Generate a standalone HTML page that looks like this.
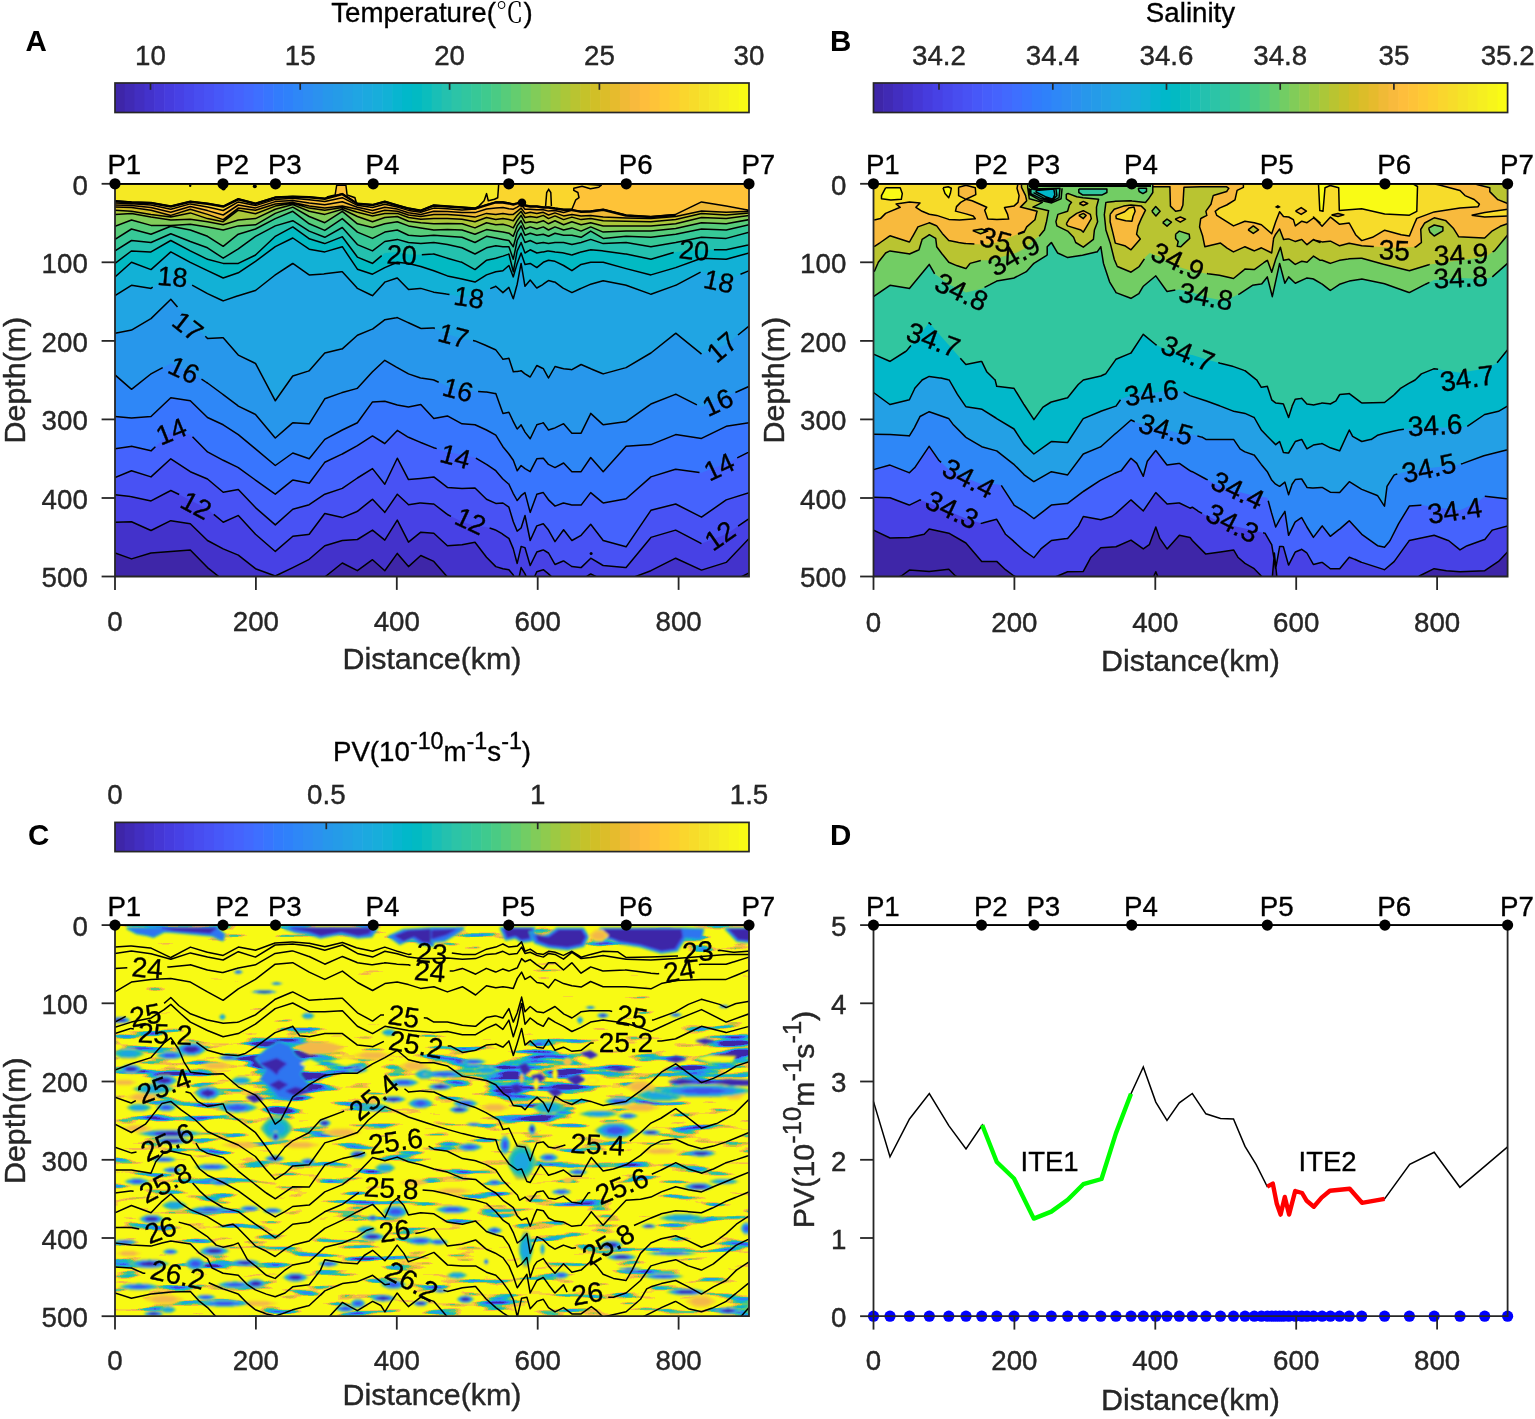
<!DOCTYPE html>
<html lang="en"><head><meta charset="utf-8"><title>Figure</title>
<style>html,body{margin:0;padding:0;background:#fff}body{width:1535px;height:1419px;overflow:hidden}svg{display:block;font-family:'Liberation Sans', 'Noto Sans CJK SC', sans-serif}text{stroke:currentColor;stroke-width:0.35px;paint-order:stroke}</style>
</head><body>
<svg width="1535" height="1419" viewBox="0 0 1535 1419">
<rect width="1535" height="1419" fill="#fff"/>
<g id="panelA">
<clipPath id="clipA"><rect x="115" y="183.8" width="634" height="392.7"/></clipPath>
<g clip-path="url(#clipA)">
<rect x="115" y="183.8" width="634" height="392.7" fill="#f5e924"/>
<path d="M115 200.8L131.5 201.9L151 202.5L170.8 206.1L190.3 201.3L207.5 203.3L223.2 206.1L238.3 198.8L255.5 203.3L275.3 197.1L292.8 196.3L309.2 196.7L324.8 198.3L342.3 193.6L357.4 203.3L372.5 204.6L384.8 201.3L397.3 205L408.5 208.1L420.8 210.2L433.8 205L447.4 206.1L462 207.1L475 208.1L478.9 206.1L484.1 200.8L486.6 193.6L488.3 200.8L494.5 199.2L497.7 197.7L498.7 184.2L498.7 178.8L754 178.8L754 183.8L754 636.5L110 636.5L110 200.8Z" fill="#fad62d"/>
<path d="M115 202.9L131.5 203.7L151 205.1L170.8 209.2L190.3 203.9L207.5 207L223.2 210.5L238.3 201.9L255.5 205.6L275.3 199.4L292.8 198.3L309.2 199.8L324.8 201.6L342.3 197.7L357.4 205.3L372.5 207.5L384.8 204.2L397.3 207.1L408.5 210.4L420.8 212.3L433.8 208.1L447.4 208.8L462 209.9L475 209.1L486.5 204.6L495.8 201.9L502.9 201.9L508.9 202.9L513.3 204L517.2 202.9L521.1 200.8L525 205L530.2 206.1L536.8 206.1L543.3 207.1L548.5 207.1L555 208.1L563.6 209.2L571.9 209.2L575.8 199.8L579 197.7L577.9 192.5L573.8 190.4L573.8 188.3L582.1 186.3L590.4 188.8L598.8 187.3L601.3 185.2L586.3 184.2L577.9 184.2L577.9 178.8L754 178.8L754 183.8L754 636.5L110 636.5L110 202.9Z" fill="#fec338"/>
<path d="M115 205L131.5 205.6L151 207.6L170.8 212.2L190.3 206.5L207.5 210.6L223.2 215L238.3 205L255.5 207.9L275.3 201.6L292.8 200.4L309.2 202.9L324.8 204.8L342.3 201.8L357.4 207.2L372.5 210.4L384.8 207.2L397.3 209.1L408.5 212.7L420.8 214.4L433.8 211.2L447.4 211.6L462 212.6L475 212.6L486.5 209L495.8 208.1L502.9 207.6L508.9 208.7L513.3 209.2L517.2 207.1L521.1 204.5L525 209.2L530.2 209.2L536.8 209.7L543.3 209.7L548.5 211.1L555 210.5L563.6 212.5L571.9 210.2L581.1 211.3L590.7 210.9L603.2 209.2L626.1 215L650.9 216.5L675.7 214.4L701.5 201.9L726.2 206.1L749.1 210.2L754 210.2L754 636.5L110 636.5L110 205Z" fill="#f0ba36"/>
<path d="M115 207.1L131.5 207.5L151 210.2L170.8 215.4L190.3 209.2L207.5 214.4L223.2 219.6L238.3 208.1L255.5 210.2L275.3 204L292.8 202.5L309.2 206.1L324.8 208.1L342.3 206.1L357.4 209.2L372.5 213.4L384.8 210.2L397.3 211.3L408.5 215L420.8 216.5L433.8 214.4L447.4 214.4L462 215.4L475 217.1L486.5 213.4L495.8 214.4L502.9 213.4L508.9 214.4L513.3 214.4L517.2 211.3L521.1 208.1L525 213.4L530.2 212.3L536.8 213.4L543.3 212.3L548.5 215L555 212.9L563.6 215.9L571.9 214.4L581.1 215.9L590.7 215.4L603.2 217.1L626.1 217.9L650.9 218.6L675.7 216.5L701.5 210.9L726.2 212.3L749.1 211.3L754 211.3L754 636.5L110 636.5L110 207.1Z" fill="#d1bf27"/>
<path d="M115 210.2L131.5 211.3L151 214.4L170.8 217.1L190.3 212.9L207.5 218.6L223.2 221.7L238.3 210.2L255.5 213.8L275.3 206.1L292.8 203.3L309.2 208.1L324.8 210.2L342.3 207.5L357.4 212.3L372.5 215.9L384.8 213.4L397.3 213.4L408.5 217.5L420.8 219.2L433.8 218.6L447.4 218.6L462 219.2L475 221.7L486.5 217.5L495.8 219.6L502.9 218.6L508.9 219.6L513.3 220.7L517.2 215.4L521.1 211.3L525 217.5L530.2 216.5L536.8 217.5L543.3 215.4L548.5 218.6L555 215.9L563.6 219.6L571.9 217.1L581.1 219.6L590.7 218.6L603.2 220.7L626.1 221.3L650.9 221.7L675.7 219.6L701.5 213.4L726.2 215L749.1 212.9L754 212.9L754 636.5L110 636.5L110 210.2Z" fill="#abc739"/>
<path d="M115 214.4L131.5 213.4L151 217.1L170.8 220L190.3 219.2L207.5 221.7L223.2 224.8L238.3 220L255.5 218.6L275.3 209.2L292.8 204.6L309.2 211.3L324.8 214.4L342.3 209.2L357.4 216.5L372.5 221.7L384.8 217.5L397.3 216.5L408.5 221.3L420.8 222.7L433.8 223.8L447.4 223.4L462 223.8L475 227.9L486.5 222.7L495.8 224.8L502.9 224.2L508.9 225.9L513.3 227.9L517.2 220.7L521.1 215.4L525 222.7L530.2 221.7L536.8 222.7L543.3 220.7L548.5 223.8L555 220.7L563.6 224.8L571.9 221.7L581.1 224.8L590.7 222.7L603.2 225.9L626.1 225.9L650.9 225.9L675.7 223.8L701.5 217.5L726.2 218.6L749.1 215.4L754 215.4L754 636.5L110 636.5L110 214.4Z" fill="#81cc59"/>
<path d="M115 226.3L131.5 220L151 225.4L170.8 225.4L190.3 224.2L207.5 226.9L223.2 230L238.3 225.9L255.5 224.8L275.3 213.4L292.8 207.1L309.2 216.5L324.8 222.7L342.3 211.3L357.4 223.8L372.5 227.5L384.8 223.8L397.3 221.7L408.5 225.9L420.8 227.9L433.8 230L447.4 229.6L462 230L475 234.2L486.5 229.6L495.8 231.1L502.9 232.1L508.9 233.2L513.3 236.3L517.2 225.9L521.1 220.7L525 229L530.2 226.9L536.8 229L543.3 226.9L548.5 230L555 226.9L563.6 230L571.9 227.9L581.1 231.1L590.7 226.9L603.2 232.1L626.1 231.1L650.9 231.1L675.7 228.4L701.5 222.7L726.2 223.8L749.1 219.6L754 219.6L754 636.5L110 636.5L110 226.3Z" fill="#57cc7a"/>
<path d="M115 239.4L131.5 229L151 234.2L170.8 226.3L190.3 230L207.5 236.3L223.2 246.3L238.3 234.2L255.5 229L275.3 218.6L292.8 211.3L309.2 223.8L324.8 230.4L342.3 218.6L357.4 232.1L372.5 238.4L384.8 232.1L397.3 230L408.5 235.2L420.8 236.3L433.8 235.2L447.4 236.3L462 237.3L475 242.5L486.5 236.3L495.8 238L502.9 239.4L508.9 240.5L513.3 246.7L517.2 232.1L521.1 225.9L525 235.2L530.2 233.2L536.8 235.2L543.3 234.2L548.5 236.3L555 233.2L563.6 235.2L571.9 235.2L581.1 237.3L590.7 231.1L603.2 238.4L626.1 236.3L650.9 237.3L675.7 234.2L701.5 229L726.2 230L749.1 224.8L754 224.8L754 636.5L110 636.5L110 239.4Z" fill="#37c897"/>
<path d="M115 250.9L131.5 240.5L151 242.5L170.8 233.8L190.3 241.5L207.5 247.8L223.2 258.2L238.3 248.8L255.5 236.3L275.3 225.9L292.8 220.7L309.2 231.1L324.8 237.3L342.3 227.5L357.4 244.6L372.5 250.9L384.8 241.5L397.3 239.4L408.5 242.5L420.8 243.6L433.8 242.5L447.4 244.6L462 247.8L475 254L486.5 247.8L495.8 245.7L502.9 246.7L508.9 246.7L513.3 259.2L517.2 240.5L521.1 233.2L525 242.5L530.2 240.5L536.8 243.6L543.3 242.5L548.5 243.6L555 242.5L563.6 242.5L571.9 244.6L581.1 242.5L590.7 239.4L603.2 243.6L626.1 242.5L650.9 246.7L675.7 242.5L701.5 237.3L726.2 238.4L749.1 232.1L754 232.1L754 636.5L110 636.5L110 250.9Z" fill="#24c1ae"/>
<path d="M115 263.4L131.5 250.9L151 251.9L170.8 240.5L190.3 250.9L207.5 259.2L223.2 263.4L238.3 263.4L255.5 255L275.3 236.3L292.8 226.9L309.2 238.8L324.8 243.6L342.3 236.7L357.4 257.1L372.5 263.4L384.8 253L397.3 251.9L408.5 254.6L420.8 254.8L433.8 254L447.4 258.2L462 262.3L475 269.6L486.5 260.3L495.8 258.2L502.9 256.1L508.9 254L513.3 271.7L517.2 250.9L521.1 242.5L525 253L530.2 249.8L536.8 253L543.3 251.9L548.5 250.9L555 251.9L563.6 253L571.9 255L581.1 251.9L590.7 249.8L603.2 250.9L626.1 254L650.9 259.2L675.7 251.9L701.5 249.8L726.2 249.8L749.1 244.6L754 244.6L754 636.5L110 636.5L110 263.4Z" fill="#02bac3"/>
<path d="M115 276.9L131.5 262.3L151 269.6L170.8 251.9L190.3 262.3L207.5 270.7L223.2 278L238.3 272.8L255.5 261.3L275.3 246.7L292.8 238L309.2 249.2L324.8 251.9L342.3 246.7L357.4 269.2L372.5 274.2L384.8 267.6L397.3 262.3L408.5 263.4L420.8 266.5L433.8 270.7L447.4 275.9L462 279L475 282.1L486.5 274.9L495.8 271.7L502.9 270.7L508.9 265.5L513.3 276.9L517.2 263.4L521.1 253L525 264.4L530.2 263.4L536.8 267.6L543.3 262.3L548.5 260.3L555 261.3L563.6 265.5L571.9 270.7L581.1 264.4L590.7 262.3L603.2 262.3L626.1 268.6L650.9 274.9L675.7 267.6L701.5 258.2L726.2 259.2L749.1 253L754 253L754 636.5L110 636.5L110 276.9Z" fill="#12b1d6"/>
<path d="M115 295.7L131.5 285.3L151 288.4L170.8 274.9L190.3 284.2L207.5 293.6L223.2 300.9L238.3 295.7L255.5 290.5L275.3 274.9L292.8 263.4L309.2 274.9L324.8 273.8L342.3 271.7L357.4 288.4L372.5 295.7L384.8 282.1L397.3 278L408.5 289.4L420.8 288.4L433.8 292.2L447.4 294.2L462 296.7L475 295.7L486.5 290.1L495.8 286.3L502.9 292.6L508.9 287.4L513.3 298.8L517.2 284.2L521.1 263.4L525 286.3L530.2 280.1L536.8 288L543.3 284.2L548.5 280.5L555 282.1L563.6 288.4L571.9 292.6L581.1 288.4L590.7 284.2L603.2 280.7L626.1 285.3L650.9 294.2L675.7 285.3L701.5 271.7L726.2 280.1L749.1 270.7L754 270.7L754 636.5L110 636.5L110 295.7Z" fill="#20a5e3"/>
<path d="M115 333.2L131.5 330.1L151 318.6L170.8 299.2L190.3 321.8L207.5 338.4L223.2 337.8L238.3 355.1L255.5 363.4L275.3 400.8L292.8 376L309.2 370.7L324.8 353L342.3 348.9L357.4 335.3L372.5 329.1L384.8 319.7L397.3 317.6L408.5 322.8L420.8 328.4L433.8 328L447.4 334.3L462 338.4L475 340.9L486.5 345.7L495.8 349.9L502.9 359.3L508.9 358.2L513.3 371.8L517.2 371.4L521.1 370.7L525 373.9L530.2 377L536.8 365.5L543.3 368.7L548.5 378L555 366.6L563.6 368.7L571.9 369.7L581.1 364.5L590.7 368.7L603.2 373.9L626.1 367.6L650.9 353L675.7 333.2L701.5 354.1L726.2 344.7L749.1 325.9L754 325.9L754 636.5L110 636.5L110 333.2Z" fill="#2797eb"/>
<path d="M115 374.9L131.5 389.3L151 373.9L170.8 363.4L190.3 371.8L207.5 383L223.2 394.6L238.3 406.1L255.5 414.4L275.3 438L292.8 422.7L309.2 423.8L324.8 398.8L342.3 392.5L357.4 388.3L372.5 371.8L384.8 360.3L397.3 367.6L408.5 373.9L420.8 378L433.8 380L447.4 386.3L462 390.4L475 391.5L486.5 392.1L495.8 393.6L502.9 413.4L508.9 412.3L513.3 421.7L517.2 429L521.1 424.8L525 432.1L530.2 438.8L536.8 424.8L543.3 422.7L548.5 430L555 427.9L563.6 423.8L571.9 433.2L581.1 433.2L590.7 413.4L603.2 424.8L626.1 421.7L650.9 404L675.7 394.2L701.5 407.1L726.2 396.7L749.1 386.3L754 386.3L754 636.5L110 636.5L110 374.9Z" fill="#2e87f7"/>
<path d="M115 416.5L131.5 417.9L151 416.5L170.8 397.7L190.3 400.8L207.5 417.5L223.2 424.8L238.3 434.6L255.5 448.8L275.3 465.5L292.8 453L309.2 458.8L324.8 439.4L342.3 430L357.4 422.7L372.5 401.9L384.8 401.3L397.3 405L408.5 407.1L420.8 404.6L433.8 418.6L447.4 415.9L462 423.8L475 424.8L486.5 430L495.8 435.2L502.9 446.7L508.9 454L513.3 460.3L517.2 470.7L521.1 465.5L525 468.6L530.2 471.7L536.8 458.8L543.3 458.2L548.5 464.4L555 467.6L563.6 463L571.9 471.7L581.1 471.7L590.7 457.5L603.2 471.7L626.1 446.3L650.9 444.6L675.7 434.6L701.5 438.4L726.2 426.3L749.1 422.7L754 422.7L754 636.5L110 636.5L110 416.5Z" fill="#3875fe"/>
<path d="M115 448.8L131.5 446.3L151 450.9L170.8 432.1L190.3 434.6L207.5 451.9L223.2 460.3L238.3 467.6L255.5 480.1L275.3 494.2L292.8 480.1L309.2 483.2L324.8 462.3L342.3 454L357.4 445.7L372.5 435.9L384.8 443.6L397.3 430.4L408.5 437.3L420.8 442.5L433.8 447.8L447.4 451.9L462 455L475 457.5L486.5 464.4L495.8 470.7L502.9 479L508.9 484.2L513.3 493.6L517.2 500.5L521.1 495.7L525 492.6L530.2 512.4L536.8 494.2L543.3 492.6L548.5 499.9L555 506.1L563.6 503L571.9 505.1L581.1 505.1L590.7 492.6L603.2 503L626.1 498.8L650.9 476.9L675.7 469.2L701.5 472.8L726.2 463.4L749.1 451.9L754 451.9L754 636.5L110 636.5L110 448.8Z" fill="#4563fd"/>
<path d="M115 477.6L131.5 470.7L151 476.9L170.8 458.8L190.3 471.7L207.5 479L223.2 492.2L238.3 489.4L255.5 507.6L275.3 524.9L292.8 509.2L309.2 504.7L324.8 494.2L342.3 488.4L357.4 478L372.5 468.6L384.8 484.2L397.3 458.2L408.5 479.6L420.8 478.4L433.8 476.9L447.4 487.4L462 488.4L475 488L486.5 499.2L495.8 503.4L502.9 503L508.9 507.2L513.3 521.8L517.2 531.1L521.1 528L525 515.5L530.2 540.5L536.8 525.9L543.3 523.8L548.5 530.1L555 541.6L563.6 529.7L571.9 540.5L581.1 535.3L590.7 524.3L603.2 540.5L626.1 546.8L650.9 510.3L675.7 504L701.5 517.2L726.2 499.9L749.1 492.6L754 492.6L754 636.5L110 636.5L110 477.6Z" fill="#4852f4"/>
<path d="M115 494.7L131.5 496.7L151 500.9L170.8 490.5L190.3 499.9L207.5 509.2L223.2 522.2L238.3 515.5L255.5 534.3L275.3 551.4L292.8 536.3L309.2 534.3L324.8 513.4L342.3 517.6L357.4 511.3L372.5 499.2L384.8 512.4L397.3 494.2L408.5 504.7L420.8 503L433.8 504L447.4 514.5L462 521.8L475 525.9L486.5 527L495.8 530.1L502.9 534.3L508.9 538.4L513.3 548.9L517.2 563.4L521.1 546.4L525 547.8L530.2 565.5L536.8 552L543.3 549.9L548.5 553L555 564.5L563.6 560.9L571.9 566.6L581.1 567.6L590.7 558.2L603.2 565.5L626.1 567.6L650.9 537.4L675.7 530.1L701.5 543.6L726.2 534.3L749.1 518.6L754 518.6L754 636.5L110 636.5L110 494.7Z" fill="#4741e5"/>
<path d="M115 522.2L131.5 521.8L151 530.5L170.8 520.7L190.3 523.8L207.5 540.5L223.2 548.9L238.3 555.1L255.5 568.7L275.3 576L292.8 567.6L309.2 559.3L324.8 545.7L342.3 540.5L357.4 539.5L372.5 530.1L384.8 540.1L397.3 520.1L408.5 542.2L420.8 532.2L433.8 533.2L447.4 545.7L462 544.7L475 542.2L486.5 557.2L495.8 566.6L502.9 568.7L508.9 569.7L513.3 574.9L517.2 586.4L521.1 567.6L525 573.9L530.2 586.4L536.8 571.8L543.3 569.7L548.5 573.9L555 580.1L563.6 577L571.9 580.1L581.1 580.1L590.7 573.9L603.2 580.1L626.1 580.1L650.9 570.7L675.7 558.2L701.5 570.1L726.2 562.4L749.1 538.4L754 538.4L754 636.5L110 636.5L110 522.2Z" fill="#4332cb"/>
<path d="M115 553L131.5 558.9L151 553L170.8 551.4L190.3 549.9L207.5 567.6L223.2 580.1L238.3 586.4L255.5 588.5L275.3 588.5L292.8 588.5L309.2 586.4L324.8 577L342.3 563L357.4 570.7L372.5 559.7L384.8 570.7L397.3 553.4L408.5 566.6L420.8 555.5L433.8 561.4L447.4 577L462 588.5L475 588.5L486.5 588.5L495.8 588.5L502.9 588.5L508.9 588.5L513.3 588.5L517.2 588.5L521.1 588.5L525 588.5L530.2 588.5L536.8 588.5L543.3 588.5L548.5 588.5L555 588.5L563.6 588.5L571.9 588.5L581.1 588.5L590.7 588.5L603.2 588.5L626.1 588.5L650.9 588.5L675.7 588.5L701.5 588.5L726.2 584.3L749.1 572.8L754 572.8L754 636.5L110 636.5L110 553Z" fill="#3e26a8"/>
<path d="M326.7 197.1L335.1 195L336.7 185.2L345.9 185.2L347.1 195L354.9 197.7L356.3 202.5" fill="#fec338" stroke="#000" stroke-width="1.5"/>
<path d="M545.6 206.1L546.7 192.5L548.7 189.4L550.8 192.5L551.4 206.1" fill="#fad62d" stroke="#000" stroke-width="1.5"/>
<path d="M115 200.8L131.5 201.9L151 202.5L170.8 206.1L190.3 201.3L207.5 203.3L223.2 206.1L238.3 198.8L255.5 203.3L275.3 197.1L292.8 196.3L309.2 196.7L324.8 198.3L342.3 193.6L357.4 203.3L372.5 204.6L384.8 201.3L397.3 205L408.5 208.1L420.8 210.2L433.8 205L447.4 206.1L462 207.1L475 208.1L478.9 206.1L484.1 200.8L486.6 193.6L488.3 200.8L494.5 199.2L497.7 197.7L498.7 184.2M115 202.9L131.5 203.7L151 205.1L170.8 209.2L190.3 203.9L207.5 207L223.2 210.5L238.3 201.9L255.5 205.6L275.3 199.4L292.8 198.3L309.2 199.8L324.8 201.6L342.3 197.7L357.4 205.3L372.5 207.5L384.8 204.2L397.3 207.1L408.5 210.4L420.8 212.3L433.8 208.1L447.4 208.8L462 209.9L475 209.1L486.5 204.6L495.8 201.9L502.9 201.9L508.9 202.9L513.3 204L517.2 202.9L521.1 200.8L525 205L530.2 206.1L536.8 206.1L543.3 207.1L548.5 207.1L555 208.1L563.6 209.2L571.9 209.2L575.8 199.8L579 197.7L577.9 192.5L573.8 190.4L573.8 188.3L582.1 186.3L590.4 188.8L598.8 187.3L601.3 185.2L586.3 184.2L577.9 184.2M115 205L131.5 205.6L151 207.6L170.8 212.2L190.3 206.5L207.5 210.6L223.2 215L238.3 205L255.5 207.9L275.3 201.6L292.8 200.4L309.2 202.9L324.8 204.8L342.3 201.8L357.4 207.2L372.5 210.4L384.8 207.2L397.3 209.1L408.5 212.7L420.8 214.4L433.8 211.2L447.4 211.6L462 212.6L475 212.6L486.5 209L495.8 208.1L502.9 207.6L508.9 208.7L513.3 209.2L517.2 207.1L521.1 204.5L525 209.2L530.2 209.2L536.8 209.7L543.3 209.7L548.5 211.1L555 210.5L563.6 212.5L571.9 210.2L581.1 211.3L590.7 210.9L603.2 209.2L626.1 215L650.9 216.5L675.7 214.4L701.5 201.9L726.2 206.1L749.1 210.2M115 207.1L131.5 207.5L151 210.2L170.8 215.4L190.3 209.2L207.5 214.4L223.2 219.6L238.3 208.1L255.5 210.2L275.3 204L292.8 202.5L309.2 206.1L324.8 208.1L342.3 206.1L357.4 209.2L372.5 213.4L384.8 210.2L397.3 211.3L408.5 215L420.8 216.5L433.8 214.4L447.4 214.4L462 215.4L475 217.1L486.5 213.4L495.8 214.4L502.9 213.4L508.9 214.4L513.3 214.4L517.2 211.3L521.1 208.1L525 213.4L530.2 212.3L536.8 213.4L543.3 212.3L548.5 215L555 212.9L563.6 215.9L571.9 214.4L581.1 215.9L590.7 215.4L603.2 217.1L626.1 217.9L650.9 218.6L675.7 216.5L701.5 210.9L726.2 212.3L749.1 211.3M115 210.2L131.5 211.3L151 214.4L170.8 217.1L190.3 212.9L207.5 218.6L223.2 221.7L238.3 210.2L255.5 213.8L275.3 206.1L292.8 203.3L309.2 208.1L324.8 210.2L342.3 207.5L357.4 212.3L372.5 215.9L384.8 213.4L397.3 213.4L408.5 217.5L420.8 219.2L433.8 218.6L447.4 218.6L462 219.2L475 221.7L486.5 217.5L495.8 219.6L502.9 218.6L508.9 219.6L513.3 220.7L517.2 215.4L521.1 211.3L525 217.5L530.2 216.5L536.8 217.5L543.3 215.4L548.5 218.6L555 215.9L563.6 219.6L571.9 217.1L581.1 219.6L590.7 218.6L603.2 220.7L626.1 221.3L650.9 221.7L675.7 219.6L701.5 213.4L726.2 215L749.1 212.9M115 214.4L131.5 213.4L151 217.1L170.8 220L190.3 219.2L207.5 221.7L223.2 224.8L238.3 220L255.5 218.6L275.3 209.2L292.8 204.6L309.2 211.3L324.8 214.4L342.3 209.2L357.4 216.5L372.5 221.7L384.8 217.5L397.3 216.5L408.5 221.3L420.8 222.7L433.8 223.8L447.4 223.4L462 223.8L475 227.9L486.5 222.7L495.8 224.8L502.9 224.2L508.9 225.9L513.3 227.9L517.2 220.7L521.1 215.4L525 222.7L530.2 221.7L536.8 222.7L543.3 220.7L548.5 223.8L555 220.7L563.6 224.8L571.9 221.7L581.1 224.8L590.7 222.7L603.2 225.9L626.1 225.9L650.9 225.9L675.7 223.8L701.5 217.5L726.2 218.6L749.1 215.4M115 226.3L131.5 220L151 225.4L170.8 225.4L190.3 224.2L207.5 226.9L223.2 230L238.3 225.9L255.5 224.8L275.3 213.4L292.8 207.1L309.2 216.5L324.8 222.7L342.3 211.3L357.4 223.8L372.5 227.5L384.8 223.8L397.3 221.7L408.5 225.9L420.8 227.9L433.8 230L447.4 229.6L462 230L475 234.2L486.5 229.6L495.8 231.1L502.9 232.1L508.9 233.2L513.3 236.3L517.2 225.9L521.1 220.7L525 229L530.2 226.9L536.8 229L543.3 226.9L548.5 230L555 226.9L563.6 230L571.9 227.9L581.1 231.1L590.7 226.9L603.2 232.1L626.1 231.1L650.9 231.1L675.7 228.4L701.5 222.7L726.2 223.8L749.1 219.6M115 239.4L131.5 229L151 234.2L170.8 226.3L190.3 230L207.5 236.3L223.2 246.3L238.3 234.2L255.5 229L275.3 218.6L292.8 211.3L309.2 223.8L324.8 230.4L342.3 218.6L357.4 232.1L372.5 238.4L384.8 232.1L397.3 230L408.5 235.2L420.8 236.3L433.8 235.2L447.4 236.3L462 237.3L475 242.5L486.5 236.3L495.8 238L502.9 239.4L508.9 240.5L513.3 246.7L517.2 232.1L521.1 225.9L525 235.2L530.2 233.2L536.8 235.2L543.3 234.2L548.5 236.3L555 233.2L563.6 235.2L571.9 235.2L581.1 237.3L590.7 231.1L603.2 238.4L626.1 236.3L650.9 237.3L675.7 234.2L701.5 229L726.2 230L749.1 224.8M115 250.9L131.5 240.5L151 242.5L170.8 233.8L190.3 241.5L207.5 247.8L223.2 258.2L238.3 248.8L255.5 236.3L275.3 225.9L292.8 220.7L309.2 231.1L324.8 237.3L342.3 227.5L357.4 244.6L372.5 250.9L384.8 241.5L397.3 239.4L408.5 242.5L420.8 243.6L433.8 242.5L447.4 244.6L462 247.8L475 254L486.5 247.8L495.8 245.7L502.9 246.7L508.9 246.7L513.3 259.2L517.2 240.5L521.1 233.2L525 242.5L530.2 240.5L536.8 243.6L543.3 242.5L548.5 243.6L555 242.5L563.6 242.5L571.9 244.6L581.1 242.5L590.7 239.4L603.2 243.6L626.1 242.5L650.9 246.7L675.7 242.5L701.5 237.3L726.2 238.4L749.1 232.1M115 263.4L130.7 251.5L131.5 250.9L150 251.9L151 251.9L169.9 241L170.8 240.5L189.4 250.4L190.3 250.9L206.6 258.8L207.5 259.2L222.2 263.1L223.2 263.4L237.3 263.4L238.3 263.4L254.6 255.5L255.5 255L274.6 237L275.3 236.3L291.9 227.4L292.8 226.9L308.4 238.2L309.2 238.8L323.8 243.3L324.8 243.6L341.3 237.1L342.3 236.7L356.8 256.3L357.4 257.1L371.6 263L372.5 263.4L381.7 255.6M421.8 254.8L432.8 254.1L433.8 254L446.4 257.9L447.4 258.2L461 262.1L462 262.3L474.1 269.1L475 269.6L485.7 260.9L486.5 260.3L494.8 258.4L495.8 258.2L501.9 256.4L502.9 256.1L507.9 254.4L508.9 254L513.1 270.7L513.3 271.7L517 251.9L517.2 250.9L520.7 243.5L521.1 242.5L524.6 252L525 253L529.3 250.4L530.2 249.8L535.9 252.5L536.8 253L542.2 252.1L543.3 251.9L547.5 251.1L548.5 250.9L553.9 251.7L555 251.9L562.5 252.8L563.6 253L570.9 254.8L571.9 255L580.1 252.3L581.1 251.9L589.6 250.1L590.7 249.8L602.2 250.8L603.2 250.9L625.1 253.9L626.1 254L649.9 259L650.9 259.2L673.7 252.5M713.9 249.8L725.2 249.8L726.2 249.8L748.1 244.9L749.1 244.6M115 276.9L131.5 262.3L151 269.6L170.8 251.9L190.3 262.3L207.5 270.7L223.2 278L238.3 272.8L255.5 261.3L275.3 246.7L292.8 238L309.2 249.2L324.8 251.9L342.3 246.7L357.4 269.2L372.5 274.2L384.8 267.6L397.3 262.3L408.5 263.4L420.8 266.5L433.8 270.7L447.4 275.9L462 279L475 282.1L486.5 274.9L495.8 271.7L502.9 270.7L508.9 265.5L513.3 276.9L517.2 263.4L521.1 253L525 264.4L530.2 263.4L536.8 267.6L543.3 262.3L548.5 260.3L555 261.3L563.6 265.5L571.9 270.7L581.1 264.4L590.7 262.3L603.2 262.3L626.1 268.6L650.9 274.9L675.7 267.6L701.5 258.2L726.2 259.2L749.1 253M115 295.7L130.6 285.8L131.5 285.3L150 288.2L151 288.4L152.7 287.2M192.1 285.2L206.6 293.1L207.5 293.6L222.3 300.5L223.2 300.9L237.3 296L238.3 295.7L254.5 290.8L255.5 290.5L274.5 275.5L275.3 274.9L291.9 264L292.8 263.4L308.4 274.3L309.2 274.9L323.8 273.9L324.8 273.8L341.3 271.8L342.3 271.7L356.7 287.6L357.4 288.4L371.6 295.2L372.5 295.7L384.1 282.9L384.8 282.1L396.3 278.3L397.3 278L407.8 288.7L408.5 289.4L419.8 288.5L420.8 288.4L432.8 291.9L433.8 292.2L446.4 294.1L447.4 294.2L449.5 294.6M490.2 288.6L494.9 286.7L495.8 286.3L502.1 291.9L502.9 292.6L508 288.1L508.9 287.4L512.9 297.9L513.3 298.8L516.9 285.2L517.2 284.2L520.9 264.4L521.1 263.4L524.8 285.3L525 286.3L529.6 280.8L530.2 280.1L536.1 287.2L536.8 288L542.4 284.8L543.3 284.2L547.6 281.1L548.5 280.5L553.9 281.9L555 282.1L562.7 287.8L563.6 288.4L571 292.1L571.9 292.6L580.2 288.8L581.1 288.4L589.7 284.6L590.7 284.2L602.2 281L603.2 280.7L625.1 285.1L626.1 285.3L649.9 293.9L650.9 294.2L674.7 285.6L675.7 285.3L700.6 272.2M740.5 274.2L748.1 271.1L749.1 270.7M115 333.2L130.5 330.3L131.5 330.1L150.1 319.1L151 318.6L170.1 300L170.8 299.2L177.5 307M205.3 336.3L206.8 337.7L207.5 338.4L222.2 337.8L223.2 337.8L237.6 354.3L238.3 355.1L254.6 363L255.5 363.4L274.8 399.9L275.3 400.8L292.2 376.8L292.8 376L308.2 371.1L309.2 370.7L324.1 353.8L324.8 353L341.3 349.1L342.3 348.9L356.6 336L357.4 335.3L371.6 329.4L372.5 329.1L384 320.3L384.8 319.7L396.3 317.8L397.3 317.6L407.6 322.4L408.5 322.8L419.9 328L420.8 328.4L432.8 328L433.8 328L434.8 328.5M473 340.5L474 340.7L475 340.9L485.5 345.3L486.5 345.7L494.9 349.5L495.8 349.9L502.3 358.4L502.9 359.3L507.9 358.4L508.9 358.2L513 370.8L513.3 371.8L515.9 371.5L517.2 371.4L519.8 371L521.1 370.7L524 373.1L525 373.9L529.3 376.5L530.2 377L536.3 366.4L536.8 365.5L542.4 368.2L543.3 368.7L548 377.1L548.5 378L554.5 367.5L555 366.6L562.5 368.4L563.6 368.7L570.9 369.6L571.9 369.7L580.2 365L581.1 364.5L589.7 368.2L590.7 368.7L602.2 373.5L603.2 373.9L625.1 367.9L626.1 367.6L650 353.5L650.9 353L674.9 333.9L675.7 333.2L700.7 353.4L701.5 354.1M738 335L748.3 326.6L749.1 325.9M115 374.9L130.7 388.6L131.5 389.3L150.2 374.5L151 373.9L162.7 367.7M201.5 379.1L206.6 382.5L207.5 383L222.4 394L223.2 394.6L237.5 405.4L238.3 406.1L254.6 414L255.5 414.4L274.6 437.2L275.3 438L292 423.4L292.8 422.7L308.2 423.7L309.2 423.8L324.3 399.6L324.8 398.8L341.3 392.9L342.3 392.5L356.4 388.6L357.4 388.3L371.8 372.5L372.5 371.8L384 361L384.8 360.3L396.4 367.1L397.3 367.6L407.6 373.4L408.5 373.9L419.8 377.7L420.8 378L432.8 379.8L433.8 380L438.7 382.2M478.1 391.6L485.5 392L486.5 392.1L494.8 393.4L495.8 393.6L502.6 412.4L502.9 413.4L507.9 412.5L508.9 412.3L512.9 420.8L513.3 421.7L516.7 428.1L517.2 429L520.3 425.7L521.1 424.8L524.5 431.2L525 432.1L529.6 438L530.2 438.8L536.4 425.8L536.8 424.8L542.2 423.1L543.3 422.7L547.9 429.1L548.5 430L553.9 428.3L555 427.9L562.6 424.2L563.6 423.8L571.2 432.4L571.9 433.2L580.1 433.2L581.1 433.2L590.3 414.3L590.7 413.4L602.4 424.1L603.2 424.8L625.1 421.8L626.1 421.7L650.1 404.6L650.9 404L674.7 394.6L675.7 394.2L696.9 404.8M735.4 392.5L748.2 386.7L749.1 386.3M115 416.5L131.5 417.9L151 416.5L170.8 397.7L190.3 400.8L207.5 417.5L223.2 424.8L238.3 434.6L255.5 448.8L275.3 465.5L292.8 453L309.2 458.8L324.8 439.4L342.3 430L357.4 422.7L372.5 401.9L384.8 401.3L397.3 405L408.5 407.1L420.8 404.6L433.8 418.6L447.4 415.9L462 423.8L475 424.8L486.5 430L495.8 435.2L502.9 446.7L508.9 454L513.3 460.3L517.2 470.7L521.1 465.5L525 468.6L530.2 471.7L536.8 458.8L543.3 458.2L548.5 464.4L555 467.6L563.6 463L571.9 471.7L581.1 471.7L590.7 457.5L603.2 471.7L626.1 446.3L650.9 444.6L675.7 434.6L701.5 438.4L726.2 426.3L749.1 422.7M115 448.8L130.5 446.4L131.5 446.3L150 450.6L151 450.9L155.4 446.7M192.5 436.8L206.8 451.2L207.5 451.9L222.3 459.8L223.2 460.3L237.4 467.1L238.3 467.6L254.7 479.5L255.5 480.1L274.5 493.6L275.3 494.2L292 480.7L292.8 480.1L308.2 483L309.2 483.2L324.2 463.1L324.8 462.3L341.4 454.4L342.3 454L356.5 446.2L357.4 445.7L371.7 436.4L372.5 435.9L383.9 443L384.8 443.6L396.6 431.2L397.3 430.4L407.6 436.8L408.5 437.3L419.9 442.1L420.8 442.5L432.9 447.4L433.8 447.8L436.7 448.6M475.9 458.1L485.6 463.9L486.5 464.4L495 470.1L495.8 470.7L502.2 478.2L502.9 479L508 483.5L508.9 484.2L512.9 492.7L513.3 493.6L516.6 499.5L517.2 500.5L520.5 496.5L521.1 495.7L524 493.4L525 492.6L529.9 511.4L530.2 512.4L536.5 495.2L536.8 494.2L542.2 492.8L543.3 492.6L547.9 499L548.5 499.9L554.3 505.4L555 506.1L562.6 503.3L563.6 503L570.9 504.8L571.9 505.1L580.1 505.1L581.1 505.1L590.1 493.4L590.7 492.6L602.4 502.3L603.2 503L625.1 499L626.1 498.8L650.1 477.6L650.9 476.9L674.7 469.5L675.7 469.2L699.5 472.5M737.2 457.9L748.2 452.4L749.1 451.9M115 477.6L131.5 470.7L151 476.9L170.8 458.8L190.3 471.7L207.5 479L223.2 492.2L238.3 489.4L255.5 507.6L275.3 524.9L292.8 509.2L309.2 504.7L324.8 494.2L342.3 488.4L357.4 478L372.5 468.6L384.8 484.2L397.3 458.2L408.5 479.6L420.8 478.4L433.8 476.9L447.4 487.4L462 488.4L475 488L486.5 499.2L495.8 503.4L502.9 503L508.9 507.2L513.3 521.8L517.2 531.1L521.1 528L525 515.5L530.2 540.5L536.8 525.9L543.3 523.8L548.5 530.1L555 541.6L563.6 529.7L571.9 540.5L581.1 535.3L590.7 524.3L603.2 540.5L626.1 546.8L650.9 510.3L675.7 504L701.5 517.2L726.2 499.9L749.1 492.6M115 494.7L130.5 496.6L131.5 496.7L150 500.7L151 500.9L169.9 491L170.8 490.5L179.2 494.5M213.8 514.4L222.4 521.5L223.2 522.2L237.4 515.9L238.3 515.5L254.8 533.5L255.5 534.3L274.5 550.7L275.3 551.4L292 537L292.8 536.3L308.2 534.4L309.2 534.3L324.2 514.2L324.8 513.4L341.3 517.3L342.3 517.6L356.5 511.7L357.4 511.3L371.7 499.9L372.5 499.2L384.1 511.6L384.8 512.4L396.7 495.1L397.3 494.2L407.8 504L408.5 504.7L419.8 503.1L420.8 503L432.8 504L433.8 504L446.6 513.8L447.4 514.5L451 516.3M489.6 528L494.8 529.7L495.8 530.1L502 533.7L502.9 534.3L508 537.8L508.9 538.4L512.9 547.9L513.3 548.9L516.9 562.5L517.2 563.4L520.9 547.4L521.1 546.4L524 547.4L525 547.8L529.9 564.5L530.2 565.5L536.4 552.9L536.8 552L542.2 550.2L543.3 549.9L547.6 552.5L548.5 553L554.5 563.6L555 564.5L562.6 561.3L563.6 560.9L571.1 566L571.9 566.6L580.1 567.5L581.1 567.6L590 559L590.7 558.2L602.3 565L603.2 565.5L625.1 567.5L626.1 567.6L650.3 538.2L650.9 537.4L674.7 530.4L675.7 530.1L700.6 543.2L701.5 543.6M738.1 526.2L748.3 519.2L749.1 518.6M115 522.2L131.5 521.8L151 530.5L170.8 520.7L190.3 523.8L207.5 540.5L223.2 548.9L238.3 555.1L255.5 568.7L275.3 576L292.8 567.6L309.2 559.3L324.8 545.7L342.3 540.5L357.4 539.5L372.5 530.1L384.8 540.1L397.3 520.1L408.5 542.2L420.8 532.2L433.8 533.2L447.4 545.7L462 544.7L475 542.2L486.5 557.2L495.8 566.6L502.9 568.7L508.9 569.7L513.3 574.9L517.2 586.4L521.1 567.6L525 573.9L530.2 586.4L536.8 571.8L543.3 569.7L548.5 573.9L555 580.1L563.6 577L571.9 580.1L581.1 580.1L590.7 573.9L603.2 580.1L626.1 580.1L650.9 570.7L675.7 558.2L701.5 570.1L726.2 562.4L749.1 538.4M115 553L131.5 558.9L151 553L170.8 551.4L190.3 549.9L207.5 567.6L223.2 580.1L238.3 586.4L255.5 588.5L275.3 588.5L292.8 588.5L309.2 586.4L324.8 577L342.3 563L357.4 570.7L372.5 559.7L384.8 570.7L397.3 553.4L408.5 566.6L420.8 555.5L433.8 561.4L447.4 577L462 588.5L475 588.5L486.5 588.5L495.8 588.5L502.9 588.5L508.9 588.5L513.3 588.5L517.2 588.5L521.1 588.5L525 588.5L530.2 588.5L536.8 588.5L543.3 588.5L548.5 588.5L555 588.5L563.6 588.5L571.9 588.5L581.1 588.5L590.7 588.5L603.2 588.5L626.1 588.5L650.9 588.5L675.7 588.5L701.5 588.5L726.2 584.3L749.1 572.8" fill="none" stroke="#000" stroke-width="1.5" stroke-linejoin="round"/>
<path d="M115 201.4L131.5 202.5L151 203.1L170.8 206.7L190.3 201.9L207.5 203.9L223.2 206.7L238.3 199.4L255.5 203.9L275.3 197.7L292.8 196.9L309.2 197.3L324.8 198.9L342.3 194.2L357.4 203.9L372.5 205.2L384.8 201.9L397.3 205.6L408.5 208.7L420.8 210.8L433.8 205.6L447.4 206.7L462 207.7L475 208.7L486.5 205.2L495.8 202.5L502.9 202.5L508.9 203.5L513.3 204.6L517.2 203.5L521.1 201.4L525 205.6L530.2 206.7L536.8 206.7L543.3 207.7L548.5 207.7L555 208.7L563.6 209.8L571.9 209.8L581.1 211.9L590.7 211.5L603.2 209.8L626.1 215.6L650.9 217.1L675.7 215" fill="none" stroke="#000" stroke-width="2.3" stroke-linejoin="round"/>
<circle cx="522" cy="202.8" r="4.2" fill="#000"/>
<circle cx="190.2" cy="185.8" r="1.2" fill="#000"/>
<circle cx="254.8" cy="186.3" r="2.0" fill="#000"/>
<circle cx="223.5" cy="188.3" r="2.2" fill="#000"/>
<circle cx="591.1" cy="553.4" r="1.5" fill="#000"/>
<text transform="translate(172.5 276.3) rotate(5)" font-size="27" text-anchor="middle" dy="0.36em" fill="#000">18</text>
<text transform="translate(188.0 326.0) rotate(38)" font-size="27" text-anchor="middle" dy="0.36em" fill="#000">17</text>
<text transform="translate(184.0 369.7) rotate(25)" font-size="27" text-anchor="middle" dy="0.36em" fill="#000">16</text>
<text transform="translate(171.0 431.0) rotate(-22)" font-size="27" text-anchor="middle" dy="0.36em" fill="#000">14</text>
<text transform="translate(196.4 505.0) rotate(28)" font-size="27" text-anchor="middle" dy="0.36em" fill="#000">12</text>
<text transform="translate(401.8 254.6) rotate(3)" font-size="27" text-anchor="middle" dy="0.36em" fill="#000">20</text>
<text transform="translate(469.0 297.0) rotate(8)" font-size="27" text-anchor="middle" dy="0.36em" fill="#000">18</text>
<text transform="translate(453.5 335.3) rotate(15)" font-size="27" text-anchor="middle" dy="0.36em" fill="#000">17</text>
<text transform="translate(458.0 389.4) rotate(15)" font-size="27" text-anchor="middle" dy="0.36em" fill="#000">16</text>
<text transform="translate(455.6 456.0) rotate(15)" font-size="27" text-anchor="middle" dy="0.36em" fill="#000">14</text>
<text transform="translate(470.6 520.7) rotate(25)" font-size="27" text-anchor="middle" dy="0.36em" fill="#000">12</text>
<text transform="translate(694.0 249.8) rotate(5)" font-size="27" text-anchor="middle" dy="0.36em" fill="#000">20</text>
<text transform="translate(719.0 281.0) rotate(12)" font-size="27" text-anchor="middle" dy="0.36em" fill="#000">18</text>
<text transform="translate(721.8 346.8) rotate(-40)" font-size="27" text-anchor="middle" dy="0.36em" fill="#000">17</text>
<text transform="translate(717.6 402.0) rotate(-25)" font-size="27" text-anchor="middle" dy="0.36em" fill="#000">16</text>
<text transform="translate(719.0 466.5) rotate(-25)" font-size="27" text-anchor="middle" dy="0.36em" fill="#000">14</text>
<text transform="translate(719.7 535.3) rotate(-35)" font-size="27" text-anchor="middle" dy="0.36em" fill="#000">12</text>
</g>
<rect x="115" y="83" width="10.2" height="29.5" fill="#3e26a8"/>
<rect x="124.6" y="83" width="10.5" height="29.5" fill="#402ab4"/>
<rect x="134.5" y="83" width="10.5" height="29.5" fill="#422ec0"/>
<rect x="144.4" y="83" width="10.5" height="29.5" fill="#4332cb"/>
<rect x="154.3" y="83" width="10.5" height="29.5" fill="#4537d5"/>
<rect x="164.2" y="83" width="10.5" height="29.5" fill="#463cde"/>
<rect x="174.1" y="83" width="10.5" height="29.5" fill="#4741e5"/>
<rect x="184" y="83" width="10.5" height="29.5" fill="#4747eb"/>
<rect x="193.9" y="83" width="10.5" height="29.5" fill="#484df0"/>
<rect x="203.9" y="83" width="10.5" height="29.5" fill="#4852f4"/>
<rect x="213.8" y="83" width="10.5" height="29.5" fill="#4758f8"/>
<rect x="223.7" y="83" width="10.5" height="29.5" fill="#465efb"/>
<rect x="233.6" y="83" width="10.5" height="29.5" fill="#4563fd"/>
<rect x="243.5" y="83" width="10.5" height="29.5" fill="#4269fe"/>
<rect x="253.4" y="83" width="10.5" height="29.5" fill="#3e6fff"/>
<rect x="263.3" y="83" width="10.5" height="29.5" fill="#3875fe"/>
<rect x="273.2" y="83" width="10.5" height="29.5" fill="#327cfc"/>
<rect x="283.1" y="83" width="10.5" height="29.5" fill="#2f81fa"/>
<rect x="293" y="83" width="10.5" height="29.5" fill="#2e87f7"/>
<rect x="302.9" y="83" width="10.5" height="29.5" fill="#2d8cf3"/>
<rect x="312.8" y="83" width="10.5" height="29.5" fill="#2b91ef"/>
<rect x="322.7" y="83" width="10.5" height="29.5" fill="#2797eb"/>
<rect x="332.6" y="83" width="10.5" height="29.5" fill="#259be8"/>
<rect x="342.5" y="83" width="10.5" height="29.5" fill="#23a0e5"/>
<rect x="352.4" y="83" width="10.5" height="29.5" fill="#20a5e3"/>
<rect x="362.4" y="83" width="10.5" height="29.5" fill="#1ca9df"/>
<rect x="372.3" y="83" width="10.5" height="29.5" fill="#18addb"/>
<rect x="382.2" y="83" width="10.5" height="29.5" fill="#12b1d6"/>
<rect x="392.1" y="83" width="10.5" height="29.5" fill="#08b5d0"/>
<rect x="402" y="83" width="10.5" height="29.5" fill="#01b8ca"/>
<rect x="411.9" y="83" width="10.5" height="29.5" fill="#02bac3"/>
<rect x="421.8" y="83" width="10.5" height="29.5" fill="#0bbdbd"/>
<rect x="431.7" y="83" width="10.5" height="29.5" fill="#19bfb6"/>
<rect x="441.6" y="83" width="10.5" height="29.5" fill="#24c1ae"/>
<rect x="451.5" y="83" width="10.5" height="29.5" fill="#2cc4a7"/>
<rect x="461.4" y="83" width="10.5" height="29.5" fill="#31c69f"/>
<rect x="471.3" y="83" width="10.5" height="29.5" fill="#37c897"/>
<rect x="481.2" y="83" width="10.5" height="29.5" fill="#3fca8e"/>
<rect x="491.1" y="83" width="10.5" height="29.5" fill="#4acb84"/>
<rect x="501" y="83" width="10.5" height="29.5" fill="#57cc7a"/>
<rect x="510.9" y="83" width="10.5" height="29.5" fill="#64cd6f"/>
<rect x="520.9" y="83" width="10.5" height="29.5" fill="#72cd64"/>
<rect x="530.8" y="83" width="10.5" height="29.5" fill="#81cc59"/>
<rect x="540.7" y="83" width="10.5" height="29.5" fill="#8fcb4e"/>
<rect x="550.6" y="83" width="10.5" height="29.5" fill="#9dc943"/>
<rect x="560.5" y="83" width="10.5" height="29.5" fill="#abc739"/>
<rect x="570.4" y="83" width="10.5" height="29.5" fill="#b9c431"/>
<rect x="580.3" y="83" width="10.5" height="29.5" fill="#c5c22a"/>
<rect x="590.2" y="83" width="10.5" height="29.5" fill="#d1bf27"/>
<rect x="600.1" y="83" width="10.5" height="29.5" fill="#dcbd29"/>
<rect x="610" y="83" width="10.5" height="29.5" fill="#e6bb2d"/>
<rect x="619.9" y="83" width="10.5" height="29.5" fill="#f0ba36"/>
<rect x="629.8" y="83" width="10.5" height="29.5" fill="#f8ba3d"/>
<rect x="639.7" y="83" width="10.5" height="29.5" fill="#febe3c"/>
<rect x="649.6" y="83" width="10.5" height="29.5" fill="#fec338"/>
<rect x="659.5" y="83" width="10.5" height="29.5" fill="#fec934"/>
<rect x="669.5" y="83" width="10.5" height="29.5" fill="#fccf30"/>
<rect x="679.4" y="83" width="10.5" height="29.5" fill="#fad62d"/>
<rect x="689.3" y="83" width="10.5" height="29.5" fill="#f7dc2a"/>
<rect x="699.2" y="83" width="10.5" height="29.5" fill="#f5e327"/>
<rect x="709.1" y="83" width="10.5" height="29.5" fill="#f5e924"/>
<rect x="719" y="83" width="10.5" height="29.5" fill="#f6ef20"/>
<rect x="728.9" y="83" width="10.5" height="29.5" fill="#f7f51b"/>
<rect x="738.8" y="83" width="10.5" height="29.5" fill="#f9fb15"/>
<rect x="115" y="83" width="634" height="29.5" fill="none" stroke="#262626" stroke-width="1.7"/>
<line x1="150.5" y1="83" x2="150.5" y2="89.8" stroke="#262626" stroke-width="1.7"/>
<text x="150.5" y="64.6" font-size="27.7" text-anchor="middle" fill="#262626">10</text>
<line x1="300.2" y1="83" x2="300.2" y2="89.8" stroke="#262626" stroke-width="1.7"/>
<text x="300.2" y="64.6" font-size="27.7" text-anchor="middle" fill="#262626">15</text>
<line x1="449.6" y1="83" x2="449.6" y2="89.8" stroke="#262626" stroke-width="1.7"/>
<text x="449.6" y="64.6" font-size="27.7" text-anchor="middle" fill="#262626">20</text>
<line x1="599.4" y1="83" x2="599.4" y2="89.8" stroke="#262626" stroke-width="1.7"/>
<text x="599.4" y="64.6" font-size="27.7" text-anchor="middle" fill="#262626">25</text>
<text x="749" y="64.6" font-size="27.7" text-anchor="middle" fill="#262626">30</text>
<text x="432" y="21.8" font-size="27.7" text-anchor="middle" fill="#000">Temperature(<tspan font-family="'Noto Serif CJK SC','Noto Sans CJK SC',serif" stroke="none">℃</tspan>)</text>
<path d="M115 183.8L115 576.5L749 576.5L749 183.8Z" fill="none" stroke="#262626" stroke-width="1.8"/>
<line x1="115" y1="576.5" x2="115" y2="589.9" stroke="#262626" stroke-width="1.8"/>
<text x="115" y="630.5" font-size="27.7" text-anchor="middle" fill="#262626">0</text>
<line x1="255.9" y1="576.5" x2="255.9" y2="589.9" stroke="#262626" stroke-width="1.8"/>
<text x="255.9" y="630.5" font-size="27.7" text-anchor="middle" fill="#262626">200</text>
<line x1="396.8" y1="576.5" x2="396.8" y2="589.9" stroke="#262626" stroke-width="1.8"/>
<text x="396.8" y="630.5" font-size="27.7" text-anchor="middle" fill="#262626">400</text>
<line x1="537.7" y1="576.5" x2="537.7" y2="589.9" stroke="#262626" stroke-width="1.8"/>
<text x="537.7" y="630.5" font-size="27.7" text-anchor="middle" fill="#262626">600</text>
<line x1="678.6" y1="576.5" x2="678.6" y2="589.9" stroke="#262626" stroke-width="1.8"/>
<text x="678.6" y="630.5" font-size="27.7" text-anchor="middle" fill="#262626">800</text>
<line x1="101.6" y1="183.8" x2="115" y2="183.8" stroke="#262626" stroke-width="1.8"/>
<text x="87.8" y="194.6" font-size="27.7" text-anchor="end" fill="#262626">0</text>
<line x1="101.6" y1="262.3" x2="115" y2="262.3" stroke="#262626" stroke-width="1.8"/>
<text x="87.8" y="273.1" font-size="27.7" text-anchor="end" fill="#262626">100</text>
<line x1="101.6" y1="340.9" x2="115" y2="340.9" stroke="#262626" stroke-width="1.8"/>
<text x="87.8" y="351.7" font-size="27.7" text-anchor="end" fill="#262626">200</text>
<line x1="101.6" y1="419.4" x2="115" y2="419.4" stroke="#262626" stroke-width="1.8"/>
<text x="87.8" y="430.2" font-size="27.7" text-anchor="end" fill="#262626">300</text>
<line x1="101.6" y1="498" x2="115" y2="498" stroke="#262626" stroke-width="1.8"/>
<text x="87.8" y="508.8" font-size="27.7" text-anchor="end" fill="#262626">400</text>
<line x1="101.6" y1="576.5" x2="115" y2="576.5" stroke="#262626" stroke-width="1.8"/>
<text x="87.8" y="587.3" font-size="27.7" text-anchor="end" fill="#262626">500</text>
<text x="432" y="669.2" font-size="30.4" text-anchor="middle" fill="#262626">Distance(km)</text>
<text transform="translate(25.1 380.1) rotate(-90)" font-size="30.4" text-anchor="middle" fill="#262626">Depth(m)</text>
<line x1="115" y1="183.8" x2="749" y2="183.8" stroke="#000" stroke-width="1.8"/>
<circle cx="115" cy="183.8" r="5.6" fill="#000"/>
<text x="107.4" y="174.4" font-size="27.7" fill="#000">P1</text>
<circle cx="223" cy="183.8" r="5.6" fill="#000"/>
<text x="215.4" y="174.4" font-size="27.7" fill="#000">P2</text>
<circle cx="275.5" cy="183.8" r="5.6" fill="#000"/>
<text x="267.9" y="174.4" font-size="27.7" fill="#000">P3</text>
<circle cx="373.2" cy="183.8" r="5.6" fill="#000"/>
<text x="365.6" y="174.4" font-size="27.7" fill="#000">P4</text>
<circle cx="508.8" cy="183.8" r="5.6" fill="#000"/>
<text x="501.2" y="174.4" font-size="27.7" fill="#000">P5</text>
<circle cx="626.3" cy="183.8" r="5.6" fill="#000"/>
<text x="618.7" y="174.4" font-size="27.7" fill="#000">P6</text>
<circle cx="749" cy="183.8" r="5.6" fill="#000"/>
<text x="741.4" y="174.4" font-size="27.7" fill="#000">P7</text>
<text x="25.5" y="50.6" font-size="29.5" font-weight="bold" fill="#000" style="stroke:none">A</text>
</g>
<g id="panelB">
<clipPath id="clipB"><rect x="873.5" y="183.8" width="634.1" height="392.7"/></clipPath>
<g clip-path="url(#clipB)">
<rect x="873.5" y="183.8" width="634.1" height="392.7" fill="#72cd64"/>
<path d="M868.5 178.8L868.5 271.7L874.2 271.7L878.3 262.3L885.6 253L890 250.9L909.5 254L919 249.8L922.1 239.4L929.3 234.7L935.7 238.4L936.7 246.7L943 255L948.8 262.3L956.5 265.5L966 268.6L970.1 263.4L981.7 260.3L988.8 260.3L1001.3 257.1L1015.9 253L1026.3 247.8L1034 239.4L1039.2 236.3L1044.4 230L1046.5 221.7L1048.6 210.7L1032.9 207.1L1042.3 202.4L1029.3 198.8L1027.7 187.8L1027.7 183.1L1027.7 178.8Z" fill="#b9c431"/>
<path d="M1152.8 183.1L1152.8 187.8L1152.8 192.5L1148.6 198.8L1145.5 202.4L1131 200.8L1114.2 201.4L1105.9 202.4L1104.3 214.4L1105.9 230L1110.1 242.5L1114.2 259.2L1117.4 266.5L1131 272.2L1139.2 266.5L1145.5 257.1L1149.7 253L1161.1 257.1L1170 263.4L1180.8 267.6L1194.4 271.7L1207.9 273.8L1220.5 275.4L1233.5 278.5L1244.9 269.1L1254.3 269.6L1264.2 262.3L1267.4 260.3L1271.7 272.2L1275.7 259.2L1280.4 247.2L1283.5 260.3L1288.7 259.2L1295.3 264.4L1301.8 261.3L1307 262.3L1313.5 256.1L1320 260.3L1322.2 260.3L1330.3 263.4L1339.7 260.3L1349.3 258.8L1361.8 258.2L1384.5 264.4L1409.3 270.7L1429.7 264.4L1460 260.3L1484.8 257.1L1494.4 250.9L1507.5 235.2L1512.6 235.2L1512.6 178.8Z" fill="#b9c431"/>
<path d="M1066.3 194.1L1068.4 193.6L1076.7 196.7L1083 197.7L1098.6 199.3L1096.5 207.1L1096.5 214.4L1097.6 221.7L1094.4 230L1093.4 239.4L1083.3 247.2L1075.7 242.5L1073.6 237.3L1067.6 231.1L1056.9 225.9L1055.9 221.7L1057.9 214.4L1067.6 211.3L1069.4 205L1071.5 202.4L1066.3 198.8Z" fill="#b9c431"/>
<path d="M1151.8 211.3L1155.7 206.6L1160.1 211.3L1155.9 216Z" fill="#72cd64"/>
<path d="M1162.7 222.7L1167 219.1L1171.4 222.2L1167 226.1Z" fill="#72cd64"/>
<path d="M1175.6 234.2L1179.3 231.1L1189.2 234.2L1189.7 238.4L1184 243.6L1180.8 246.7L1177.2 246.2L1178.2 241.5L1175.6 238.4Z" fill="#72cd64"/>
<path d="M1428.6 228.2L1434.2 225L1442.9 226.9L1442.9 230.8L1434.2 236L1429.9 232.1Z" fill="#72cd64"/>
<path d="M868.5 178.8L868.5 246.7L874.2 246.7L880.4 242.5L890 235.8L909.5 242L912.7 236.3L917.9 226.9L929.3 222.7L936.7 225.9L943 234.2L948.8 240.5L958.6 242.5L966 243.6L981.7 244.6L996.9 242.5L1014.9 235.2L1024.3 232.1L1014.2 235.2L1024.6 231.1L1026.7 226.9L1035 219.6L1037.1 211.3L1020.4 207.1L1026.7 200.8L1025.6 195.6L1021.5 187.3L1021.5 183.1Z" fill="#f8ba3d"/>
<path d="M1152.8 183.1L1152.8 186.5L1170 186.8L1169.9 187.3L1170.4 206.1L1175.6 211.3L1180.8 210.2L1182.9 205L1184 187.3L1201.7 186.8L1226.7 186.8L1228.8 188.3L1226.7 191.5L1213.2 195.6L1211.1 204L1205.9 211.3L1206.9 215.4L1200.7 218.6L1199.6 226.9L1202.7 236.3L1204.8 246.7L1220.5 243.1L1226.7 247.8L1233.5 251.9L1244.9 246.7L1254.3 250.9L1261.4 247.8L1271.7 253L1273.6 238.4L1275.7 234.2L1279.6 229L1283.5 239.4L1288.7 238.9L1295.3 241.5L1301.8 239.4L1307 244.6L1313.5 239.4L1320 242.5L1313.5 239.9L1322.1 241.9L1330.5 241.2L1339.6 245.8L1349.2 243.2L1361.7 245.8L1373.8 246.4L1394.7 247.8L1415.5 247.1L1421.4 242.5L1420.7 229.5L1424.7 223L1434.2 217.8L1445.5 220.4L1453.3 228.2L1458.5 236.7L1484.7 238L1492.4 230.8L1500.2 226.3L1507.7 223.6L1513.3 223.6L1513.3 203.5L1507.7 203.5L1497.6 199.5L1489.8 191.7L1489.8 187.8L1476.8 184.6L1476.8 182.6Z" fill="#f8ba3d"/>
<path d="M1066.3 223.8L1069.4 218.6L1076.7 213.4L1083.3 210.7L1090.3 214.4L1091.3 218.6L1088.2 223.8L1083.3 232.1L1080.9 230L1067.6 225.9Z" fill="#f8ba3d"/>
<path d="M1110.1 214.4L1114.2 209.2L1123.6 206.1L1131 205L1141.3 206.1L1145.5 210.2L1141.3 218.6L1138.2 225.9L1136.6 234.2L1140.3 238.9L1131 249.8L1124.7 245.7L1115.3 243.1L1112.7 232.1L1110.1 221.7Z" fill="#f8ba3d"/>
<path d="M1079.3 203.5L1083.3 201.4L1087.7 203.5L1083.3 205.5Z" fill="#f8ba3d"/>
<path d="M1175.1 219.1L1180.3 217L1185.5 219.1L1180.3 222.2Z" fill="#f8ba3d"/>
<path d="M972.7 230.6L981.7 229L987.8 231.1L980.5 233.7Z" fill="#b9c431"/>
<path d="M1078.8 215.4L1083.3 213.4L1086.1 215.4L1083.3 218.6Z" fill="#b9c431"/>
<path d="M1248.1 229.8L1253.3 225.9L1258.5 229.8L1253.3 233.4Z" fill="#b9c431"/>
<path d="M868.5 178.8L868.5 220.1L874.2 220.1L880.4 218.6L885.6 213.4L900.2 207.3L896.1 204L909.6 201.9L920 202.9L915.9 207.3L922.1 211.3L929.3 214.2L936.7 215.4L948.8 219.4L959.6 220.1L966 219.6L975.3 218.8L973.2 216L966 213.9L955.5 211.1L956.5 206.6L960.7 202.4L966 199.3L972.1 200.8L981.7 205L986.7 207.3L984.7 210.2L987.8 219.1L996.9 219.6L1008.6 219.1L1007.6 214.4L1004.5 207.6L1013.9 206.1L1018 202.4L1019.1 195.6L1017 188.3L1018 183.1Z" fill="#f7dc2a"/>
<path d="M1243.4 183.1L1243.4 187.3L1237.1 190.4L1235 199.8L1226.7 205L1219.4 208.1L1215.2 211.3L1216.8 215.4L1226.7 221.7L1233.5 225.9L1244.9 221.2L1254.3 222.7L1261.4 224.8L1271.7 233.7L1275.7 221.7L1279.6 211.8L1283.5 216.5L1288.7 217L1293.4 219.6L1295.3 225.9L1301.8 221.2L1307 222.7L1313.5 218L1320 222.7L1313.5 217.1L1322.1 226.3L1330.5 217.1L1339.6 224.3L1349.2 223L1355.6 234.7L1361.7 240.6L1372.5 237.3L1384.7 230.2L1401.2 234.7L1409.4 236L1414.2 224.3L1416.8 218.4L1434.2 211.9L1460 208L1478.1 206.7L1479.4 204.1L1474.2 199.5L1465 195.6L1460 190.4L1440.3 185.2L1435.1 183.9Z" fill="#f7dc2a"/>
<path d="M1115.8 215.4L1124.7 211.8L1128.8 208.1L1134 207.1L1135.1 211.3L1133 216.5L1132 221.2L1125.7 220.7L1116.3 218.6Z" fill="#f7dc2a"/>
<path d="M1471.6 215.2L1484.7 212.6L1507.7 209.3L1513.3 209.3L1513.3 215.8L1484.7 217.1Z" fill="#f7dc2a"/>
<path d="M958.6 187.3L966 185.2L975.3 187.8L975.8 194.6L966 199.3L958.6 195.6Z" fill="#f8ba3d"/>
<path d="M1295.5 211.1L1301.2 207.6L1306.4 211.1L1301.2 214.4Z" fill="#f8ba3d"/>
<path d="M1331.5 214.9L1338 213.6L1343.9 214.9L1338 216.5Z" fill="#f8ba3d"/>
<path d="M1274.7 206.9L1277.8 205L1280.9 206.9L1277.8 208.4Z" fill="#000"/>
<path d="M885.6 187.8L900.2 187.8L902.3 193.6L901.3 199.3L890.8 200L881.5 198.8L881.5 195.6Z" fill="#f9fb15"/>
<path d="M943 187.8L948.2 186.8L951.3 188.3L950.3 193.6L948.7 197.7L945 193.6Z" fill="#f9fb15"/>
<path d="M1318.5 183.9L1319.8 210.6L1323 211.3L1325 187.8L1325 183.9Z" fill="#f9fb15"/>
<path d="M1325 183.9L1325 187.8L1330.2 185.5L1338.7 187.8L1339.3 210.6L1361.7 208.7L1384.7 214.1L1409.4 215.2L1416.8 211.3L1417.5 186.5L1412.9 183.9Z" fill="#f9fb15"/>
<path d="M1325.2 188.1L1330.2 185.9L1338.4 188.1L1338.9 210.2L1325.6 210.7Z" fill="#f7dc2a"/>
<path d="M1030.8 188.9L1060 188.3L1059 197.7L1051.7 201.4L1041.3 198.8L1030.8 193.6Z" fill="#31c69f"/>
<path d="M1078.8 188.9L1106.9 188.9L1106.9 192.5L1101.7 195.1L1083 195.1L1078.8 192.5Z" fill="#31c69f"/>
<path d="M1138.2 188.3L1146.5 188.3L1146.5 191.5L1142.9 193.6L1139.2 191.5Z" fill="#31c69f"/>
<path d="M1036.1 190.4L1053.8 188.9L1054.8 194.6L1052.7 199.3L1045.4 196.7L1036.1 192Z" fill="#01b8ca"/>
<path d="M868.5 296.7L873.5 296.7L890 285.3L909.4 288.4L929.2 264.4L934.6 273.8L948.8 284.2L965.9 292.6L981.7 288.8L990.9 284.2L996.7 281.1L1014 278L1026.3 271.7L1033.9 263.4L1047.2 255L1047.2 246.7L1051.4 242.5L1057.6 253L1067.6 257.5L1083.3 255L1097.2 251.9L1100.8 246.7L1103.5 263.4L1109.7 282.1L1116 292.6L1131 298.4L1138.9 293.6L1143.3 286.3L1155.8 275.9L1167.1 291.5L1179.4 289.4L1190 291.5L1205.8 297.2L1220.4 299.9L1233.6 296.7L1240 293.6L1252.5 285.3L1261.9 283.8L1267.3 276.9L1272.3 296.7L1279.6 263.4L1284.9 283.2L1288.6 276.9L1295.3 283.2L1306.9 278L1313.4 279L1322.2 284.2L1330.3 290.5L1339.7 284.2L1349.3 281.1L1361.8 279L1384.5 283.8L1409.3 292.6L1425.6 284.2L1434.1 280.1L1460 278L1484.8 279L1492.3 276.9L1507.5 263.4L1512.6 263.4L1512.6 656.5L868.5 656.5Z" fill="#31c69f"/>
<path d="M868.5 354.1L873.5 354.1L890 361.4L906.5 350.9L929.2 322.8L943 338.4L957.6 355.1L965.9 364.5L981.7 361.4L986.7 371.8L995.1 379.9L996.7 386.3L1014 388.3L1024.3 405L1033.9 419.6L1043 407.1L1051.4 401.9L1067.6 397.7L1078.5 384.2L1083.3 380L1100.8 376L1105.6 373.9L1116 359.3L1131 353L1143.3 334.3L1155.8 344.7L1167.1 349.9L1179.4 353L1192.3 355.1L1205.8 359.3L1221.3 363.4L1233.6 366.6L1245 370.7L1256.7 379.9L1261.3 387.3L1267.3 386.3L1271.7 399.8L1275.7 402.9L1283.4 404L1288.6 417.5L1292.1 406.1L1295.3 399.2L1301.7 398.3L1306.9 404L1313.4 405L1322.2 402.9L1330.3 404L1335.9 400.8L1339.7 394.6L1349.3 393.6L1361.8 402.9L1384.5 402.5L1394.3 394.6L1400.5 388.3L1409.3 383.1L1415.1 380L1421.4 373.9L1434.1 368.7L1460 372.8L1484.8 368.7L1496.4 363.4L1507.5 349.9L1512.6 349.9L1512.6 656.5L868.5 656.5Z" fill="#01b8ca"/>
<path d="M868.5 392.5L873.5 392.5L890 404.6L909.4 399.8L914.8 388.3L922.1 380L929.2 376.4L940.9 378L949.2 380L957.6 394.6L965.9 406.7L981.7 409.2L996.7 418.6L1014 429L1024.3 444.6L1033.9 454L1051.4 441.5L1067.6 442.5L1083.3 418.6L1100.8 411.3L1116 406.1L1121.2 398.8L1131 395.6L1143.3 391.5L1155.8 392.5L1167.1 390.4L1182.7 391.5L1190 395.6L1205.8 400.8L1220.4 406.1L1233.6 411.3L1245 413.4L1254.2 417.5L1261.3 430L1267.3 436.3L1275.7 444.6L1279.6 441.5L1283.4 452.5L1288.6 453L1295.3 441.5L1301.7 439.4L1306.9 448.8L1313.4 445L1322.2 443.6L1330.3 447.8L1339.7 450.9L1349.3 430L1352.6 436.3L1361.8 441.5L1371.4 439.4L1377.6 435.2L1384.5 433.2L1398.5 430L1409.3 428.4L1434.1 427.5L1460 427.5L1467.3 426.3L1484.8 414.4L1498.5 411.3L1507.5 406.1L1512.6 406.1L1512.6 656.5L868.5 656.5Z" fill="#23a0e5"/>
<path d="M868.5 434.2L873.5 434.2L890 434.6L909.4 435.9L914.8 426.9L920 416.5L929.2 411.7L948.8 418.6L953.4 424.8L965.9 437.3L981.7 446.7L996.7 450.9L1014 464.4L1024.3 474.9L1033.9 481.7L1051.4 471.7L1067.6 474.9L1083.3 454L1100.8 446.7L1116 433.2L1131 420L1134.7 421.7L1143.3 424.8L1155.8 426.9L1167.1 430L1179.4 433.2L1192.3 434.6L1202.5 437.3L1205.8 439.4L1220.4 439.4L1233.6 439.4L1240 448.8L1245 451.9L1254.2 455L1261.3 464.4L1267.3 471.7L1271.7 480.1L1275.7 484.2L1279.6 486.3L1284.9 482.1L1288.6 494.7L1292.1 484.2L1295.3 479.6L1301.7 479L1306.9 487.4L1313.4 488L1322.2 487.4L1330.3 492.2L1339.7 492.6L1349.3 481.7L1361.8 489.4L1377.6 495.7L1384.5 506.1L1387 486.3L1394.3 474.9L1409.3 470.7L1434.1 467.6L1460 464.4L1463.1 463.4L1484.8 455.5L1507.5 449.8L1512.6 449.8L1512.6 656.5L868.5 656.5Z" fill="#2e87f7"/>
<path d="M868.5 469.6L873.5 469.6L890 465.1L909.4 472.8L914.8 467.6L929.2 446.3L938.8 460.3L948.8 469.6L965.9 478L981.7 484.2L996.7 484.2L1001.3 485.3L1014 505.1L1024.3 511.3L1033.9 518.6L1051.4 505.1L1067.6 503.4L1083.3 491.5L1100.8 480.1L1116 472.8L1121.2 470.7L1131 458.2L1136.8 463.4L1143.3 476.3L1147.3 461.3L1155.8 450.5L1167.1 465.1L1179.4 463.4L1190 470.7L1192.3 471.7L1205.8 479L1220.4 486.3L1233.6 490.5L1245 493.6L1254.2 495.7L1267.3 497.8L1271.7 513.4L1275.7 527L1279.6 519.7L1284.9 511.3L1288.6 535.3L1295.3 521.8L1301.7 517.6L1306.9 527L1313.4 537.4L1322.2 525.9L1330.3 536.3L1339.7 529.1L1349.3 520.7L1361.8 534.3L1377.6 545.7L1384.5 547.2L1390.1 540.5L1398.5 523.8L1409.3 506.1L1421.4 505.1L1434.1 507.2L1460 510.3L1477.7 502L1484.8 496.3L1507.5 498.8L1512.6 498.8L1512.6 656.5L868.5 656.5Z" fill="#4563fd"/>
<path d="M868.5 497.2L873.5 497.2L890 497.8L909.4 505.1L920 499.9L929.2 503L948.8 511.3L965.9 518.6L981.7 523.4L983.6 522.8L996.7 519.3L1005.5 534.3L1014 541.6L1024.3 550.9L1033.9 557.6L1040.9 548.9L1051.4 540.5L1067.6 538.4L1078.5 525.9L1083.3 516.5L1100.8 519.7L1111.8 516.5L1116 513.4L1131 499.9L1143.3 510.9L1155.8 492.6L1167.1 504L1179.4 503L1190 508.2L1192.3 507.2L1198.3 511.3L1205.8 515.5L1220.4 521.8L1233.6 525.9L1245 528.4L1254.2 530.5L1265 533.2L1271.7 544.7L1275.7 568.7L1279.6 546.4L1283.4 546.8L1288.6 565.1L1295.3 552L1301.7 549.3L1306.9 553L1313.4 564.5L1322.2 562.4L1330.3 568.7L1339.7 568.7L1349.3 557.2L1354.7 559.3L1361.8 562.4L1384.5 569.7L1394.3 561.4L1409.3 540.5L1434.1 535.3L1448.5 540.5L1460 549.9L1467.3 545.7L1484.8 539.5L1492.3 530.1L1507.5 525.9L1512.6 525.9L1512.6 656.5L868.5 656.5Z" fill="#4741e5"/>
<path d="M868.5 530.1L873.5 530.1L890 538L909.4 537.4L924.2 534.3L929.2 529.1L948.8 533.2L965.9 543L981.7 561.4L996.7 561.4L1005.5 569.7L1014 576L1033.9 585.3L1057.6 576L1067.6 571.8L1083.3 571.4L1091 557.2L1100.8 547.8L1116 546.8L1131 540.1L1143.3 548.9L1149.3 544.7L1155.8 527L1159.8 538.4L1167.1 548.9L1179.4 535.3L1190 537.4L1192.3 540.5L1205.8 554.1L1220.4 552L1233.6 549.9L1237.9 557.2L1245 563.4L1254.2 568.7L1261.3 576L1271.7 584.3L1274.4 553L1277.6 584.3L1408.9 585.3L1419.3 576L1434.1 568.7L1446.4 570.7L1460 571.8L1484.8 570.7L1498.5 561.4L1507.5 552L1512.6 552L1512.6 656.5L868.5 656.5Z" fill="#3e26a8"/>
<path d="M868.5 586.4L873.5 586.4L901.3 576L909.4 570.1L929.2 571.4L948.8 569.3L955.5 576L974.2 586.4L1149.3 586.4L1155.8 571.8L1161.8 586.4L1507.5 586.4L1512.6 586.4L1512.6 656.5L868.5 656.5Z" fill="#3e26a8"/>
<path d="M874.2 271.7L877.9 263.3L878.3 262.3L885 253.8L885.6 253L888.9 251.4L890 250.9L908.5 253.8L909.5 254L918 250.3L919 249.8L921.8 240.5L922.1 239.4L928.4 235.3L929.3 234.7L934.8 237.8L935.7 238.4L936.6 245.7L936.7 246.7L942.3 254.2L943 255L948.2 261.5L948.8 262.3L955.5 265.1L956.5 265.5L964.9 268.2L966 268.6L969.4 264.3L970.1 263.4L980.8 260.5M1039.2 236.3L1043.7 230.8L1044.4 230L1046.2 222.7L1046.5 221.7L1048.4 211.7L1048.6 210.7L1033.9 207.3L1032.9 207.1L1041.4 202.9L1042.3 202.4L1030.3 199L1029.3 198.8L1027.9 188.8L1027.7 187.8L1027.7 184.3L1027.7 183.1M1152.8 183.1L1152.8 186.6L1152.8 187.8L1152.8 191.3L1152.8 192.5L1149.2 197.9L1148.6 198.8L1146.3 201.5L1145.5 202.4L1132 201L1131 200.8L1115.3 201.3L1114.2 201.4L1106.9 202.3L1105.9 202.4L1104.5 213.4L1104.3 214.4L1105.8 229L1105.9 230L1109.7 241.6L1110.1 242.5L1114 258.2L1114.2 259.2L1116.9 265.5L1117.4 266.5L1130 271.8L1131 272.2L1138.4 267.1L1139.2 266.5L1144.4 258.8M1206.9 273.6L1207.9 273.8L1219.4 275.2L1220.5 275.4L1232.5 278.3L1233.5 278.5L1244.1 269.8L1244.9 269.1L1253.3 269.6L1254.3 269.6L1263.4 263L1264.2 262.3L1266.3 261L1267.4 260.3L1271.4 271.2L1271.7 272.2L1275.4 260.2L1275.7 259.2L1280 248.2L1280.4 247.2L1283.3 259.3L1283.5 260.3L1287.7 259.4L1288.7 259.2L1294.5 263.8L1295.3 264.4L1300.8 261.7L1301.8 261.3L1305.9 262.1L1307 262.3L1312.8 256.8L1313.5 256.1L1319.1 259.7L1320 260.3L1321.1 260.3L1322.2 260.3L1329.3 263L1330.3 263.4L1338.6 260.6L1339.7 260.3L1348.2 259L1349.3 258.8L1360.7 258.2L1361.8 258.2L1383.5 264.2L1384.5 264.4L1408.3 270.4L1409.3 270.7L1428.8 264.7L1429.7 264.4M1492.6 252L1493.5 251.4L1494.4 250.9L1506.8 236L1507.5 235.2M1066.3 194.1L1068.4 193.6L1076.7 196.7L1083 197.7L1098.6 199.3L1096.5 207.1L1096.5 214.4L1097.6 221.7L1094.4 230L1093.4 239.4L1083.3 247.2L1075.7 242.5L1073.6 237.3L1067.6 231.1L1056.9 225.9L1055.9 221.7L1057.9 214.4L1067.6 211.3L1069.4 205L1071.5 202.4L1066.3 198.8L1066.3 194.1M1151.8 211.3L1155.7 206.6L1160.1 211.3L1155.9 216L1151.8 211.3M1162.7 222.7L1167 219.1L1171.4 222.2L1167 226.1L1162.7 222.7M1175.6 234.2L1179.3 231.1L1189.2 234.2L1189.7 238.4L1184 243.6L1180.8 246.7L1177.2 246.2L1178.2 241.5L1175.6 238.4L1175.6 234.2M1428.6 228.2L1434.2 225L1442.9 226.9L1442.9 230.8L1434.2 236L1429.9 232.1L1428.6 228.2M874.2 246.7L879.5 243.1L880.4 242.5L889.1 236.4L890 235.8L908.5 241.7L909.5 242L912.2 237.2L912.7 236.3L917.4 227.8L917.9 226.9L928.4 223.1L929.3 222.7L935.8 225.5L936.7 225.9L942.3 233.4L943 234.2L948.1 239.7L948.8 240.5L957.6 242.3L958.6 242.5L964.9 243.4L966 243.6L974.4 244.1M1018 234.2L1023.2 232.5L1024.3 232.1L1018.2 234M1018 233.7L1023.6 231.5L1024.6 231.1L1026.2 227.9L1026.7 226.9L1034.3 220.3L1035 219.6L1036.8 212.3L1037.1 211.3L1021.4 207.3L1020.4 207.1L1025.9 201.6L1026.7 200.8L1025.8 196.7L1025.6 195.6L1021.9 188.2L1021.5 187.3L1021.5 184.2L1021.5 183.1M1152.8 183.1L1152.8 185.4L1152.8 186.5L1169 186.8L1170 186.8L1169.9 187.3L1170.4 205L1170.4 206.1L1174.9 210.5L1175.6 211.3L1179.8 210.4L1180.8 210.2L1182.5 206.1L1182.9 205L1183.9 188.3L1184 187.3L1200.7 186.8L1201.7 186.8L1225.7 186.8L1226.7 186.8L1227.8 187.6L1228.8 188.3L1227.4 190.4L1226.7 191.5L1214.1 195.3L1213.2 195.6L1211.3 202.9L1211.1 204L1206.5 210.4L1205.9 211.3L1206.6 214.4L1206.9 215.4L1201.7 218L1200.7 218.6L1199.7 225.9L1199.6 226.9L1202.4 235.2L1202.7 236.3L1204.6 245.7L1204.8 246.7L1219.5 243.3L1220.5 243.1L1225.8 247.1L1226.7 247.8L1232.5 251.3L1233.5 251.9L1244 247.1L1244.9 246.7L1253.4 250.5L1254.3 250.9L1260.4 248.2L1261.4 247.8L1270.8 252.5L1271.7 253L1273.5 239.4L1273.6 238.4L1275.2 235.2L1275.7 234.2L1278.9 229.9L1279.6 229L1283.2 238.5L1283.5 239.4L1287.7 239L1288.7 238.9L1294.4 241.1L1295.3 241.5L1300.7 239.8L1301.8 239.4L1306.2 243.9L1307 244.6L1312.7 240.1L1313.5 239.4L1319.1 242.1L1320 242.5L1314.6 240.4L1313.5 239.9L1321 241.6L1322.1 241.9L1329.4 241.3L1330.5 241.2L1338.7 245.3L1339.6 245.8L1348.1 243.5L1349.2 243.2L1360.7 245.6L1361.7 245.8L1372.8 246.4L1373.8 246.4M1414.5 247.1L1415.5 247.1L1420.6 243.2L1421.4 242.5L1420.8 230.5L1420.7 229.5L1424.1 223.9L1424.7 223L1433.2 218.3L1434.2 217.8L1444.5 220.2L1445.5 220.4L1452.6 227.5L1453.3 228.2L1458 235.7L1458.5 236.7L1483.7 237.9L1484.7 238L1491.6 231.5L1492.4 230.8L1499.4 226.8L1500.2 226.3L1506.6 224L1507.7 223.6L1512.1 223.6L1513.3 223.6L1513.3 204.5L1513.3 203.5L1508.8 203.5L1507.7 203.5L1498.6 199.9L1497.6 199.5L1490.5 192.4L1489.8 191.7L1489.8 189.1L1489.8 187.8L1477.8 184.8L1476.8 184.6L1476.8 182.6M1066.3 223.8L1069.4 218.6L1076.7 213.4L1083.3 210.7L1090.3 214.4L1091.3 218.6L1088.2 223.8L1083.3 232.1L1080.9 230L1067.6 225.9L1066.3 223.8M1110.1 214.4L1114.2 209.2L1123.6 206.1L1131 205L1141.3 206.1L1145.5 210.2L1141.3 218.6L1138.2 225.9L1136.6 234.2L1140.3 238.9L1131 249.8L1124.7 245.7L1115.3 243.1L1112.7 232.1L1110.1 221.7L1110.1 214.4M1079.3 203.5L1083.3 201.4L1087.7 203.5L1083.3 205.5L1079.3 203.5M1175.1 219.1L1180.3 217L1185.5 219.1L1180.3 222.2L1175.1 219.1M972.7 230.6L981.7 229L987.8 231.1L980.5 233.7L972.7 230.6M1078.8 215.4L1083.3 213.4L1086.1 215.4L1083.3 218.6L1078.8 215.4M1248.1 229.8L1253.3 225.9L1258.5 229.8L1253.3 233.4L1248.1 229.8M874.2 220.1L880.4 218.6L885.6 213.4L900.2 207.3L896.1 204L909.6 201.9L920 202.9L915.9 207.3L922.1 211.3L929.3 214.2L936.7 215.4L948.8 219.4L959.6 220.1L966 219.6L975.3 218.8L973.2 216L966 213.9L955.5 211.1L956.5 206.6L960.7 202.4L966 199.3L972.1 200.8L981.7 205L986.7 207.3L984.7 210.2L987.8 219.1L996.9 219.6L1008.6 219.1L1007.6 214.4L1004.5 207.6L1013.9 206.1L1018 202.4L1019.1 195.6L1017 188.3L1018 183.1M1243.4 183.1L1243.4 187.3L1237.1 190.4L1235 199.8L1226.7 205L1219.4 208.1L1215.2 211.3L1216.8 215.4L1226.7 221.7L1233.5 225.9L1244.9 221.2L1254.3 222.7L1261.4 224.8L1271.7 233.7L1275.7 221.7L1279.6 211.8L1283.5 216.5L1288.7 217L1293.4 219.6L1295.3 225.9L1301.8 221.2L1307 222.7L1313.5 218L1320 222.7L1313.5 217.1L1322.1 226.3L1330.5 217.1L1339.6 224.3L1349.2 223L1355.6 234.7L1361.7 240.6L1372.5 237.3L1384.7 230.2L1401.2 234.7L1409.4 236L1414.2 224.3L1416.8 218.4L1434.2 211.9L1460 208L1478.1 206.7L1479.4 204.1L1474.2 199.5L1465 195.6L1460 190.4L1440.3 185.2L1435.1 183.9M1115.8 215.4L1124.7 211.8L1128.8 208.1L1134 207.1L1135.1 211.3L1133 216.5L1132 221.2L1125.7 220.7L1116.3 218.6L1115.8 215.4M1471.6 215.2L1484.7 212.6L1507.7 209.3L1513.3 209.3L1513.3 215.8L1484.7 217.1L1471.6 215.2M958.6 187.3L966 185.2L975.3 187.8L975.8 194.6L966 199.3L958.6 195.6L958.6 187.3M1295.5 211.1L1301.2 207.6L1306.4 211.1L1301.2 214.4L1295.5 211.1M1331.5 214.9L1338 213.6L1343.9 214.9L1338 216.5L1331.5 214.9M885.6 187.8L900.2 187.8L902.3 193.6L901.3 199.3L890.8 200L881.5 198.8L881.5 195.6L885.6 187.8M943 187.8L948.2 186.8L951.3 188.3L950.3 193.6L948.7 197.7L945 193.6L943 187.8M1318.5 183.9L1319.8 210.6L1323 211.3L1325 187.8L1325 187.8L1330.2 185.5L1338.7 187.8L1339.3 210.6L1361.7 208.7L1384.7 214.1L1409.4 215.2L1416.8 211.3L1417.5 186.5L1412.9 183.9M1030.8 188.9L1060 188.3L1059 197.7L1051.7 201.4L1041.3 198.8L1030.8 193.6L1030.8 188.9M1078.8 188.9L1106.9 188.9L1106.9 192.5L1101.7 195.1L1083 195.1L1078.8 192.5L1078.8 188.9M1138.2 188.3L1146.5 188.3L1146.5 191.5L1142.9 193.6L1139.2 191.5L1138.2 188.3M1036.1 190.4L1053.8 188.9L1054.8 194.6L1052.7 199.3L1045.4 196.7L1036.1 192L1036.1 190.4M1029.3 188.3L1029.8 194.6L1040.2 200.3L1051.7 202.9L1061.1 198.8L1062.1 188.3M1033.5 189.6L1055.9 188.5L1056.9 195.6L1052.2 200.3L1043.4 197.9L1033.5 192.7M873.5 296.7L889.2 285.8L890 285.3L908.4 288.2L909.4 288.4L928.6 265.2L929.2 264.4L934.1 272.9L934.6 273.8M984.5 287.4L990 284.7L990.9 284.2L995.8 281.6L996.7 281.1L1013 278.2L1014 278L1025.4 272.2L1026.3 271.7L1033.2 264.1L1033.9 263.4L1046.3 255.6L1047.2 255L1047.2 247.8L1047.2 246.7L1050.5 243.4L1051.4 242.5L1057.1 252.1L1057.6 253L1066.7 257.1L1067.6 257.5L1082.2 255.2L1083.3 255L1096.2 252.1L1097.2 251.9L1100.2 247.6L1100.8 246.7L1103.3 262.3L1103.5 263.4L1109.4 281.2L1109.7 282.1L1115.5 291.7L1116 292.6L1130.1 298L1131 298.4L1138 294.1L1138.9 293.6L1142.7 287.2L1143.3 286.3L1155 276.5L1155.8 275.9L1166.5 290.7L1167.1 291.5L1175.3 290.1M1238.2 294.5L1239.1 294.1L1240 293.6L1251.7 285.8L1252.5 285.3L1260.9 284L1261.9 283.8L1266.7 277.8L1267.3 276.9L1272.1 295.7L1272.3 296.7L1279.4 264.4L1279.6 263.4L1284.6 282.2L1284.9 283.2L1288.1 277.8L1288.6 276.9L1294.5 282.5L1295.3 283.2L1306 278.4L1306.9 278L1312.3 278.8L1313.4 279L1321.3 283.7L1322.2 284.2L1329.5 289.9L1330.3 290.5L1338.8 284.8L1339.7 284.2L1348.3 281.4L1349.3 281.1L1360.7 279.2L1361.8 279L1383.5 283.6L1384.5 283.8L1408.3 292.2L1409.3 292.6L1424.7 284.7L1425.6 284.2L1429.4 282.4M1492.3 276.9L1506.7 264.1L1507.5 263.4M873.5 354.1L889.1 361L890 361.4L905.6 351.5L906.5 350.9L910.9 345.5M928.6 323.6L929.2 322.8L931.3 325.1M960.3 358.2L965.2 363.7L965.9 364.5L980.7 361.6L981.7 361.4L986.3 370.8L986.7 371.8L994.3 379.2L995.1 379.9L996.5 385.2L996.7 386.3L1013 388.2L1014 388.3L1023.7 404.1L1024.3 405L1033.3 418.7L1033.9 419.6L1042.4 407.9L1043 407.1L1050.4 402.5L1051.4 401.9L1066.6 398L1067.6 397.7L1077.8 385L1078.5 384.2L1082.5 380.7L1083.3 380L1099.7 376.2L1100.8 376L1104.6 374.3L1105.6 373.9L1115.4 360.1L1116 359.3L1130.1 353.4L1131 353L1142.7 335.1L1143.3 334.3L1155 344L1155.8 344.7L1156.7 345.1M1218.2 362.6L1220.2 363.2L1221.3 363.4L1232.5 366.3L1233.6 366.6L1244.1 370.4L1245 370.7L1255.9 379.3L1256.7 379.9L1260.7 386.4L1261.3 387.3L1266.3 386.4L1267.3 386.3L1271.4 398.8L1271.7 399.8L1274.9 402.3L1275.7 402.9L1282.3 403.8L1283.4 404L1288.2 416.6L1288.6 417.5L1291.9 407L1292.1 406.1L1294.8 400.2L1295.3 399.2L1300.7 398.5L1301.7 398.3L1306.2 403.2L1306.9 404L1312.3 404.8L1313.4 405L1321.2 403.2L1322.2 402.9L1329.3 403.8L1330.3 404L1335 401.4L1335.9 400.8L1339.1 395.5L1339.7 394.6L1348.2 393.7L1349.3 393.6L1360.9 402.3L1361.8 402.9L1383.5 402.5L1384.5 402.5L1393.5 395.3L1394.3 394.6L1399.8 389.1L1400.5 388.3L1408.4 383.6L1409.3 383.1L1414.2 380.5L1415.1 380L1420.6 374.6L1421.4 373.9L1433.1 369.1L1434.1 368.7L1438.1 369.3M1497.1 362.7L1506.8 350.7L1507.5 349.9M873.5 392.5L889.2 404L890 404.6L908.4 400.1L909.4 399.8L914.4 389.3L914.8 388.3L921.5 380.8L922.1 380L928.2 376.9L929.2 376.4L939.8 377.9L940.9 378L948.2 379.8L949.2 380L957 393.7L957.6 394.6L965.3 405.8L965.9 406.7L980.7 409L981.7 409.2L995.9 418L996.7 418.6L1013.2 428.5L1014 429L1023.7 443.8L1024.3 444.6L1033.1 453.3L1033.9 454L1050.5 442.1L1051.4 441.5L1066.6 442.5L1067.6 442.5L1082.7 419.4L1083.3 418.6L1099.8 411.7L1100.8 411.3L1115 406.4L1116 406.1L1120.5 399.7M1183.6 392L1189.1 395.1L1190 395.6L1204.9 400.5L1205.8 400.8L1219.5 405.7L1220.4 406.1L1232.6 410.9L1233.6 411.3L1244 413.2L1245 413.4L1253.3 417.1L1254.2 417.5L1260.8 429.1L1261.3 430L1266.6 435.5L1267.3 436.3L1274.9 443.9L1275.7 444.6L1278.8 442.1L1279.6 441.5L1283.1 451.5L1283.4 452.5L1287.6 452.9L1288.6 453L1294.8 442.4L1295.3 441.5L1300.7 439.8L1301.7 439.4L1306.4 447.9L1306.9 448.8L1312.5 445.6L1313.4 445L1321.1 443.8L1322.2 443.6L1329.4 447.3L1330.3 447.8L1338.6 450.5L1339.7 450.9L1348.8 431L1349.3 430L1352.1 435.4L1352.6 436.3L1360.9 441L1361.8 441.5L1370.3 439.6L1371.4 439.4L1376.7 435.8L1377.6 435.2L1383.5 433.5L1384.5 433.2L1397.5 430.3L1398.5 430L1403.9 429.2M1467.3 426.3L1483.9 415L1484.8 414.4L1497.5 411.5L1498.5 411.3L1506.6 406.6L1507.5 406.1M873.5 434.2L889 434.6L890 434.6L908.4 435.8L909.4 435.9L914.3 427.8L914.8 426.9L919.6 417.4L920 416.5L928.3 412.2L929.2 411.7L947.8 418.2L948.8 418.6L952.7 423.9L953.4 424.8L965.2 436.6L965.9 437.3L980.9 446.2L981.7 446.7L995.7 450.6L996.7 450.9L1013.2 463.8L1014 464.4L1023.5 474.1L1024.3 474.9L1033 481.1L1033.9 481.7L1050.5 472.2L1051.4 471.7L1066.6 474.7L1067.6 474.9L1082.7 454.8L1083.3 454L1099.8 447.1L1100.8 446.7L1115.2 433.8L1116 433.2L1130.2 420.7L1131 420L1133.8 421.3L1134.7 421.7M1197.4 436L1201.5 437.1L1202.5 437.3L1204.7 438.7L1205.8 439.4L1219.4 439.4L1220.4 439.4L1232.6 439.4L1233.6 439.4L1239.4 447.9L1240 448.8L1244 451.3L1245 451.9L1253.2 454.7L1254.2 455L1260.7 463.6L1261.3 464.4L1266.7 470.9L1267.3 471.7L1271.2 479.1L1271.7 480.1L1274.9 483.4L1275.7 484.2L1278.6 485.8L1279.6 486.3L1284 482.8L1284.9 482.1L1288.3 493.7L1288.6 494.7L1291.8 485.2L1292.1 484.2L1294.6 480.6L1295.3 479.6L1300.7 479.1L1301.7 479L1306.4 486.4L1306.9 487.4L1312.3 487.9L1313.4 488L1321.1 487.4L1322.2 487.4L1329.4 491.6L1330.3 492.2L1338.6 492.5L1339.7 492.6L1348.6 482.5L1349.3 481.7L1360.9 488.9L1361.8 489.4L1376.7 495.3L1377.6 495.7L1383.9 505.3L1384.5 506.1L1386.9 487.4L1387 486.3L1393.7 475.7L1394.3 474.9L1397.3 474M1461 464.1L1462 463.7L1463.1 463.4L1483.8 455.8L1484.8 455.5L1506.5 450.1L1507.5 449.8M873.5 469.6L889 465.3L890 465.1L908.4 472.4L909.4 472.8L914 468.3L914.8 467.6L928.6 447.1L929.2 446.3L938.2 459.4L938.8 460.3L941.1 462.4M1001.3 485.3L1013.5 504.2L1014 505.1L1023.3 510.8L1024.3 511.3L1033.1 518L1033.9 518.6L1050.6 505.7L1051.4 505.1L1066.6 503.5L1067.6 503.4L1082.4 492.2L1083.3 491.5L1099.9 480.6L1100.8 480.1L1115 473.2L1116 472.8L1120.2 471.1L1121.2 470.7L1130.3 459L1131 458.2L1136 462.6L1136.8 463.4L1142.8 475.4L1143.3 476.3L1147 462.3L1147.3 461.3L1155.1 451.3L1155.8 450.5L1166.4 464.2L1167.1 465.1L1178.3 463.5L1179.4 463.4L1189.1 470.1L1190 470.7L1191.1 471.2L1192.3 471.7L1204.9 478.5L1205.8 479L1207.7 479.9M1268.2 500.7L1271.4 512.4L1271.7 513.4L1275.4 526L1275.7 527L1279.1 520.6L1279.6 519.7L1284.3 512.3L1284.9 511.3L1288.4 534.3L1288.6 535.3L1294.8 522.7L1295.3 521.8L1300.8 518.2L1301.7 517.6L1306.4 526L1306.9 527L1312.9 536.5L1313.4 537.4L1321.5 526.7L1322.2 525.9L1329.7 535.5L1330.3 536.3L1338.8 529.7L1339.7 529.1L1348.5 521.4L1349.3 520.7L1361.1 533.5L1361.8 534.3L1376.8 545.1L1377.6 545.7L1383.5 547L1384.5 547.2L1389.4 541.4L1390.1 540.5L1398 524.8L1398.5 523.8L1408.8 507L1409.3 506.1L1420.4 505.2L1421.4 505.1M1484.8 496.3L1506.5 498.7L1507.5 498.8M873.5 497.2L889 497.7L890 497.8L908.4 504.7L909.4 505.1L919.1 500.3L920 499.9L921.1 500.2M980.7 523.1L981.7 523.4L983.6 522.8L995.7 519.5L996.7 519.3L1005 533.4L1005.5 534.3L1013.3 540.9L1014 541.6L1023.5 550.2L1024.3 550.9L1033 557L1033.9 557.6L1040.3 549.7L1040.9 548.9L1050.6 541.2L1051.4 540.5L1066.6 538.6L1067.6 538.4L1077.8 526.7L1078.5 525.9L1082.8 517.5L1083.3 516.5L1099.7 519.5L1100.8 519.7L1110.8 516.8L1111.8 516.5L1115.2 514L1116 513.4L1130.2 500.5L1131 499.9L1142.5 510.2L1143.3 510.9L1155.2 493.4L1155.8 492.6L1166.4 503.3L1167.1 504L1178.3 503.1L1179.4 503L1189 507.7L1190 508.2L1191.1 507.7L1192.3 507.2L1197.5 510.7L1198.3 511.3L1202.1 513.4M1263.1 532.7L1264.1 533L1265 533.2L1271.2 543.8L1271.7 544.7L1275.5 567.7L1275.7 568.7L1279.5 547.4L1279.6 546.4L1282.1 546.6L1283.4 546.8L1288.3 564.2L1288.6 565.1L1294.8 552.9L1295.3 552L1300.8 549.7L1301.7 549.3L1306.1 552.4L1306.9 553L1312.9 563.6L1313.4 564.5L1321.2 562.6L1322.2 562.4L1329.5 568L1330.3 568.7L1338.6 568.7L1339.7 568.7L1348.6 558L1349.3 557.2L1353.6 558.9L1354.7 559.3L1360.8 562L1361.8 562.4L1383.5 569.4L1384.5 569.7L1393.5 562.1L1394.3 561.4L1408.7 541.4L1409.3 540.5L1433.1 535.5L1434.1 535.3L1447.5 540.2L1448.5 540.5L1459.1 549.2L1460 549.9L1466.3 546.2L1467.3 545.7L1483.8 539.8L1484.8 539.5L1491.6 530.9L1492.3 530.1L1506.5 526.2L1507.5 525.9M873.5 530.1L890 538L909.4 537.4L924.2 534.3L929.2 529.1L948.8 533.2L965.9 543L981.7 561.4L996.7 561.4L1005.5 569.7L1014 576L1033.9 585.3L1057.6 576L1067.6 571.8L1083.3 571.4L1091 557.2L1100.8 547.8L1116 546.8L1131 540.1L1143.3 548.9L1149.3 544.7L1155.8 527L1159.8 538.4L1167.1 548.9L1179.4 535.3L1190 537.4L1192.3 540.5L1205.8 554.1L1220.4 552L1233.6 549.9L1237.9 557.2L1245 563.4L1254.2 568.7L1261.3 576L1271.7 584.3L1274.4 553L1277.6 584.3L1408.9 585.3L1419.3 576L1434.1 568.7L1446.4 570.7L1460 571.8L1484.8 570.7L1498.5 561.4L1507.5 552M873.5 586.4L901.3 576L909.4 570.1L929.2 571.4L948.8 569.3L955.5 576L974.2 586.4L1149.3 586.4L1155.8 571.8L1161.8 586.4L1507.5 586.4" fill="none" stroke="#000" stroke-width="1.5" stroke-linejoin="round"/>
<rect x="1029" y="183" width="122" height="4" fill="#000"/>
<text transform="translate(996.0 239.4) rotate(15)" font-size="28" text-anchor="middle" dy="0.36em" fill="#000">35</text>
<text transform="translate(1013.8 255.0) rotate(-30)" font-size="28" text-anchor="middle" dy="0.36em" fill="#000">34.9</text>
<text transform="translate(961.7 291.5) rotate(25)" font-size="28" text-anchor="middle" dy="0.36em" fill="#000">34.8</text>
<text transform="translate(933.6 339.5) rotate(20)" font-size="28" text-anchor="middle" dy="0.36em" fill="#000">34.7</text>
<text transform="translate(969.0 478.0) rotate(27)" font-size="28" text-anchor="middle" dy="0.36em" fill="#000">34.4</text>
<text transform="translate(952.3 509.3) rotate(25)" font-size="28" text-anchor="middle" dy="0.36em" fill="#000">34.3</text>
<text transform="translate(1178.0 261.0) rotate(25)" font-size="28" text-anchor="middle" dy="0.36em" fill="#000">34.9</text>
<text transform="translate(1206.0 296.0) rotate(10)" font-size="28" text-anchor="middle" dy="0.36em" fill="#000">34.8</text>
<text transform="translate(1188.0 353.0) rotate(22)" font-size="28" text-anchor="middle" dy="0.36em" fill="#000">34.7</text>
<text transform="translate(1151.4 392.5) rotate(-8)" font-size="28" text-anchor="middle" dy="0.36em" fill="#000">34.6</text>
<text transform="translate(1166.0 429.0) rotate(15)" font-size="28" text-anchor="middle" dy="0.36em" fill="#000">34.5</text>
<text transform="translate(1238.0 490.0) rotate(25)" font-size="28" text-anchor="middle" dy="0.36em" fill="#000">34.4</text>
<text transform="translate(1232.7 522.8) rotate(27)" font-size="28" text-anchor="middle" dy="0.36em" fill="#000">34.3</text>
<text transform="translate(1394.3 249.8) rotate(2)" font-size="28" text-anchor="middle" dy="0.36em" fill="#000">35</text>
<text transform="translate(1461.0 254.0) rotate(-3)" font-size="28" text-anchor="middle" dy="0.36em" fill="#000">34.9</text>
<text transform="translate(1460.6 277.0) rotate(-3)" font-size="28" text-anchor="middle" dy="0.36em" fill="#000">34.8</text>
<text transform="translate(1467.0 378.0) rotate(-8)" font-size="28" text-anchor="middle" dy="0.36em" fill="#000">34.7</text>
<text transform="translate(1435.0 424.8) rotate(-3)" font-size="28" text-anchor="middle" dy="0.36em" fill="#000">34.6</text>
<text transform="translate(1428.7 467.6) rotate(-12)" font-size="28" text-anchor="middle" dy="0.36em" fill="#000">34.5</text>
<text transform="translate(1454.7 510.3) rotate(-8)" font-size="28" text-anchor="middle" dy="0.36em" fill="#000">34.4</text>
</g>
<rect x="873.5" y="83" width="10.2" height="29.5" fill="#3e26a8"/>
<rect x="883.1" y="83" width="10.5" height="29.5" fill="#402ab4"/>
<rect x="893" y="83" width="10.5" height="29.5" fill="#422ec0"/>
<rect x="902.9" y="83" width="10.5" height="29.5" fill="#4332cb"/>
<rect x="912.8" y="83" width="10.5" height="29.5" fill="#4537d5"/>
<rect x="922.7" y="83" width="10.5" height="29.5" fill="#463cde"/>
<rect x="932.6" y="83" width="10.5" height="29.5" fill="#4741e5"/>
<rect x="942.6" y="83" width="10.5" height="29.5" fill="#4747eb"/>
<rect x="952.5" y="83" width="10.5" height="29.5" fill="#484df0"/>
<rect x="962.4" y="83" width="10.5" height="29.5" fill="#4852f4"/>
<rect x="972.3" y="83" width="10.5" height="29.5" fill="#4758f8"/>
<rect x="982.2" y="83" width="10.5" height="29.5" fill="#465efb"/>
<rect x="992.1" y="83" width="10.5" height="29.5" fill="#4563fd"/>
<rect x="1002" y="83" width="10.5" height="29.5" fill="#4269fe"/>
<rect x="1011.9" y="83" width="10.5" height="29.5" fill="#3e6fff"/>
<rect x="1021.8" y="83" width="10.5" height="29.5" fill="#3875fe"/>
<rect x="1031.7" y="83" width="10.5" height="29.5" fill="#327cfc"/>
<rect x="1041.6" y="83" width="10.5" height="29.5" fill="#2f81fa"/>
<rect x="1051.5" y="83" width="10.5" height="29.5" fill="#2e87f7"/>
<rect x="1061.4" y="83" width="10.5" height="29.5" fill="#2d8cf3"/>
<rect x="1071.4" y="83" width="10.5" height="29.5" fill="#2b91ef"/>
<rect x="1081.3" y="83" width="10.5" height="29.5" fill="#2797eb"/>
<rect x="1091.2" y="83" width="10.5" height="29.5" fill="#259be8"/>
<rect x="1101.1" y="83" width="10.5" height="29.5" fill="#23a0e5"/>
<rect x="1111" y="83" width="10.5" height="29.5" fill="#20a5e3"/>
<rect x="1120.9" y="83" width="10.5" height="29.5" fill="#1ca9df"/>
<rect x="1130.8" y="83" width="10.5" height="29.5" fill="#18addb"/>
<rect x="1140.7" y="83" width="10.5" height="29.5" fill="#12b1d6"/>
<rect x="1150.6" y="83" width="10.5" height="29.5" fill="#08b5d0"/>
<rect x="1160.5" y="83" width="10.5" height="29.5" fill="#01b8ca"/>
<rect x="1170.4" y="83" width="10.5" height="29.5" fill="#02bac3"/>
<rect x="1180.3" y="83" width="10.5" height="29.5" fill="#0bbdbd"/>
<rect x="1190.2" y="83" width="10.5" height="29.5" fill="#19bfb6"/>
<rect x="1200.2" y="83" width="10.5" height="29.5" fill="#24c1ae"/>
<rect x="1210.1" y="83" width="10.5" height="29.5" fill="#2cc4a7"/>
<rect x="1220" y="83" width="10.5" height="29.5" fill="#31c69f"/>
<rect x="1229.9" y="83" width="10.5" height="29.5" fill="#37c897"/>
<rect x="1239.8" y="83" width="10.5" height="29.5" fill="#3fca8e"/>
<rect x="1249.7" y="83" width="10.5" height="29.5" fill="#4acb84"/>
<rect x="1259.6" y="83" width="10.5" height="29.5" fill="#57cc7a"/>
<rect x="1269.5" y="83" width="10.5" height="29.5" fill="#64cd6f"/>
<rect x="1279.4" y="83" width="10.5" height="29.5" fill="#72cd64"/>
<rect x="1289.3" y="83" width="10.5" height="29.5" fill="#81cc59"/>
<rect x="1299.2" y="83" width="10.5" height="29.5" fill="#8fcb4e"/>
<rect x="1309.1" y="83" width="10.5" height="29.5" fill="#9dc943"/>
<rect x="1319.1" y="83" width="10.5" height="29.5" fill="#abc739"/>
<rect x="1329" y="83" width="10.5" height="29.5" fill="#b9c431"/>
<rect x="1338.9" y="83" width="10.5" height="29.5" fill="#c5c22a"/>
<rect x="1348.8" y="83" width="10.5" height="29.5" fill="#d1bf27"/>
<rect x="1358.7" y="83" width="10.5" height="29.5" fill="#dcbd29"/>
<rect x="1368.6" y="83" width="10.5" height="29.5" fill="#e6bb2d"/>
<rect x="1378.5" y="83" width="10.5" height="29.5" fill="#f0ba36"/>
<rect x="1388.4" y="83" width="10.5" height="29.5" fill="#f8ba3d"/>
<rect x="1398.3" y="83" width="10.5" height="29.5" fill="#febe3c"/>
<rect x="1408.2" y="83" width="10.5" height="29.5" fill="#fec338"/>
<rect x="1418.1" y="83" width="10.5" height="29.5" fill="#fec934"/>
<rect x="1428" y="83" width="10.5" height="29.5" fill="#fccf30"/>
<rect x="1437.9" y="83" width="10.5" height="29.5" fill="#fad62d"/>
<rect x="1447.9" y="83" width="10.5" height="29.5" fill="#f7dc2a"/>
<rect x="1457.8" y="83" width="10.5" height="29.5" fill="#f5e327"/>
<rect x="1467.7" y="83" width="10.5" height="29.5" fill="#f5e924"/>
<rect x="1477.6" y="83" width="10.5" height="29.5" fill="#f6ef20"/>
<rect x="1487.5" y="83" width="10.5" height="29.5" fill="#f7f51b"/>
<rect x="1497.4" y="83" width="10.5" height="29.5" fill="#f9fb15"/>
<rect x="873.5" y="83" width="634.1" height="29.5" fill="none" stroke="#262626" stroke-width="1.7"/>
<line x1="939" y1="83" x2="939" y2="89.8" stroke="#262626" stroke-width="1.7"/>
<text x="939" y="64.6" font-size="27.7" text-anchor="middle" fill="#262626">34.2</text>
<line x1="1052.8" y1="83" x2="1052.8" y2="89.8" stroke="#262626" stroke-width="1.7"/>
<text x="1052.8" y="64.6" font-size="27.7" text-anchor="middle" fill="#262626">34.4</text>
<line x1="1166.5" y1="83" x2="1166.5" y2="89.8" stroke="#262626" stroke-width="1.7"/>
<text x="1166.5" y="64.6" font-size="27.7" text-anchor="middle" fill="#262626">34.6</text>
<line x1="1280.2" y1="83" x2="1280.2" y2="89.8" stroke="#262626" stroke-width="1.7"/>
<text x="1280.2" y="64.6" font-size="27.7" text-anchor="middle" fill="#262626">34.8</text>
<line x1="1393.9" y1="83" x2="1393.9" y2="89.8" stroke="#262626" stroke-width="1.7"/>
<text x="1393.9" y="64.6" font-size="27.7" text-anchor="middle" fill="#262626">35</text>
<text x="1507.6" y="64.6" font-size="27.7" text-anchor="middle" fill="#262626">35.2</text>
<text x="1190.5" y="21.8" font-size="27.7" text-anchor="middle" fill="#000">Salinity</text>
<path d="M873.5 183.8L873.5 576.5L1507.6 576.5L1507.6 183.8Z" fill="none" stroke="#262626" stroke-width="1.8"/>
<line x1="873.5" y1="576.5" x2="873.5" y2="589.9" stroke="#262626" stroke-width="1.8"/>
<text x="873.5" y="631.5" font-size="27.7" text-anchor="middle" fill="#262626">0</text>
<line x1="1014.4" y1="576.5" x2="1014.4" y2="589.9" stroke="#262626" stroke-width="1.8"/>
<text x="1014.4" y="631.5" font-size="27.7" text-anchor="middle" fill="#262626">200</text>
<line x1="1155.3" y1="576.5" x2="1155.3" y2="589.9" stroke="#262626" stroke-width="1.8"/>
<text x="1155.3" y="631.5" font-size="27.7" text-anchor="middle" fill="#262626">400</text>
<line x1="1296.2" y1="576.5" x2="1296.2" y2="589.9" stroke="#262626" stroke-width="1.8"/>
<text x="1296.2" y="631.5" font-size="27.7" text-anchor="middle" fill="#262626">600</text>
<line x1="1437.1" y1="576.5" x2="1437.1" y2="589.9" stroke="#262626" stroke-width="1.8"/>
<text x="1437.1" y="631.5" font-size="27.7" text-anchor="middle" fill="#262626">800</text>
<line x1="860.1" y1="183.8" x2="873.5" y2="183.8" stroke="#262626" stroke-width="1.8"/>
<text x="846.3" y="194.6" font-size="27.7" text-anchor="end" fill="#262626">0</text>
<line x1="860.1" y1="262.3" x2="873.5" y2="262.3" stroke="#262626" stroke-width="1.8"/>
<text x="846.3" y="273.1" font-size="27.7" text-anchor="end" fill="#262626">100</text>
<line x1="860.1" y1="340.9" x2="873.5" y2="340.9" stroke="#262626" stroke-width="1.8"/>
<text x="846.3" y="351.7" font-size="27.7" text-anchor="end" fill="#262626">200</text>
<line x1="860.1" y1="419.4" x2="873.5" y2="419.4" stroke="#262626" stroke-width="1.8"/>
<text x="846.3" y="430.2" font-size="27.7" text-anchor="end" fill="#262626">300</text>
<line x1="860.1" y1="498" x2="873.5" y2="498" stroke="#262626" stroke-width="1.8"/>
<text x="846.3" y="508.8" font-size="27.7" text-anchor="end" fill="#262626">400</text>
<line x1="860.1" y1="576.5" x2="873.5" y2="576.5" stroke="#262626" stroke-width="1.8"/>
<text x="846.3" y="587.3" font-size="27.7" text-anchor="end" fill="#262626">500</text>
<text x="1190.5" y="670.5" font-size="30.4" text-anchor="middle" fill="#262626">Distance(km)</text>
<text transform="translate(783.6 380.1) rotate(-90)" font-size="30.4" text-anchor="middle" fill="#262626">Depth(m)</text>
<line x1="873.5" y1="183.8" x2="1507.6" y2="183.8" stroke="#000" stroke-width="1.8"/>
<circle cx="873.5" cy="183.8" r="5.6" fill="#000"/>
<text x="865.9" y="174.4" font-size="27.7" fill="#000">P1</text>
<circle cx="981.5" cy="183.8" r="5.6" fill="#000"/>
<text x="973.9" y="174.4" font-size="27.7" fill="#000">P2</text>
<circle cx="1034" cy="183.8" r="5.6" fill="#000"/>
<text x="1026.4" y="174.4" font-size="27.7" fill="#000">P3</text>
<circle cx="1131.7" cy="183.8" r="5.6" fill="#000"/>
<text x="1124.1" y="174.4" font-size="27.7" fill="#000">P4</text>
<circle cx="1267.3" cy="183.8" r="5.6" fill="#000"/>
<text x="1259.7" y="174.4" font-size="27.7" fill="#000">P5</text>
<circle cx="1384.9" cy="183.8" r="5.6" fill="#000"/>
<text x="1377.3" y="174.4" font-size="27.7" fill="#000">P6</text>
<circle cx="1507.6" cy="183.8" r="5.6" fill="#000"/>
<text x="1500" y="174.4" font-size="27.7" fill="#000">P7</text>
<text x="830" y="50.6" font-size="29.5" font-weight="bold" fill="#000" style="stroke:none">B</text>
</g>
<g id="panelC">
<clipPath id="clipC"><rect x="115" y="925.1" width="634" height="391.1"/></clipPath>
<defs>
<radialGradient id="gp"><stop offset="0" stop-color="#3e26a8"/><stop offset="0.36" stop-color="#3e26a8"/><stop offset="0.36" stop-color="#4040e0"/><stop offset="0.5" stop-color="#4040e0"/><stop offset="0.5" stop-color="#2e86f2"/><stop offset="0.64" stop-color="#2e86f2"/><stop offset="0.64" stop-color="#12b5c9"/><stop offset="0.78" stop-color="#12b5c9"/><stop offset="0.78" stop-color="#58c87a"/><stop offset="0.9" stop-color="#58c87a"/><stop offset="0.9" stop-color="#c9c235"/><stop offset="1.0" stop-color="#c9c235"/></radialGradient>
<radialGradient id="gb"><stop offset="0" stop-color="#3a52ea"/><stop offset="0.4" stop-color="#3a52ea"/><stop offset="0.4" stop-color="#2e86f2"/><stop offset="0.6" stop-color="#2e86f2"/><stop offset="0.6" stop-color="#12b5c9"/><stop offset="0.78" stop-color="#12b5c9"/><stop offset="0.78" stop-color="#58c87a"/><stop offset="0.9" stop-color="#58c87a"/><stop offset="0.9" stop-color="#c9c235"/><stop offset="1.0" stop-color="#c9c235"/></radialGradient>
<radialGradient id="gc"><stop offset="0" stop-color="#1fa6e0"/><stop offset="0.5" stop-color="#1fa6e0"/><stop offset="0.5" stop-color="#18b9b9"/><stop offset="0.75" stop-color="#18b9b9"/><stop offset="0.75" stop-color="#58c87a"/><stop offset="0.9" stop-color="#58c87a"/><stop offset="0.9" stop-color="#c9c235"/><stop offset="1.0" stop-color="#c9c235"/></radialGradient>
<radialGradient id="go"><stop offset="0" stop-color="#f3b84a"/><stop offset="0.6" stop-color="#f3b84a"/><stop offset="0.6" stop-color="#f8d030"/><stop offset="1.0" stop-color="#f8d030"/></radialGradient>
<radialGradient id="gy"><stop offset="0" stop-color="#f9fb15"/><stop offset="0.7" stop-color="#f9fb15"/><stop offset="0.7" stop-color="#f8d030"/><stop offset="1.0" stop-color="#f8d030"/></radialGradient>
<filter id="blC" x="-5%" y="-5%" width="110%" height="110%"><feGaussianBlur stdDeviation="0.8"/></filter>
<filter id="pvn" filterUnits="userSpaceOnUse" x="85" y="895.1" width="694" height="451.1" color-interpolation-filters="sRGB">
<feGaussianBlur in="SourceGraphic" stdDeviation="5 2.5" result="m"/>
<feTurbulence type="fractalNoise" baseFrequency="0.021 0.13" numOctaves="2" seed="11" result="t"/>
<feColorMatrix in="t" type="matrix" values="1 0 0 0 0  1 0 0 0 0  1 0 0 0 0  0 0 0 0 1" result="n"/>
<feComposite in="n" in2="m" operator="arithmetic" k1="0" k2="2.0" k3="1.0" k4="-0.91" result="v"/>
<feComponentTransfer in="v"><feFuncR type="discrete" tableValues="0.243 0.243 0.255 0.227 0.180 0.133 0.071 0.184 0.345 0.788 0.961 0.973 0.976 0.976 0.976 0.976 0.976 0.976 0.976 0.976"/><feFuncG type="discrete" tableValues="0.149 0.149 0.263 0.361 0.525 0.627 0.710 0.753 0.784 0.761 0.722 0.835 0.984 0.984 0.984 0.984 0.984 0.984 0.984 0.984"/><feFuncB type="discrete" tableValues="0.659 0.659 0.878 0.941 0.949 0.902 0.788 0.627 0.478 0.208 0.282 0.208 0.082 0.082 0.082 0.082 0.082 0.082 0.082 0.082"/></feComponentTransfer><feGaussianBlur stdDeviation="0.7"/>
</filter>
</defs>
<g clip-path="url(#clipC)">
<rect x="115" y="925.1" width="634" height="391.1" fill="#f9fb15"/>
<g filter="url(#pvn)">
<rect x="75" y="885.1" width="714" height="471.1" fill="#a8a8a8"/>
<path d="M101.6 940.8L445.5 940.8L445.5 1028.4L403.8 1032.6L372.6 1036.7L341.3 1024.2L310 1024.2L291.3 1013.8L257.9 1028.4L237.1 1045.1L205.8 1040.9L174.5 1020.1L153.7 1024.2L101.6 1013.8Z" fill="#ffffff"/>
<path d="M421.6 951.3L765.5 951.3L765.5 1020.1L723.8 1024.2L692.6 1024.2L661.3 1032.6L619.6 1036.7L577.9 1036.7L536.2 1036.7L494.5 1040.9L452.8 1036.7L421.6 1028.4Z" fill="#ffffff"/>
<path d="M107.8 1045.1L153.7 1040.9L195.4 1045.1L228.7 1057.6L224.6 1088.9L174.5 1086.8L132.8 1078.4L107.8 1074.3Z" fill="#808080"/>
<path d="M427.8 1055.5L494.5 1065.9L482 1078.4L452.8 1090.9L427.8 1086.8Z" fill="#595959"/>
<path d="M619.6 1065.9L657.1 1065.9L661.3 1079.5L632.1 1086.8L602.9 1086.8Z" fill="#595959"/>
<path d="M228.7 1057.6L245.4 1049.2L257.9 1036.7L270.4 1028.4L278.8 1023.2L291.3 1025.3L299.6 1033.6L312.1 1038.8L328.8 1043L345.5 1045.1L362.2 1049.2L374.7 1055.5L368.4 1065.9L351.7 1074.3L330.9 1078.4L320.5 1086.8L310 1097.2L299.6 1107.6L291.3 1121.2L274.6 1121.2L266.3 1107.6L253.8 1103.4L237.1 1097.2L224.6 1088.9L237.1 1080.5L253.8 1072.2L245.4 1063.8Z" fill="#5c5c5c"/>
<path d="M494.5 1065.9L511.2 1053.4L519.6 1049.2L540.4 1051.3L565.4 1053.4L590.4 1049.2L602.9 1057.6L619.6 1065.9L632.1 1070.1L619.6 1078.4L602.9 1086.8L590.4 1099.3L577.9 1107.6L565.4 1121.2L519.6 1121.2L511.2 1107.6L500.8 1097.2L490.4 1086.8L482 1078.4Z" fill="#5c5c5c"/>
<path d="M657.1 1065.9L671.7 1055.5L692.6 1049.2L703 1037.8L749.1 1034.7L752 1087.8L723.8 1085.7L703 1087.8L682.2 1085.7L661.3 1079.5Z" fill="#5c5c5c"/>
<path d="M682.2 1065.9L703 1053.4L723.8 1049.2L752 1047.2L752 1078.4L723.8 1076.3L703 1078.4Z" fill="#404040"/>
<path d="M249.6 1057.6L266.3 1045.1L278.8 1035.7L291.3 1040.9L299.6 1053.4L312.1 1057.6L320.5 1065.9L333 1070.1L320.5 1080.5L308 1086.8L312.1 1097.2L299.6 1103.4L289.2 1113.9L276.7 1113.9L270.4 1103.4L257.9 1099.3L245.4 1093L253.8 1084.7L266.3 1078.4L257.9 1070.1Z" fill="#2e2e2e"/>
<path d="M515.4 1061.8L532.1 1055.5L557.1 1059.7L577.9 1061.8L590.4 1070.1L582.1 1082.6L569.6 1093L557.1 1103.4L540.4 1107.6L525.8 1101.4L515.4 1090.9L511.2 1078.4Z" fill="#2e2e2e"/>
<path d="M693.6 1042L703 1037.8L752 1036.3L752 1045.5L703 1045.5Z" fill="#2e2e2e"/>
<path d="M665.5 1081.6L682.2 1078.4L752 1079.5L752 1085.7L682.2 1085.7Z" fill="#2e2e2e"/>
<path d="M602.9 1069.1L619.6 1065.9L640.5 1069.1L619.6 1072.2Z" fill="#2e2e2e"/>
</g>
<g filter="url(#blC)">
<path d="M127.6 928.3L217.3 928.3L224.2 934.6L222.5 940.2L212.1 935.4L174.5 931.9L164.1 931.3L153.7 936.7L147.4 935L137 933.3Z" fill="#16b2cc" stroke="#16b2cc" stroke-width="2.5" stroke-linejoin="round"/>
<path d="M127.6 928.3L217.3 928.3L224.2 934.6L222.5 940.2L212.1 935.4L174.5 931.9L164.1 931.3L153.7 936.7L147.4 935L137 933.3Z" fill="#2f74f0" stroke="#2f74f0" stroke-width="0" stroke-linejoin="round"/>
<path d="M162 928.3L216.2 928.3L210 932.9L174.5 930.8Z" fill="#3a48e6" stroke="#3a48e6" stroke-width="2" stroke-linejoin="round"/>
<path d="M162 928.3L216.2 928.3L210 932.9L174.5 930.8Z" fill="#3e26a8" stroke="#3e26a8" stroke-width="0" stroke-linejoin="round"/>
<path d="M285 928.3L376.7 928.3L371.5 936.3L358 937.5L341.3 933.3L320.5 937.5L308 933.3L295.4 931.9Z" fill="#16b2cc" stroke="#16b2cc" stroke-width="2.5" stroke-linejoin="round"/>
<path d="M285 928.3L376.7 928.3L371.5 936.3L358 937.5L341.3 933.3L320.5 937.5L308 933.3L295.4 931.9Z" fill="#2f74f0" stroke="#2f74f0" stroke-width="0" stroke-linejoin="round"/>
<path d="M291.3 928.3L372.6 928.3L368.4 933.8L358 935.4L341.3 931.7L320.5 935.4L310 931.7Z" fill="#3a48e6" stroke="#3a48e6" stroke-width="2" stroke-linejoin="round"/>
<path d="M291.3 928.3L372.6 928.3L368.4 933.8L358 935.4L341.3 931.7L320.5 935.4L310 931.7Z" fill="#3e26a8" stroke="#3e26a8" stroke-width="0" stroke-linejoin="round"/>
<path d="M389.3 936.3L403.8 930L433 928.3L433 945.8L420.5 943.8L412.2 938.3L399.7 943.8Z" fill="#16b2cc" stroke="#16b2cc" stroke-width="2.5" stroke-linejoin="round"/>
<path d="M389.3 936.3L403.8 930L433 928.3L433 945.8L420.5 943.8L412.2 938.3L399.7 943.8Z" fill="#2f74f0" stroke="#2f74f0" stroke-width="0" stroke-linejoin="round"/>
<path d="M395.5 935.8L408 930.8L433 929.2L433 942.9L422.6 941.7L414.3 936.3L403.8 940.8Z" fill="#3a48e6" stroke="#3a48e6" stroke-width="2" stroke-linejoin="round"/>
<path d="M395.5 935.8L408 930.8L433 929.2L433 942.9L422.6 941.7L414.3 936.3L403.8 940.8Z" fill="#3e26a8" stroke="#3e26a8" stroke-width="0" stroke-linejoin="round"/>
<path d="M432 928.3L463.3 928.3L453.9 935L444.5 940.4L432 941.7Z" fill="#16b2cc" stroke="#16b2cc" stroke-width="2.5" stroke-linejoin="round"/>
<path d="M432 928.3L463.3 928.3L453.9 935L444.5 940.4L432 941.7Z" fill="#2f74f0" stroke="#2f74f0" stroke-width="0" stroke-linejoin="round"/>
<path d="M432 930.4L454.9 929.6L446.6 934.6L432 938.8Z" fill="#3a48e6" stroke="#3a48e6" stroke-width="2" stroke-linejoin="round"/>
<path d="M432 930.4L454.9 929.6L446.6 934.6L432 938.8Z" fill="#3e26a8" stroke="#3e26a8" stroke-width="0" stroke-linejoin="round"/>
<path d="M500.8 928.3L534.1 928.3L531.6 940.4L521.6 941.7L515.4 937.5L506 939.6Z" fill="#16b2cc" stroke="#16b2cc" stroke-width="2.5" stroke-linejoin="round"/>
<path d="M500.8 928.3L534.1 928.3L531.6 940.4L521.6 941.7L515.4 937.5L506 939.6Z" fill="#2f74f0" stroke="#2f74f0" stroke-width="0" stroke-linejoin="round"/>
<path d="M503.9 928.8L531.6 928.8L529.1 938.3L521.6 939.6L515.4 935.4L507.5 937.5Z" fill="#3a48e6" stroke="#3a48e6" stroke-width="2" stroke-linejoin="round"/>
<path d="M503.9 928.8L531.6 928.8L529.1 938.3L521.6 939.6L515.4 935.4L507.5 937.5Z" fill="#3e26a8" stroke="#3e26a8" stroke-width="0" stroke-linejoin="round"/>
<path d="M530 932.1L540.4 937.1L548.7 935L557.1 928.8L583.1 928.8L587.9 936.7L583.1 945.8L567.5 949.2L548.7 947.1L535.2 942.5Z" fill="#16b2cc" stroke="#16b2cc" stroke-width="2.5" stroke-linejoin="round"/>
<path d="M530 932.1L540.4 937.1L548.7 935L557.1 928.8L583.1 928.8L587.9 936.7L583.1 945.8L567.5 949.2L548.7 947.1L535.2 942.5Z" fill="#2f74f0" stroke="#2f74f0" stroke-width="0" stroke-linejoin="round"/>
<path d="M536.2 935.6L548.7 937.5L559.2 930L581.1 930L585.2 936.7L581.1 944L567.5 946.7L549.8 945L538.3 940.8Z" fill="#3a48e6" stroke="#3a48e6" stroke-width="2" stroke-linejoin="round"/>
<path d="M536.2 935.6L548.7 937.5L559.2 930L581.1 930L585.2 936.7L581.1 944L567.5 946.7L549.8 945L538.3 940.8Z" fill="#3e26a8" stroke="#3e26a8" stroke-width="0" stroke-linejoin="round"/>
<path d="M600.9 928.8L683.2 928.8L703 929.4L700.9 938.8L685.3 937.5L676.9 950.4L661.3 952.5L640.5 946.3L619.6 942.9L611.3 939.6L593.6 935Z" fill="#16b2cc" stroke="#16b2cc" stroke-width="2.5" stroke-linejoin="round"/>
<path d="M600.9 928.8L683.2 928.8L703 929.4L700.9 938.8L685.3 937.5L676.9 950.4L661.3 952.5L640.5 946.3L619.6 942.9L611.3 939.6L593.6 935Z" fill="#2f74f0" stroke="#2f74f0" stroke-width="0" stroke-linejoin="round"/>
<path d="M605 929.6L681.1 929.6L682.2 936.7L674.9 948.4L661.3 950.4L640.5 944.2L619.6 940.8L612.3 937.9L598.8 934.2Z" fill="#3a48e6" stroke="#3a48e6" stroke-width="2" stroke-linejoin="round"/>
<path d="M605 929.6L681.1 929.6L682.2 936.7L674.9 948.4L661.3 950.4L640.5 944.2L619.6 940.8L612.3 937.9L598.8 934.2Z" fill="#3e26a8" stroke="#3e26a8" stroke-width="0" stroke-linejoin="round"/>
<path d="M725.9 928.8L750.9 928.8L750.9 942.1L737.4 940.8Z" fill="#16b2cc" stroke="#16b2cc" stroke-width="2.5" stroke-linejoin="round"/>
<path d="M725.9 928.8L750.9 928.8L750.9 942.1L737.4 940.8Z" fill="#2f74f0" stroke="#2f74f0" stroke-width="0" stroke-linejoin="round"/>
<path d="M729.1 929.2L750.9 929.2L750.9 940.4L738.4 939.2Z" fill="#3a48e6" stroke="#3a48e6" stroke-width="2" stroke-linejoin="round"/>
<path d="M729.1 929.2L750.9 929.2L750.9 940.4L738.4 939.2Z" fill="#3e26a8" stroke="#3e26a8" stroke-width="0" stroke-linejoin="round"/>
<path d="M261.1 1063.8L276.7 1058.6L286.1 1063.8L278.8 1070.1L276.7 1074.3L270.4 1069.1Z" fill="#3a48e6" stroke="#3a48e6" stroke-width="2" stroke-linejoin="round"/>
<path d="M261.1 1063.8L276.7 1058.6L286.1 1063.8L278.8 1070.1L276.7 1074.3L270.4 1069.1Z" fill="#3e26a8" stroke="#3e26a8" stroke-width="0" stroke-linejoin="round"/>
<path d="M286.1 1090.9L295.4 1087.4L309 1090.9L295.4 1095.5Z" fill="#3a48e6" stroke="#3a48e6" stroke-width="2" stroke-linejoin="round"/>
<path d="M286.1 1090.9L295.4 1087.4L309 1090.9L295.4 1095.5Z" fill="#3e26a8" stroke="#3e26a8" stroke-width="0" stroke-linejoin="round"/>
<path d="M247.1 1097.2L255.8 1094.7L262.5 1099.3L253.8 1101.8Z" fill="#3a48e6" stroke="#3a48e6" stroke-width="2" stroke-linejoin="round"/>
<path d="M247.1 1097.2L255.8 1094.7L262.5 1099.3L253.8 1101.8Z" fill="#3e26a8" stroke="#3e26a8" stroke-width="0" stroke-linejoin="round"/>
<path d="M270.4 1084.7L278.8 1080.5L287.1 1084.7L278.8 1089.9Z" fill="#3a48e6" stroke="#3a48e6" stroke-width="2" stroke-linejoin="round"/>
<path d="M270.4 1084.7L278.8 1080.5L287.1 1084.7L278.8 1089.9Z" fill="#3e26a8" stroke="#3e26a8" stroke-width="0" stroke-linejoin="round"/>
<path d="M295.4 1047.6L310 1042L330.9 1043.4L343.4 1047.6L330.9 1052.6L310 1053.8Z" fill="#f6d030" stroke="#f6d030" stroke-width="2" stroke-linejoin="round"/>
<path d="M295.4 1047.6L310 1042L330.9 1043.4L343.4 1047.6L330.9 1052.6L310 1053.8Z" fill="#f3b84a" stroke="#f3b84a" stroke-width="0" stroke-linejoin="round"/>
<path d="M299.6 1063.8L310 1059.3L320.5 1063.8L310 1068.6Z" fill="#f9fb15" stroke="#f9fb15" stroke-width="0" stroke-linejoin="round"/>
<path d="M328.8 1061.8L345.5 1057.6L362.2 1061.8L345.5 1065.9Z" fill="#f9fb15" stroke="#f9fb15" stroke-width="0" stroke-linejoin="round"/>
<path d="M519.6 1065.9L525.8 1063.8L530 1070.1L523.7 1074.3Z" fill="#3a48e6" stroke="#3a48e6" stroke-width="2" stroke-linejoin="round"/>
<path d="M519.6 1065.9L525.8 1063.8L530 1070.1L523.7 1074.3Z" fill="#3e26a8" stroke="#3e26a8" stroke-width="0" stroke-linejoin="round"/>
<path d="M532.1 1076.3L540.4 1074.3L544.6 1078.4L536.2 1082.6Z" fill="#3a48e6" stroke="#3a48e6" stroke-width="2" stroke-linejoin="round"/>
<path d="M532.1 1076.3L540.4 1074.3L544.6 1078.4L536.2 1082.6Z" fill="#3e26a8" stroke="#3e26a8" stroke-width="0" stroke-linejoin="round"/>
<path d="M567.5 1078.4L577.9 1075.3L584.2 1079.5L575.8 1084.7Z" fill="#3a48e6" stroke="#3a48e6" stroke-width="2" stroke-linejoin="round"/>
<path d="M567.5 1078.4L577.9 1075.3L584.2 1079.5L575.8 1084.7Z" fill="#3e26a8" stroke="#3e26a8" stroke-width="0" stroke-linejoin="round"/>
<path d="M548.7 1090.9L557.1 1088.9L561.2 1093L555 1096.2Z" fill="#3a48e6" stroke="#3a48e6" stroke-width="2" stroke-linejoin="round"/>
<path d="M548.7 1090.9L557.1 1088.9L561.2 1093L555 1096.2Z" fill="#3e26a8" stroke="#3e26a8" stroke-width="0" stroke-linejoin="round"/>
<path d="M582.1 1053.4L590.4 1051.3L596.7 1055.1L590.4 1058Z" fill="#3a48e6" stroke="#3a48e6" stroke-width="2" stroke-linejoin="round"/>
<path d="M582.1 1053.4L590.4 1051.3L596.7 1055.1L590.4 1058Z" fill="#3e26a8" stroke="#3e26a8" stroke-width="0" stroke-linejoin="round"/>
<path d="M511.2 1086.8L517.5 1084.7L521.6 1089.9L515.4 1093Z" fill="#3a48e6" stroke="#3a48e6" stroke-width="2" stroke-linejoin="round"/>
<path d="M511.2 1086.8L517.5 1084.7L521.6 1089.9L515.4 1093Z" fill="#3e26a8" stroke="#3e26a8" stroke-width="0" stroke-linejoin="round"/>
<path d="M696.7 1040.9L705.1 1039.2L713.4 1041.3L705.1 1043.4Z" fill="#3a48e6" stroke="#3a48e6" stroke-width="2" stroke-linejoin="round"/>
<path d="M696.7 1040.9L705.1 1039.2L713.4 1041.3L705.1 1043.4Z" fill="#3e26a8" stroke="#3e26a8" stroke-width="0" stroke-linejoin="round"/>
<path d="M694.7 1058.6L709.3 1055.1L736.4 1055.9L732.2 1061.8L709.3 1062.6Z" fill="#f9fb15" stroke="#f9fb15" stroke-width="0" stroke-linejoin="round"/>
<path d="M669.6 1081.8L682.2 1079.7L696.7 1081.8L682.2 1084.3Z" fill="#3a48e6" stroke="#3a48e6" stroke-width="2" stroke-linejoin="round"/>
<path d="M669.6 1081.8L682.2 1079.7L696.7 1081.8L682.2 1084.3Z" fill="#3e26a8" stroke="#3e26a8" stroke-width="0" stroke-linejoin="round"/>
<path d="M711.3 1082.2L728 1080.1L752 1080.9L752 1084.7L728 1085.1Z" fill="#3a48e6" stroke="#3a48e6" stroke-width="2" stroke-linejoin="round"/>
<path d="M711.3 1082.2L728 1080.1L752 1080.9L752 1084.7L728 1085.1Z" fill="#3e26a8" stroke="#3e26a8" stroke-width="0" stroke-linejoin="round"/>
<path d="M667.6 1059.3L675.9 1056.5L685.3 1059.3L675.9 1061.8Z" fill="#3a48e6" stroke="#3a48e6" stroke-width="2" stroke-linejoin="round"/>
<path d="M667.6 1059.3L675.9 1056.5L685.3 1059.3L675.9 1061.8Z" fill="#3e26a8" stroke="#3e26a8" stroke-width="0" stroke-linejoin="round"/>
<path d="M609.2 1069.1L619.6 1067.2L632.1 1069.1L619.6 1071.1Z" fill="#3a48e6" stroke="#3a48e6" stroke-width="2" stroke-linejoin="round"/>
<path d="M609.2 1069.1L619.6 1067.2L632.1 1069.1L619.6 1071.1Z" fill="#3e26a8" stroke="#3e26a8" stroke-width="0" stroke-linejoin="round"/>
<path d="M255.8 1058.6L268.3 1048.2L278.8 1042L289.2 1046.1L295.4 1055.5L305.9 1062.8L299.6 1074.3L308 1084.7L299.6 1093L289.2 1099.3L278.8 1097.2L270.4 1087.8L261.1 1079.5L266.3 1070.1Z" fill="#16b2cc" stroke="#16b2cc" stroke-width="2.5" stroke-linejoin="round"/>
<path d="M255.8 1058.6L268.3 1048.2L278.8 1042L289.2 1046.1L295.4 1055.5L305.9 1062.8L299.6 1074.3L308 1084.7L299.6 1093L289.2 1099.3L278.8 1097.2L270.4 1087.8L261.1 1079.5L266.3 1070.1Z" fill="#2f74f0" stroke="#2f74f0" stroke-width="0" stroke-linejoin="round"/>
<path d="M261.1 1063.8L276.7 1058.6L286.1 1063.8L278.8 1070.1L276.7 1074.3L270.4 1069.1Z" fill="#3a48e6" stroke="#3a48e6" stroke-width="2" stroke-linejoin="round"/>
<path d="M261.1 1063.8L276.7 1058.6L286.1 1063.8L278.8 1070.1L276.7 1074.3L270.4 1069.1Z" fill="#3e26a8" stroke="#3e26a8" stroke-width="0" stroke-linejoin="round"/>
<path d="M286.1 1090.9L295.4 1087.4L309 1090.9L295.4 1095.5Z" fill="#3a48e6" stroke="#3a48e6" stroke-width="2" stroke-linejoin="round"/>
<path d="M286.1 1090.9L295.4 1087.4L309 1090.9L295.4 1095.5Z" fill="#3e26a8" stroke="#3e26a8" stroke-width="0" stroke-linejoin="round"/>
<path d="M270.4 1084.7L278.8 1080.5L287.1 1084.7L278.8 1089.9Z" fill="#3a48e6" stroke="#3a48e6" stroke-width="2" stroke-linejoin="round"/>
<path d="M270.4 1084.7L278.8 1080.5L287.1 1084.7L278.8 1089.9Z" fill="#3e26a8" stroke="#3e26a8" stroke-width="0" stroke-linejoin="round"/>
<path d="M299.6 1063.8L310 1059.3L320.5 1063.8L310 1068.6Z" fill="#f9fb15" stroke="#f9fb15" stroke-width="0" stroke-linejoin="round"/>
<path d="M143.3 1299.3L156.8 1294.4L171.4 1294.4L185 1299.3L171.4 1304.1L156.8 1304.1Z" fill="url(#go)"/>
<path d="M624.3 1086.8L634.8 1080.7L646.1 1080.7L656.6 1086.8L646.1 1092.8L634.8 1092.8Z" fill="url(#go)"/>
<path d="M684.8 1301.4L695.3 1295.3L706.6 1295.3L717.1 1301.4L706.6 1307.4L695.3 1307.4Z" fill="url(#go)"/>
<path d="M351.7 1055.5L365.3 1051.3L379.9 1051.3L393.4 1055.5L379.9 1059.7L365.3 1059.7Z" fill="url(#go)"/>
<path d="M619.6 1107.6L633.2 1103.4L647.8 1103.4L661.3 1107.6L647.8 1111.8L633.2 1111.8Z" fill="url(#go)"/>
<path d="M320.5 1132.5L334 1128.3L348.6 1128.3L362.2 1132.5L348.6 1136.7L334 1136.7Z" fill="url(#go)"/>
<path d="M721.2 1093L729.7 1086.4L738.8 1086.4L747.3 1093L738.8 1099.7L729.7 1099.7Z" fill="url(#go)"/>
<path d="M125 1097.2L136.9 1093L149.7 1093L161.5 1097.2L149.7 1101.4L136.9 1101.4Z" fill="url(#go)"/>
<path d="M398.6 1065.9L408.8 1061.1L419.7 1061.1L429.9 1065.9L419.7 1070.8L408.8 1070.8Z" fill="url(#go)"/>
<path d="M220.4 1145L234 1141.4L248.5 1141.4L262.1 1145L248.5 1148.6L234 1148.6Z" fill="url(#go)"/>
<path d="M278.8 1145L292.3 1141.4L306.9 1141.4L320.5 1145L306.9 1148.6L292.3 1148.6Z" fill="url(#go)"/>
<path d="M198 1065.9L209.8 1062.3L222.6 1062.3L234.5 1065.9L222.6 1069.6L209.8 1069.6Z" fill="url(#go)"/>
<path d="M478.9 1107.6L489.1 1103.4L500 1103.4L510.2 1107.6L500 1111.8L489.1 1111.8Z" fill="url(#go)"/>
<path d="M588.3 935.6L595.1 929.6L602.4 929.6L609.2 935.6L602.4 941.7L595.1 941.7Z" fill="url(#go)"/>
<path d="M237.1 1303.4L250.6 1300.4L265.2 1300.4L278.8 1303.4L265.2 1306.5L250.6 1306.5Z" fill="url(#go)"/>
<path d="M432 1190.9L445.6 1187.9L460.1 1187.9L473.7 1190.9L460.1 1193.9L445.6 1193.9Z" fill="url(#go)"/>
<path d="M640.5 1151.3L654 1148.2L668.6 1148.2L682.2 1151.3L668.6 1154.3L654 1154.3Z" fill="url(#go)"/>
<path d="M121.4 1128.3L131.5 1124.7L142.5 1124.7L152.7 1128.3L142.5 1132L131.5 1132Z" fill="url(#go)"/>
<path d="M398.6 1182.5L408.8 1179.5L419.7 1179.5L429.9 1182.5L419.7 1185.6L408.8 1185.6Z" fill="url(#go)"/>
<path d="M111.5 1082.6L119.9 1079.6L129.1 1079.6L137.5 1082.6L129.1 1085.6L119.9 1085.6Z" fill="url(#go)"/>
<path d="M115.6 1253.4L124.1 1250.4L133.2 1250.4L141.7 1253.4L133.2 1256.4L124.1 1256.4Z" fill="url(#go)"/>
<path d="M562.3 1061.8L565.7 1058.1L569.3 1058.1L572.7 1061.8L569.3 1065.4L565.7 1065.4Z" fill="url(#go)"/>
<path d="M561.8 1180.5L565.5 1177.4L569.5 1177.4L573.2 1180.5L569.5 1183.5L565.5 1183.5Z" fill="url(#go)"/>
<path d="M519 1078.4L520.7 1073.9L522.6 1073.9L524.2 1078.4L522.6 1083L520.7 1083Z" fill="url(#go)"/>
<path d="M506 1161.7L516.2 1143.6L527.1 1143.6L537.3 1161.7L527.1 1179.8L516.2 1179.8Z" fill="url(#gc)"/>
<path d="M259.7 1128.3L270.8 1115.6L282.6 1115.6L293.6 1128.3L282.6 1141L270.8 1141Z" fill="url(#gc)"/>
<path d="M633.9 1095.1L651.7 1088.5L670.9 1088.5L688.7 1095.1L670.9 1101.8L651.7 1101.8Z" fill="url(#gc)"/>
<path d="M518 1249.2L523.1 1231.1L528.5 1231.1L533.6 1249.2L528.5 1267.4L523.1 1267.4Z" fill="url(#gc)"/>
<path d="M131.5 1088.9L145.9 1083.4L161.4 1083.4L175.8 1088.9L161.4 1094.3L145.9 1094.3Z" fill="url(#gc)"/>
<path d="M531.8 1107.6L542.8 1101L554.7 1101L565.7 1107.6L554.7 1114.3L542.8 1114.3Z" fill="url(#gc)"/>
<path d="M657.4 1218L673.5 1213.7L690.8 1213.7L706.9 1218L690.8 1222.2L673.5 1222.2Z" fill="url(#gc)"/>
<path d="M111.7 1053.4L122.7 1048L134.6 1048L145.6 1053.4L134.6 1058.9L122.7 1058.9Z" fill="url(#gc)"/>
<path d="M577.9 1113.9L591.5 1110.2L606.1 1110.2L619.6 1113.9L606.1 1117.5L591.5 1117.5Z" fill="url(#gc)"/>
<path d="M358.5 1107.6L369 1103.4L380.3 1103.4L390.8 1107.6L380.3 1111.8L369 1111.8Z" fill="url(#gc)"/>
<path d="M161 1205.5L169.8 1200.6L179.3 1200.6L188.1 1205.5L179.3 1210.3L169.8 1210.3Z" fill="url(#gc)"/>
<path d="M413.8 1074.3L420.9 1068.8L428.5 1068.8L435.6 1074.3L428.5 1079.7L420.9 1079.7Z" fill="url(#gc)"/>
<path d="M125.6 1107.6L134.4 1103.4L143.8 1103.4L152.7 1107.6L143.8 1111.8L134.4 1111.8Z" fill="url(#gc)"/>
<path d="M472.7 1070.1L481.5 1065.9L490.9 1065.9L499.8 1070.1L490.9 1074.3L481.5 1074.3Z" fill="url(#gc)"/>
<path d="M374.1 1167.9L381.3 1163.1L388.9 1163.1L396 1167.9L388.9 1172.8L381.3 1172.8Z" fill="url(#gc)"/>
<path d="M707.7 1181.5L718.2 1178.5L729.5 1178.5L740 1181.5L729.5 1184.5L718.2 1184.5Z" fill="url(#gc)"/>
<path d="M230.3 1080.5L237.4 1076.3L245.1 1076.3L252.2 1080.5L245.1 1084.7L237.4 1084.7Z" fill="url(#gc)"/>
<path d="M355.4 1229.4L362.5 1225.8L370.2 1225.8L377.3 1229.4L370.2 1233.1L362.5 1233.1Z" fill="url(#gc)"/>
<path d="M446.1 1275.3L453.2 1271.7L460.8 1271.7L468 1275.3L460.8 1278.9L453.2 1278.9Z" fill="url(#gc)"/>
<path d="M380.9 1032.6L386.3 1028.9L392.2 1028.9L397.6 1032.6L392.2 1036.2L386.3 1036.2Z" fill="url(#gc)"/>
<path d="M159.9 1309.7L165.4 1306.1L171.2 1306.1L176.6 1309.7L171.2 1313.3L165.4 1313.3Z" fill="url(#gc)"/>
<path d="M300.7 1015.9L305.4 1012.3L310.5 1012.3L315.3 1015.9L310.5 1019.5L305.4 1019.5Z" fill="url(#gc)"/>
<path d="M539.9 1249.2L541.6 1243.2L543.4 1243.2L545.1 1249.2L543.4 1255.3L541.6 1255.3Z" fill="url(#gc)"/>
<path d="M576.6 1020.1L578.8 1016.1L581.2 1016.1L583.4 1020.1L581.2 1024L578.8 1024Z" fill="url(#gc)"/>
<path d="M218.8 1016.9L221.2 1013.9L223.8 1013.9L226.1 1016.9L223.8 1020L221.2 1020Z" fill="url(#gc)"/>
<path d="M648.3 1090.9L683.9 1084.3L722.2 1084.3L757.7 1090.9L722.2 1097.6L683.9 1097.6Z" fill="url(#gb)"/>
<path d="M593.3 1130.4L607.7 1122L623.2 1122L637.6 1130.4L623.2 1138.9L607.7 1138.9Z" fill="url(#gb)"/>
<path d="M214.9 1107.6L229.3 1102.2L244.8 1102.2L259.2 1107.6L244.8 1113.1L229.3 1113.1Z" fill="url(#gb)"/>
<path d="M197.2 1303.4L215 1299.8L234.1 1299.8L251.9 1303.4L234.1 1307.1L215 1307.1Z" fill="url(#gb)"/>
<path d="M382 1211.7L390.8 1205.1L400.3 1205.1L409.1 1211.7L400.3 1218.4L390.8 1218.4Z" fill="url(#gb)"/>
<path d="M422.4 1074.3L436.8 1070.6L452.3 1070.6L466.7 1074.3L452.3 1077.9L436.8 1077.9Z" fill="url(#gb)"/>
<path d="M434.1 1209.6L446.3 1205.4L459.4 1205.4L471.6 1209.6L459.4 1213.9L446.3 1213.9Z" fill="url(#gb)"/>
<path d="M188.6 1209.6L202.5 1206L217.5 1206L231.3 1209.6L217.5 1213.3L202.5 1213.3Z" fill="url(#gb)"/>
<path d="M117.7 1286.8L131.6 1283.1L146.6 1283.1L160.5 1286.8L146.6 1290.4L131.6 1290.4Z" fill="url(#gb)"/>
<path d="M407 1103.4L415.8 1098L425.3 1098L434.1 1103.4L425.3 1108.9L415.8 1108.9Z" fill="url(#gb)"/>
<path d="M184.4 1263.8L191.6 1257.2L199.2 1257.2L206.3 1263.8L199.2 1270.5L191.6 1270.5Z" fill="url(#gb)"/>
<path d="M387.7 1082.6L398.2 1078.4L409.5 1078.4L420 1082.6L409.5 1086.8L398.2 1086.8Z" fill="url(#gb)"/>
<path d="M603.5 1101.4L614 1097.1L625.3 1097.1L635.8 1101.4L625.3 1105.6L614 1105.6Z" fill="url(#gb)"/>
<path d="M404.4 1240.9L414.9 1236.7L426.2 1236.7L436.7 1240.9L426.2 1245.1L414.9 1245.1Z" fill="url(#gb)"/>
<path d="M193.3 1166.9L205.5 1163.3L218.6 1163.3L230.8 1166.9L218.6 1170.5L205.5 1170.5Z" fill="url(#gb)"/>
<path d="M216.2 1284.7L228.4 1281.1L241.6 1281.1L253.8 1284.7L241.6 1288.3L228.4 1288.3Z" fill="url(#gb)"/>
<path d="M154.7 1055.5L164.9 1051.3L175.8 1051.3L186 1055.5L175.8 1059.7L164.9 1059.7Z" fill="url(#gb)"/>
<path d="M644.4 1253.4L662.2 1251L681.3 1251L699.1 1253.4L681.3 1255.8L662.2 1255.8Z" fill="url(#gb)"/>
<path d="M379.9 1284.7L388.7 1279.8L398.2 1279.8L407 1284.7L398.2 1289.5L388.7 1289.5Z" fill="url(#gb)"/>
<path d="M642 1276.3L655.9 1273.3L670.9 1273.3L684.8 1276.3L670.9 1279.4L655.9 1279.4Z" fill="url(#gb)"/>
<path d="M451.8 1103.4L460.6 1099.2L470.1 1099.2L478.9 1103.4L470.1 1107.7L460.6 1107.7Z" fill="url(#gb)"/>
<path d="M456 1147.1L464.8 1142.9L474.3 1142.9L483.1 1147.1L474.3 1151.3L464.8 1151.3Z" fill="url(#gb)"/>
<path d="M499.2 1145L503 1135.3L507 1135.3L510.7 1145L507 1154.7L503 1154.7Z" fill="url(#gb)"/>
<path d="M123.5 1181.5L132.3 1177.9L141.8 1177.9L150.6 1181.5L141.8 1185.1L132.3 1185.1Z" fill="url(#gb)"/>
<path d="M155.3 1107.6L162.4 1103.4L170 1103.4L177.1 1107.6L170 1111.8L162.4 1111.8Z" fill="url(#gb)"/>
<path d="M740 1228.4L744.4 1221.8L749.2 1221.8L753.6 1228.4L749.2 1235.1L744.4 1235.1Z" fill="url(#gb)"/>
<path d="M538.3 1157.5L545.1 1153.3L552.4 1153.3L559.2 1157.5L552.4 1161.8L545.1 1161.8Z" fill="url(#gb)"/>
<path d="M460.1 1061.8L469 1058.7L478.4 1058.7L487.2 1061.8L478.4 1064.8L469 1064.8Z" fill="url(#gb)"/>
<path d="M150.6 1159.6L159.4 1156.6L168.9 1156.6L177.7 1159.6L168.9 1162.6L159.4 1162.6Z" fill="url(#gb)"/>
<path d="M349.6 1303.4L355.1 1298.6L360.9 1298.6L366.3 1303.4L360.9 1308.3L355.1 1308.3Z" fill="url(#gb)"/>
<path d="M334.5 1308.7L341.6 1305L349.3 1305L356.4 1308.7L349.3 1312.3L341.6 1312.3Z" fill="url(#gb)"/>
<path d="M217.8 1057.6L224.9 1054.6L232.6 1054.6L239.7 1057.6L232.6 1060.6L224.9 1060.6Z" fill="url(#gb)"/>
<path d="M347 1070.1L354.2 1067.1L361.8 1067.1L368.9 1070.1L361.8 1073.1L354.2 1073.1Z" fill="url(#gb)"/>
<path d="M617 1116L624.1 1112.9L631.8 1112.9L638.9 1116L631.8 1119L624.1 1119Z" fill="url(#gb)"/>
<path d="M161.5 1170L168.6 1167L176.3 1167L183.4 1170L176.3 1173.1L168.6 1173.1Z" fill="url(#gb)"/>
<path d="M209.5 1182.5L216.6 1179.5L224.2 1179.5L231.3 1182.5L224.2 1185.6L216.6 1185.6Z" fill="url(#gb)"/>
<path d="M261.6 1210.7L268.7 1207.7L276.3 1207.7L283.5 1210.7L276.3 1213.7L268.7 1213.7Z" fill="url(#gb)"/>
<path d="M238.6 1208.6L245.8 1205.6L253.4 1205.6L260.5 1208.6L253.4 1211.6L245.8 1211.6Z" fill="url(#gb)"/>
<path d="M194.9 1297.2L202 1294.2L209.6 1294.2L216.8 1297.2L209.6 1300.2L202 1300.2Z" fill="url(#gb)"/>
<path d="M317.9 1263.8L325 1260.8L332.6 1260.8L339.7 1263.8L332.6 1266.9L325 1266.9Z" fill="url(#gb)"/>
<path d="M550.3 1191.9L557.4 1188.9L565.1 1188.9L572.2 1191.9L565.1 1194.9L557.4 1194.9Z" fill="url(#gb)"/>
<path d="M427.3 1242L434.4 1238.9L442.1 1238.9L449.2 1242L442.1 1245L434.4 1245Z" fill="url(#gb)"/>
<path d="M111 1242L119.8 1239.5L129.3 1239.5L138.1 1242L129.3 1244.4L119.8 1244.4Z" fill="url(#gb)"/>
<path d="M567.5 1172.1L574.3 1169.1L581.6 1169.1L588.3 1172.1L581.6 1175.1L574.3 1175.1Z" fill="url(#gb)"/>
<path d="M299.6 1161.7L305 1158.1L310.9 1158.1L316.3 1161.7L310.9 1165.3L305 1165.3Z" fill="url(#gb)"/>
<path d="M486.2 1230.5L491.6 1226.9L497.5 1226.9L502.9 1230.5L497.5 1234.1L491.6 1234.1Z" fill="url(#gb)"/>
<path d="M552.9 1275.3L558.3 1271.7L564.2 1271.7L569.6 1275.3L564.2 1278.9L558.3 1278.9Z" fill="url(#gb)"/>
<path d="M162 1251.7L167.5 1248.7L173.3 1248.7L178.7 1251.7L173.3 1254.8L167.5 1254.8Z" fill="url(#gb)"/>
<path d="M616.5 1269.1L625.3 1267.2L634.8 1267.2L643.6 1269.1L634.8 1270.9L625.3 1270.9Z" fill="url(#gb)"/>
<path d="M486.7 1182.5L491.8 1179.5L497.3 1179.5L502.4 1182.5L497.3 1185.6L491.8 1185.6Z" fill="url(#gb)"/>
<path d="M432 1290.9L437.4 1289.1L443.3 1289.1L448.7 1290.9L443.3 1292.8L437.4 1292.8Z" fill="url(#gb)"/>
<path d="M465.4 1124.2L470.8 1122.4L476.6 1122.4L482 1124.2L476.6 1126L470.8 1126Z" fill="url(#gb)"/>
<path d="M669.1 1014.9L673.5 1012.7L678.3 1012.7L682.7 1014.9L678.3 1017L673.5 1017Z" fill="url(#gb)"/>
<path d="M233.1 972.1L236.5 970L240.2 970L243.5 972.1L240.2 974.2L236.5 974.2Z" fill="url(#gb)"/>
<path d="M718.1 1006.5L721.8 1004.7L725.9 1004.7L729.6 1006.5L725.9 1008.3L721.8 1008.3Z" fill="url(#gb)"/>
<path d="M270.2 983.6L274.4 982.1L279 982.1L283.2 983.6L279 985.1L274.4 985.1Z" fill="url(#gb)"/>
<path d="M584.7 1007.6L588.4 1006L592.4 1006L596.2 1007.6L592.4 1009.1L588.4 1009.1Z" fill="url(#gb)"/>
<path d="M483.6 1261.8L485.3 1258.7L487.1 1258.7L488.8 1261.8L487.1 1264.8L485.3 1264.8Z" fill="url(#gb)"/>
<path d="M135.2 1133.6L158.1 1129.3L182.7 1129.3L205.5 1133.6L182.7 1137.8L158.1 1137.8Z" fill="url(#gp)"/>
<path d="M174.3 1049.2L185.3 1042L197.1 1042L208.2 1049.2L197.1 1056.5L185.3 1056.5Z" fill="url(#gp)"/>
<path d="M193.6 1093L202.9 1085.8L212.9 1085.8L222.2 1093L212.9 1100.3L202.9 1100.3Z" fill="url(#gp)"/>
<path d="M128.2 1263.8L142 1259L157 1259L170.9 1263.8L157 1268.7L142 1268.7Z" fill="url(#gp)"/>
<path d="M149.8 1080.5L159.1 1074.5L169.1 1074.5L178.4 1080.5L169.1 1086.6L159.1 1086.6Z" fill="url(#gp)"/>
<path d="M198 1250.9L208.5 1246.1L219.8 1246.1L230.3 1250.9L219.8 1255.8L208.5 1255.8Z" fill="url(#gp)"/>
<path d="M665 1292L678.8 1288.4L693.8 1288.4L707.7 1292L693.8 1295.6L678.8 1295.6Z" fill="url(#gp)"/>
<path d="M152.9 1140.8L165.6 1137.2L179.3 1137.2L192 1140.8L179.3 1144.5L165.6 1144.5Z" fill="url(#gp)"/>
<path d="M682.7 1186.7L693.2 1182.5L704.5 1182.5L715 1186.7L704.5 1190.9L693.2 1190.9Z" fill="url(#gp)"/>
<path d="M138.1 1219L146.9 1214.2L156.4 1214.2L165.2 1219L156.4 1223.9L146.9 1223.9Z" fill="url(#gp)"/>
<path d="M281.9 1277.4L290.7 1272.6L300.2 1272.6L309 1277.4L300.2 1282.2L290.7 1282.2Z" fill="url(#gp)"/>
<path d="M118.3 1069.1L126.4 1064.2L135.1 1064.2L143.3 1069.1L135.1 1073.9L126.4 1073.9Z" fill="url(#gp)"/>
<path d="M598.8 1245.1L606.9 1240.2L615.7 1240.2L623.8 1245.1L615.7 1249.9L606.9 1249.9Z" fill="url(#gp)"/>
<path d="M229.3 1262.8L239.8 1259.2L251.1 1259.2L261.6 1262.8L251.1 1266.4L239.8 1266.4Z" fill="url(#gp)"/>
<path d="M684.8 1153.4L695.3 1149.7L706.6 1149.7L717.1 1153.4L706.6 1157L695.3 1157Z" fill="url(#gp)"/>
<path d="M605.5 1257.2L616 1253.5L627.4 1253.5L637.9 1257.2L627.4 1260.8L616 1260.8Z" fill="url(#gp)"/>
<path d="M359 1236.7L367.8 1232.5L377.3 1232.5L386.1 1236.7L377.3 1241L367.8 1241Z" fill="url(#gp)"/>
<path d="M244.9 1283.6L252 1278.8L259.7 1278.8L266.8 1283.6L259.7 1288.5L252 1288.5Z" fill="url(#gp)"/>
<path d="M379.9 1099.3L388.7 1095.7L398.2 1095.7L407 1099.3L398.2 1102.9L388.7 1102.9Z" fill="url(#gp)"/>
<path d="M426.8 1086.8L435.6 1083.1L445.1 1083.1L453.9 1086.8L445.1 1090.4L435.6 1090.4Z" fill="url(#gp)"/>
<path d="M369.5 1298.2L378.3 1294.6L387.7 1294.6L396.6 1298.2L387.7 1301.9L378.3 1301.9Z" fill="url(#gp)"/>
<path d="M714.5 1310.7L723.3 1307.1L732.8 1307.1L741.6 1310.7L732.8 1314.4L723.3 1314.4Z" fill="url(#gp)"/>
<path d="M109.4 1020.1L116.5 1016.4L124.2 1016.4L131.3 1020.1L124.2 1023.7L116.5 1023.7Z" fill="url(#gp)"/>
<path d="M448.2 1109.7L455.3 1106.1L462.9 1106.1L470 1109.7L462.9 1113.3L455.3 1113.3Z" fill="url(#gp)"/>
<path d="M263.7 1158.6L270.8 1154.9L278.4 1154.9L285.5 1158.6L278.4 1162.2L270.8 1162.2Z" fill="url(#gp)"/>
<path d="M348.6 1154.4L354.7 1150.2L361.3 1150.2L367.4 1154.4L361.3 1158.6L354.7 1158.6Z" fill="url(#gp)"/>
<path d="M456 1299.3L462.1 1295L468.6 1295L474.7 1299.3L468.6 1303.5L462.1 1303.5Z" fill="url(#gp)"/>
<path d="M142.7 1313.9L149.9 1310.8L157.5 1310.8L164.6 1313.9L157.5 1316.9L149.9 1316.9Z" fill="url(#gp)"/>
<path d="M639.9 1132.5L647.1 1129.5L654.7 1129.5L661.8 1132.5L654.7 1135.5L647.1 1135.5Z" fill="url(#gp)"/>
<path d="M249.8 991.9L259.2 989.8L269.2 989.8L278.5 991.9L269.2 994L259.2 994Z" fill="url(#gp)"/>
<path d="M317.9 1123.1L322.3 1119.2L327 1119.2L331.4 1123.1L327 1127.1L322.3 1127.1Z" fill="url(#gp)"/>
<path d="M271 1136.7L274 1131.2L277.3 1131.2L280.3 1136.7L277.3 1142.1L274 1142.1Z" fill="url(#gp)"/>
<path d="M412.2 1303.4L417.6 1300.4L423.4 1300.4L428.9 1303.4L423.4 1306.5L417.6 1306.5Z" fill="url(#gp)"/>
<path d="M527.9 1129.4L530.6 1123.3L533.5 1123.3L536.2 1129.4L533.5 1135.4L530.6 1135.4Z" fill="url(#gp)"/>
<path d="M640.5 1226.3L645.9 1223.9L651.7 1223.9L657.1 1226.3L651.7 1228.7L645.9 1228.7Z" fill="url(#gp)"/>
<path d="M596.2 1015.5L600.6 1012.8L605.3 1012.8L609.7 1015.5L605.3 1018.2L600.6 1018.2Z" fill="url(#gp)"/>
<path d="M366.8 1218L370.6 1215L374.6 1215L378.3 1218L374.6 1221L370.6 1221Z" fill="url(#gp)"/>
<path d="M585.7 1080.5L590.1 1076.9L594.9 1076.9L599.3 1080.5L594.9 1084.1L590.1 1084.1Z" fill="url(#gy)"/>
<path d="M551.9 1074.3L553.9 1066.7L556.1 1066.7L558.1 1074.3L556.1 1081.8L553.9 1081.8Z" fill="url(#gy)"/>
<path d="M533.1 1084.7L535.1 1078.6L537.3 1078.6L539.4 1084.7L537.3 1090.7L535.1 1090.7Z" fill="url(#gy)"/>
</g>
<path d="M114.9 947.1L130.4 946.1L131.4 946.1L150 948L151 948.1L169.8 957.1L170.8 957.5L189.5 947.6L190.4 947.1L206.5 952L207.5 952.3L222.1 955.2L223.1 955.4L237.4 947.6L238.3 947.1L254.4 950L255.4 950.2L274.3 943.3L275.2 942.9L291.7 941.9L292.7 941.9L308.2 943.3L309.2 943.3L323.8 946.5L324.8 946.7L341.4 942.7L342.4 942.5L356.4 947.8L357.4 948.1L371.6 951.1L372.6 951.3L383.9 947.4L384.9 947.1L396.2 950.9L397.2 951.3L407.4 954.1L408.4 954.4L411.5 954.1M451.8 952.9L461.4 954.3L462.4 954.4L474.6 954.4L475.6 954.4L485.5 949.6L486.4 949.2L494.7 947.3L495.8 947.1L501.9 944.4L502.9 944L507.9 946.6L508.9 947.1L516.2 946.2L517.3 946.1L520.9 942.6L521.6 941.9L524.6 950.2L525 951.3L529.1 949.6L530.2 949.2L535.9 952.8L536.9 953.4L542.2 954.2L543.3 954.4L547.7 951.8L548.5 951.3L553.9 952.1L555 952.3L562.6 955.1L563.5 955.4L571 951.7L571.9 951.3L580.1 956.5L581.1 957.1L589.6 954.7L590.6 954.4L602.1 951.5L603.1 951.3L616.5 951.7L617.5 951.7L625.2 956.9L626.1 957.5L649.9 957.1L650.9 957.1L677 955.9L678 955.9M717.7 950.6L718.7 950.4L719.7 950.2L733.2 952.2L734.3 952.3L748 951.3L749.1 951.3M114.9 953.4L131.4 950.9L151 953.8L170.8 959.2L190.4 952.9L207.5 957.1L223.1 960L238.3 951.7L255.4 957.1L275.2 945L292.7 944L309.2 946.1L324.8 950.2L342.4 945L357.4 953.4L372.6 957.1L384.9 951.3L397.2 953.8L408.4 957.1L420.7 958.6L433.9 958.6L447.4 957.9L462.4 959.2L475.6 958.6L486.4 954.4L495.8 953.8L502.9 951.3L508.9 954.4L517.3 953.4L521.6 947.1L525 953.4L530.2 952.3L536.9 955.4L543.3 957.1L548.5 953.4L555 954.4L563.5 959.2L571.9 952.3L581.1 958.6L590.6 957.5L603.1 955.4L626.1 959.2L650.9 960L675.7 958.6L701.5 956.5L726.1 954.4L749.1 954.4M114.9 968.4L127.3 967.7M167.3 967L168.3 966.9L169.3 966.9L189.4 964.9L190.4 964.8L206.5 969.7L207.5 970L222.1 972.4L223.1 972.5L237.3 968.3L238.3 967.9L254.4 965L255.4 964.8L274.3 953.9L275.2 953.4L291.7 951L292.7 950.9L308.2 956.2L309.2 956.5L323.9 963.7L324.8 964.2L341.4 956.9L342.4 956.5L356.4 962.3L357.4 962.7L371.6 964.7L372.6 964.8L383.9 962.9L384.9 962.7L396.2 964.1L397.2 964.2L407.4 964.8L408.4 964.8L410.5 965.5M449.7 970.9L451.8 971L452.8 971.1L461.4 968.7L462.4 968.4L474.6 973.8L475.6 974.2L485.5 968.8L486.4 968.4L494.9 971.7L495.8 972.1L501.9 969.4L502.9 969L507.9 970.7L508.9 971.1L516.2 968.3L517.3 967.9L521.2 959.5L521.6 958.6L524.1 960.9L525 961.7L529.1 960L530.2 959.6L536 964.2L536.9 964.8L542.4 968.4L543.3 969L547.9 963.5L548.5 962.7L553.9 962.7L555 962.7L562.8 969.4L563.5 970L571.1 963.4L571.9 962.7L580.3 972.4L581.1 973.2L589.8 967.5L590.6 966.9L602.2 970.8L603.1 971.1L625 970.1L626.1 970L649.9 973L650.9 973.2L657.1 973.7L658.2 973.8L659.2 973.6M698.9 964.7L699.9 964.4L700.9 964.2L725.1 964.2L726.1 964.2L733.3 962L734.3 961.7L748.1 957.4L749.1 957.1M114.9 991.9L131.4 982.1L151 979.4L170.8 978.4L190.4 982.1L207.5 991.9L223.1 1000.3L238.3 988.8L255.4 979.4L275.2 964.2L292.7 962.7L309.2 972.1L324.8 979.4L342.4 971.1L357.4 982.5L372.6 990.5L384.9 983.6L397.2 982.1L408.4 984.6L420.7 988.4L433.9 986.7L447.4 991.9L462.4 986.7L475.6 995L486.4 985.7L495.8 987.8L502.9 986.7L513.3 988.4L517.3 978.4L521.6 972.1L525 979.4L530.2 976.3L536.9 982.5L543.3 983.6L548.5 987.8L555 979.4L563.5 983.6L571.9 985.7L581.1 987.1L590.6 981.5L603.1 986.7L626.1 986.7L650.9 988.8L661.3 983.6L675.7 980.5L701.5 979.4L726.1 979.4L736.4 975.2L749.1 970M114.9 1022.1L125.7 1016.4M164.1 1003.4L170 998.3L170.8 997.5L178 1004.7L178.7 1005.5L189.5 1013.2L190.4 1013.8L206.5 1019.7L207.5 1020.1L222.1 1023L223.1 1023.2L237.3 1022.2L238.3 1022.1L254.5 1015.3L255.4 1014.9L274.4 999.8L275.2 999.2L291.8 992.3L292.7 991.9L308.3 999.8L309.2 1000.3L323.8 999.3L324.8 999.2L341.3 998.2L342.4 998.2L356.6 1012L357.4 1012.8L371.7 1020.6L372.6 1021.1L380.1 1015.5L380.9 1014.9L384 1015M423.8 1017.7L425.8 1017.9L426.8 1018L433 1021.6L433.9 1022.1L446.4 1022.1L447.4 1022.1L461.4 1025.1L462.4 1025.3L474.6 1026.2L475.6 1026.3L485.6 1018.2L486.4 1017.6L494.7 1016.1L495.8 1015.9L501.9 1017.7L502.9 1018L508.4 1009.4L508.9 1008.6L513 1021.2L513.3 1022.1L516.9 1013.7L517.3 1012.8L521.4 998.1L521.6 997.1L524.7 1010.7L525 1011.7L529.4 1007.3L530.2 1006.5L536 1011.1L536.9 1011.7L542.2 1012.6L543.3 1012.8L554.1 1007L555 1006.5L562.8 1013.1L563.5 1013.8L571 1017.5L571.9 1018L580.2 1012.3L581.1 1011.7L589.6 1010.8L590.6 1010.7L608.2 1010.7L609.2 1010.7L612.2 1011.4M652 1019.9L653 1020.1L674.7 1012.1L675.7 1011.7L687.5 1004.9L688.4 1004.4L700.6 999.6L701.5 999.2L718.7 1004.1L719.7 1004.4L725.2 1007.1L726.1 1007.6L735.4 1003.8L736.4 1003.4L748 1001.5L749.1 1001.3M114.9 1027.4L131.4 1022.1L151 1018L164.1 1009.6L170.8 1004.4L180.8 1013.8L190.4 1022.1L207.5 1030.5L223.1 1036.7L238.3 1033.6L255.4 1024.2L275.2 1008.6L292.7 1003L309.2 1011.7L324.8 1011.7L342.4 1010.7L357.4 1026.3L372.6 1033.6L384.9 1026.3L397.2 1028.4L408.4 1030.5L420.7 1031.5L433.9 1032.6L447.4 1031.5L462.4 1034.7L475.6 1034.7L486.4 1028.4L495.8 1024.2L502.9 1029.4L508.9 1020.1L513.3 1036.7L517.3 1024.2L521.6 1003.4L525 1024.2L530.2 1018L536.9 1023.2L543.3 1026.3L548.5 1018L555 1022.1L563.5 1026.3L571.9 1031.5L581.1 1027.4L590.6 1022.1L603.1 1020.1L626.1 1023.2L642.5 1028.4L650.9 1031.5L675.7 1020.1L701.5 1009.6L726.1 1022.1L749.1 1013.8M114.9 1033.6L129.8 1028.7L130.8 1028.4L133.8 1028.9M196.4 1042.4L206.6 1049.7L207.5 1050.3L222.1 1054.2L223.1 1054.5L237.3 1055.4L238.3 1055.5L244.4 1053.7L245.4 1053.4L254.5 1047.7L255.4 1047.2L274.4 1033.2L275.2 1032.6L291.8 1026.7L292.7 1026.3L299 1034.8L299.6 1035.7L308.1 1036.6L309.2 1036.7L323.8 1033.8L324.8 1033.6L341.3 1033.6L342.4 1033.6L356.5 1044.4L357.4 1045.1L371.6 1046.6L372.6 1046.7L383.9 1041.4M447.7 1045.9L449.7 1046.1L450.8 1046.1L461.5 1051.9L462.4 1052.4L474.6 1050.5L475.6 1050.3L485.5 1045.5L486.4 1045.1L494.7 1044.2L495.8 1044L501.9 1046.7L502.9 1047.2L508.2 1041.7L508.9 1040.9L513 1054.5L513.3 1055.5L517 1044L517.3 1043L521.3 1029.4L521.6 1028.4L524.8 1044.1L525 1045.1L529.3 1041.6L530.2 1040.9L536.1 1046.5L536.9 1047.2L542.2 1048L543.3 1048.2L548 1040.8L548.5 1039.9L554.5 1049.4L555 1050.3L562.6 1047.5L563.5 1047.2L571 1050.9L571.9 1051.3L580 1050.4L581.1 1050.3L589.8 1043.6L590.6 1043L593.7 1042.9M657.3 1041L660.3 1040.9L661.3 1040.9L674.7 1039L675.7 1038.8L700.6 1026.8L701.5 1026.3L725.2 1032.3L726.1 1032.6L748.1 1026.6L749.1 1026.3M114.9 1070.1L131.4 1063.8L151 1057.6L164.1 1043L170.8 1037.8L178.7 1049.2L183.9 1061.8L190.4 1072.2L207.5 1074.3L223.1 1073.8L238.3 1086.8L255.4 1095.1L266.3 1107.6L275.2 1124.1L280.9 1119.9L292.7 1097.2L309.2 1084.7L324.8 1075.3L342.4 1073.2L357.4 1073.2L372.6 1063.8L384.9 1057.6L397.2 1050.3L408.4 1059.7L420.7 1062.8L433.9 1062.8L447.4 1065.9L462.4 1076.3L475.6 1078.4L486.4 1080.5L495.8 1084.7L502.9 1093L508.9 1097.2L513.3 1105.5L521.6 1106.6L525 1109.7L530.2 1103.4L536.9 1097.2L543.3 1102.4L548.5 1111.8L555 1096.2L563.5 1101.4L571.9 1104.5L581.1 1099.3L590.6 1101.4L603.1 1105.5L626.1 1101.4L640.5 1090.9L650.9 1082.6L661.3 1072.2L675.7 1063.8L688.4 1073.2L701.5 1082.6L713.4 1078.4L726.1 1072.2L736.4 1065.9L749.1 1061.8M114.9 1097.2L130.4 1102.7L131.4 1103L135.8 1100.7M185.5 1091.7L189.4 1092.8L190.4 1093L196.8 1100.5L197.5 1101.4L206.6 1106.1L207.5 1106.6L222.1 1104L223.1 1103.9L226.2 1110.8L226.7 1111.8L237.5 1119.3L238.3 1119.9L254.6 1131.9L255.4 1132.5L265.7 1146.3L266.3 1147.1L274.6 1158.8L275.2 1159.6L284.4 1147.9L285 1147.1L291.9 1141.5L292.7 1140.8L308.3 1133L309.2 1132.5L319.8 1120.8L320.5 1120L341.4 1112.1L342.4 1111.8L344.2 1110.9M404.5 1088.7L407.6 1091.3L408.4 1092L419.7 1091L420.7 1090.9L432.9 1091.9L433.9 1092L446.5 1097.8L447.4 1098.2L461.4 1103.1L462.4 1103.4L474.6 1107.3L475.6 1107.6L485.5 1112.4L486.4 1112.8L497.8 1119.4L498.7 1119.9L502.5 1128.4L502.9 1129.4L507.9 1128.5L508.9 1128.3L512.9 1136.8L513.3 1137.7L516.8 1145.1L517.3 1146.1L523.9 1147L525 1147.1L529.8 1159.7L530.2 1160.7L533.8 1150.1L534.1 1149.2L536.4 1144L536.9 1142.9L542.2 1142.1L543.3 1141.9L547.8 1146.4L548.5 1147.1L553.9 1148L555 1148.1L564.4 1145.3L565.4 1145M629.8 1141.2L639.6 1133.2L640.5 1132.5L650.1 1123.8L650.9 1123.1L660.4 1118.5L661.3 1118L674.8 1109.2L675.7 1108.7L687.6 1117.4L688.4 1118L700.7 1127.7L701.5 1128.3L716.6 1123.5L717.6 1123.1L733.4 1114.4L734.3 1113.9L748.3 1100L749.1 1099.3M114.9 1124.2L131.4 1132.5L145.4 1124.2L162 1103.4L170.8 1101.4L180.8 1109.7L195.4 1120L207.5 1131.5L223.1 1138.8L238.3 1145L255.4 1156.5L266.3 1170L275.2 1179.4L285 1173.2L292.7 1165.9L309.2 1164.8L324.8 1142.9L342.4 1137.7L357.4 1132.5L368.4 1120L384.9 1106.6L397.2 1111.8L408.4 1117L433.9 1125.2L447.4 1129.4L462.4 1133.6L475.6 1136.7L486.4 1138.8L495.8 1139.8L498.7 1149.2L502.9 1155.4L508.9 1163.8L517.3 1170L521.6 1169L526.9 1181.5L530.2 1182.5L536.9 1171.1L540.4 1164.8L543.3 1167.9L548.5 1175.2L555 1173.2L563.5 1170L571.9 1176.3L581.1 1176.3L586.3 1165.9L591.3 1157.5L596.7 1163.8L603.1 1171.1L613.4 1169L626.1 1164.8L640.5 1155.4L650.9 1146.1L661.3 1140.8L675.7 1139.2L688.4 1145L701.5 1148.8L713.4 1146.1L726.1 1141.9L736.4 1137.7L749.1 1132.5M114.9 1147.1L130.4 1152.6L131.4 1152.9L136.5 1151.9M195.9 1143.1L199 1148.3L199.6 1149.2L206.5 1152.8L207.5 1153.4L222.1 1157.3L223.1 1157.5L237.6 1170.4L238.3 1171.1L254.6 1184L255.4 1184.6L265.4 1192.3L266.3 1193L274.3 1198.2L275.2 1198.8L291.9 1187.3L292.7 1186.7L308.2 1187.1L309.2 1187.1L324.3 1165.6L324.8 1164.8L341.4 1158.9L342.4 1158.6L356.4 1155.6L357.4 1155.4L365 1152.5M428.6 1146.1L433 1148.7L433.9 1149.2L446.4 1151.1L447.4 1151.3L461.5 1158.1L462.4 1158.6L474.6 1160.5L475.6 1160.7L485.4 1164.4L486.4 1164.8L494.9 1169.5L495.8 1170L502.3 1179.6L502.9 1180.5L508.2 1185.9L508.9 1186.7L516.5 1194.3L517.3 1195L519.1 1199.2L519.6 1200.3L524.1 1197.7L525 1197.1L529.3 1200.6L530.2 1201.3L536.3 1192.8L536.9 1191.9L542.2 1191.1L543.3 1190.9L547.9 1197.3L548.5 1198.2L553.9 1199L555 1199.2L562.6 1196.4L563.5 1196.1L571 1201.7L571.9 1202.3L580 1203.3L581.1 1203.4L587.7 1193.8L588.3 1193L590.3 1192.5M651.8 1174.2L660.4 1170.4L661.3 1170L674.8 1163.2L675.7 1162.7L687.5 1168.5L688.4 1169L700.5 1172.8L701.5 1173.2L712.4 1169.3L713.4 1169L725.2 1163.2L726.1 1162.7L735.3 1159.9L736.4 1159.6L748.1 1155.8L749.1 1155.4M114.9 1170L131.4 1170L151 1173.2L155.8 1161.7L164.1 1152.3L170.8 1150.9L190.4 1155.4L199.6 1169L207.5 1175.2L223.1 1182.5L238.3 1190.9L255.4 1203.4L266.3 1211.7L275.2 1216.9L285 1211.7L292.7 1206.5L309.2 1205.1L324.8 1191.9L342.4 1184.6L357.4 1173.2L372.6 1157.5L384.9 1160.7L397.2 1157.1L408.4 1161.7L420.7 1164.8L433.9 1169L447.4 1172.1L462.4 1178.4L475.6 1179.4L486.4 1187.8L495.8 1193L502.9 1200.3L508.9 1204.4L513.3 1207.6L517.3 1215.9L521.6 1220.1L526.9 1218L530.2 1226.3L534.1 1215.9L536.9 1209.6L543.3 1210.7L548.5 1218L555 1221.1L563.5 1222.1L571.9 1226.3L581.1 1225.3L588.3 1215.9L591.3 1211.7L596.7 1218L603.1 1225.3L613.4 1213.8L626.1 1200.3L640.5 1199.2L650.9 1197.1L661.3 1191.9L675.7 1186.7L688.4 1189.8L701.5 1191.9L713.4 1186.7L726.1 1181.5L736.4 1177.3L749.1 1172.1M114.9 1193L130.4 1191L131.4 1190.9L133.6 1191.2M192.6 1183.1L198.9 1190.1L199.6 1190.9L206.7 1197.4L207.5 1198.2L222.2 1207L223.1 1207.6L237.3 1211.4L238.3 1211.7L254.6 1223.6L255.4 1224.2L265.4 1231L266.3 1231.5L274.3 1237.2L275.2 1237.8L284.2 1231.1L285 1230.5L291.9 1224.9L292.7 1224.2L308.2 1222.3L309.2 1222.1L324 1212.3L324.8 1211.7L341.4 1204.8L342.4 1204.4L357.2 1193.6L358 1193L359 1192.8M422.6 1190L432.8 1190.8L433.9 1190.9L446.4 1193.8L447.4 1194L461.4 1197.9L462.4 1198.2L474.6 1200.1L475.6 1200.3L485.4 1203.1L486.4 1203.4L495 1211L495.8 1211.7L502.2 1219.2L502.9 1220.1L508.1 1223.6L508.9 1224.2L512.8 1231.6L513.3 1232.6L516.9 1242L517.3 1243L520.8 1240.5L521.6 1239.9L526.2 1234.4L526.9 1233.6L530 1252.4L530.2 1253.4L533.8 1243.9L534.1 1243L536.4 1237.8L536.9 1236.7L542.4 1239.4L543.3 1239.9L547.8 1244.3L548.5 1245.1L554.1 1248.7L555 1249.2L562.6 1245.5L563.5 1245.1L570.8 1247.8L571.9 1248.2L576 1247.7M634 1225.5L649.9 1218.4L650.9 1218L660.4 1214.2L661.3 1213.8L674.7 1210.9L675.7 1210.7L687.4 1211.6L688.4 1211.7L700.5 1212.7L701.5 1212.8L712.4 1208L713.4 1207.6L725.2 1201.7L726.1 1201.3L735.4 1197.5L736.4 1197.1L748.1 1192.3L749.1 1191.9M114.9 1212.8L131.4 1205.5L151 1212.8L162 1201.3L170.8 1194L180.8 1203.4L190.4 1209.6L207.5 1216.9L223.1 1226.3L232.9 1224.2L238.3 1228.4L255.4 1246.1L266.3 1251.3L275.2 1256.5L285 1249.2L292.7 1245.1L309.2 1240.9L324.8 1228.4L342.4 1220.1L357.4 1211.7L372.6 1204.4L380.9 1212.8L384.9 1217.6L391.3 1203.4L397.2 1198.2L403.8 1205.5L408.4 1214.9L420.7 1212.8L433.9 1213.8L447.4 1222.1L462.4 1224.2L475.6 1221.1L486.4 1231.5L495.8 1234.7L502.9 1236.7L508.9 1245.1L513.3 1255.5L517.3 1267L521.6 1263.8L526.9 1257.6L530.2 1277.4L534.1 1265.9L536.9 1261.8L543.3 1258.6L548.5 1265.9L555 1273.2L563.5 1263.8L571.9 1272.2L581.1 1270.1L591.3 1260.7L596.7 1265.9L603.1 1274.3L613.4 1278.4L626.1 1280.5L632.1 1270.1L640.5 1253.4L650.9 1243L661.3 1238.8L675.7 1235.7L688.4 1240.9L701.5 1247.2L713.4 1243L726.1 1233.6L736.4 1224.2L749.1 1215.9M114.9 1227.4L130.4 1227.4L131.4 1227.4L139.2 1229M178.7 1222.1L189.4 1225L190.4 1225.3L206.6 1236.2L207.5 1236.7L215.5 1244.4L216.2 1245.1L222.1 1246.9L223.1 1247.2L231.9 1245.3L232.9 1245.1L237.2 1243.4L238.3 1243L247 1258.8L247.5 1259.7L254.6 1265.3L255.4 1265.9L265.5 1274.6L266.3 1275.3L274.2 1278.1L275.2 1278.4L284.2 1270.8L285 1270.1L291.9 1265.5L292.7 1264.9L308.2 1262L309.2 1261.8L324.1 1247.9L324.8 1247.2L341.4 1243.2L342.4 1243L356.4 1237.1L357.4 1236.7L365.4 1231.1L366.3 1230.5L371.5 1228.7L372.6 1228.4L373.6 1228.5M415.4 1233.4L419.7 1232.7L420.7 1232.6L432.9 1228.7L433.9 1228.4L446.8 1245.3L447.4 1246.1L461.4 1244.2L462.4 1244L474.6 1240.2L475.6 1239.9L485.6 1248.6L486.4 1249.2L494.9 1253L495.8 1253.4L502 1257.1L502.9 1257.6L508.3 1265.1L508.9 1265.9L512.9 1275.4L513.3 1276.3L516.9 1286.9L517.3 1287.8L521 1282.5L521.6 1281.6L526.2 1275.2L526.9 1274.3L530 1292L530.2 1293L536.4 1281.4L536.9 1280.5L542.4 1277.8L543.3 1277.4L547.9 1283.8L548.5 1284.7L554.3 1292.2L555 1293L562.8 1285.4L563.5 1284.7L567.1 1292.1M608.2 1297.2L612.3 1297.2L613.4 1297.2L625.1 1293.3L626.1 1293L639.7 1281.2L640.5 1280.5L650.3 1266.8L650.9 1265.9L660.3 1263.1L661.3 1262.8L674.7 1259.9L675.7 1259.7L687.5 1265.5L688.4 1265.9L700.5 1269.8L701.5 1270.1L712.5 1264.3L713.4 1263.8L725.3 1254.1L726.1 1253.4L735.6 1245.7L736.4 1245.1L748.2 1239.3L749.1 1238.8M114.9 1243L131.4 1245.1L151 1246.1L162 1243L170.8 1240.9L190.4 1244L199.6 1253.4L207.5 1258.6L212.1 1268L223.1 1273.2L238.3 1275.3L247.5 1284.7L255.4 1289.9L266.3 1294.1L275.2 1296.8L285 1293L292.7 1286.8L309.2 1284.7L320.5 1270.1L324.8 1259.7L342.4 1262.8L357.4 1263.8L364.2 1255.5L372.6 1250.3L384.9 1260.7L391.3 1253.4L397.2 1245.1L403.8 1253.4L408.4 1261.8L420.7 1257.6L433.9 1252.4L447.4 1264.9L462.4 1265.9L475.6 1265.9L486.4 1272.2L495.8 1275.3L502.9 1282.6L508.9 1290.9L513.3 1299.3L517.3 1317L521.6 1298.2L526.9 1297.2L530.2 1308.7L536.9 1301.4L543.3 1299.3L548.5 1307.6L555 1311.8L563.5 1307.6L571.9 1313.9L581.1 1313.9L591.3 1306.6L596.7 1310.7L603.1 1317L626.1 1311.8L640.5 1299.3L646.7 1288.9L650.9 1286.8L661.3 1283.6L675.7 1280.5L688.4 1286.8L701.5 1294.1L713.4 1286.8L726.1 1280.5L736.4 1270.1L749.1 1261.8M114.9 1267L130.4 1267.9L131.4 1268L142.3 1272.8L143.3 1273.2L145.3 1273.3M208.7 1282.8L222.1 1288.5L223.1 1288.9L237.4 1293.7L238.3 1294.1L246.8 1302.7L247.5 1303.4L254.6 1309.1L255.4 1309.7L265.3 1313.5L266.3 1313.9L274.2 1315.7L275.2 1316L284 1313.1L285 1312.8L291.8 1310.1L292.7 1309.7L308.2 1305.8L309.2 1305.5L319.7 1295.8L320.5 1295.1L324.1 1291.6L324.8 1290.9L341.4 1284L342.4 1283.6L356.4 1281.7L357.4 1281.6L371.6 1275.7L372.6 1275.3L384.1 1284.1L384.9 1284.7L389.9 1284.1M443.5 1290.3L446.4 1291.1L447.4 1291.4L461.4 1288L462.4 1287.8L474.6 1286.5L475.6 1286.4L485.7 1298.5L486.4 1299.3L495 1306.9L495.8 1307.6L502 1312.2L502.9 1312.8L510.3 1317.5L511.2 1318L639.5 1318L640.5 1318L649.9 1313.3L650.9 1312.8L660.4 1308.1L661.3 1307.6L674.7 1301.8L675.7 1301.4L687.5 1308.1L688.4 1308.7L700.5 1311.5L701.5 1311.8L712.4 1308L713.4 1307.6L725.2 1301.8L726.1 1301.4L735.6 1293.7L736.4 1293L748.3 1283.3L749.1 1282.6M114.9 1293L131.4 1298.2L151 1294.1L170.8 1292L190.4 1291.4L199.6 1301.4L207.5 1307.6L216.2 1317L328.8 1317L342.4 1302.4L351.7 1307.6L357.4 1310.7L372.6 1301.4L380.9 1305.5L384.9 1311.8L391.3 1301.4L397.2 1293L403.8 1301.4L408.4 1306.6L420.7 1297.2L433.9 1301.4L447.4 1317L740.5 1317L749.1 1307.6" fill="none" stroke="#000" stroke-width="1.5" stroke-linejoin="round"/>
<text transform="translate(147.4 967.5) rotate(5)" font-size="28" text-anchor="middle" dy="0.36em" fill="#000">24</text>
<text transform="translate(432.0 953.0) rotate(5)" font-size="28" text-anchor="middle" dy="0.36em" fill="#000">23</text>
<text transform="translate(430.0 971.0) rotate(5)" font-size="28" text-anchor="middle" dy="0.36em" fill="#000">24</text>
<text transform="translate(697.8 951.3) rotate(-5)" font-size="28" text-anchor="middle" dy="0.36em" fill="#000">23</text>
<text transform="translate(679.0 970.4) rotate(-10)" font-size="28" text-anchor="middle" dy="0.36em" fill="#000">24</text>
<text transform="translate(145.4 1014.8) rotate(-10)" font-size="28" text-anchor="middle" dy="0.36em" fill="#000">25</text>
<text transform="translate(165.2 1033.6) rotate(3)" font-size="28" text-anchor="middle" dy="0.36em" fill="#000">25.2</text>
<text transform="translate(403.8 1015.9) rotate(8)" font-size="28" text-anchor="middle" dy="0.36em" fill="#000">25</text>
<text transform="translate(416.0 1044.0) rotate(10)" font-size="28" text-anchor="middle" dy="0.36em" fill="#000">25.2</text>
<text transform="translate(632.0 1016.3) rotate(10)" font-size="28" text-anchor="middle" dy="0.36em" fill="#000">25</text>
<text transform="translate(625.9 1042.0) rotate(0)" font-size="28" text-anchor="middle" dy="0.36em" fill="#000">25.2</text>
<text transform="translate(164.0 1085.7) rotate(-20)" font-size="28" text-anchor="middle" dy="0.36em" fill="#000">25.4</text>
<text transform="translate(373.6 1097.0) rotate(-40)" font-size="28" text-anchor="middle" dy="0.36em" fill="#000">25.4</text>
<text transform="translate(597.7 1144.0) rotate(3)" font-size="28" text-anchor="middle" dy="0.36em" fill="#000">25.4</text>
<text transform="translate(167.2 1141.9) rotate(-25)" font-size="28" text-anchor="middle" dy="0.36em" fill="#000">25.6</text>
<text transform="translate(395.5 1140.8) rotate(-8)" font-size="28" text-anchor="middle" dy="0.36em" fill="#000">25.6</text>
<text transform="translate(621.7 1185.7) rotate(-22)" font-size="28" text-anchor="middle" dy="0.36em" fill="#000">25.6</text>
<text transform="translate(165.2 1182.5) rotate(-28)" font-size="28" text-anchor="middle" dy="0.36em" fill="#000">25.8</text>
<text transform="translate(391.3 1187.7) rotate(3)" font-size="28" text-anchor="middle" dy="0.36em" fill="#000">25.8</text>
<text transform="translate(608.0 1244.0) rotate(-30)" font-size="28" text-anchor="middle" dy="0.36em" fill="#000">25.8</text>
<text transform="translate(160.4 1229.4) rotate(-20)" font-size="28" text-anchor="middle" dy="0.36em" fill="#000">26</text>
<text transform="translate(394.5 1230.5) rotate(-8)" font-size="28" text-anchor="middle" dy="0.36em" fill="#000">26</text>
<text transform="translate(587.3 1293.0) rotate(-10)" font-size="28" text-anchor="middle" dy="0.36em" fill="#000">26</text>
<text transform="translate(177.7 1274.3) rotate(12)" font-size="28" text-anchor="middle" dy="0.36em" fill="#000">26.2</text>
<text transform="translate(412.0 1281.0) rotate(28)" font-size="28" text-anchor="middle" dy="0.36em" fill="#000">26.2</text>
</g>
<rect x="115" y="822.4" width="10.2" height="29.2" fill="#3e26a8"/>
<rect x="124.6" y="822.4" width="10.5" height="29.2" fill="#402ab4"/>
<rect x="134.5" y="822.4" width="10.5" height="29.2" fill="#422ec0"/>
<rect x="144.4" y="822.4" width="10.5" height="29.2" fill="#4332cb"/>
<rect x="154.3" y="822.4" width="10.5" height="29.2" fill="#4537d5"/>
<rect x="164.2" y="822.4" width="10.5" height="29.2" fill="#463cde"/>
<rect x="174.1" y="822.4" width="10.5" height="29.2" fill="#4741e5"/>
<rect x="184" y="822.4" width="10.5" height="29.2" fill="#4747eb"/>
<rect x="193.9" y="822.4" width="10.5" height="29.2" fill="#484df0"/>
<rect x="203.9" y="822.4" width="10.5" height="29.2" fill="#4852f4"/>
<rect x="213.8" y="822.4" width="10.5" height="29.2" fill="#4758f8"/>
<rect x="223.7" y="822.4" width="10.5" height="29.2" fill="#465efb"/>
<rect x="233.6" y="822.4" width="10.5" height="29.2" fill="#4563fd"/>
<rect x="243.5" y="822.4" width="10.5" height="29.2" fill="#4269fe"/>
<rect x="253.4" y="822.4" width="10.5" height="29.2" fill="#3e6fff"/>
<rect x="263.3" y="822.4" width="10.5" height="29.2" fill="#3875fe"/>
<rect x="273.2" y="822.4" width="10.5" height="29.2" fill="#327cfc"/>
<rect x="283.1" y="822.4" width="10.5" height="29.2" fill="#2f81fa"/>
<rect x="293" y="822.4" width="10.5" height="29.2" fill="#2e87f7"/>
<rect x="302.9" y="822.4" width="10.5" height="29.2" fill="#2d8cf3"/>
<rect x="312.8" y="822.4" width="10.5" height="29.2" fill="#2b91ef"/>
<rect x="322.7" y="822.4" width="10.5" height="29.2" fill="#2797eb"/>
<rect x="332.6" y="822.4" width="10.5" height="29.2" fill="#259be8"/>
<rect x="342.5" y="822.4" width="10.5" height="29.2" fill="#23a0e5"/>
<rect x="352.4" y="822.4" width="10.5" height="29.2" fill="#20a5e3"/>
<rect x="362.4" y="822.4" width="10.5" height="29.2" fill="#1ca9df"/>
<rect x="372.3" y="822.4" width="10.5" height="29.2" fill="#18addb"/>
<rect x="382.2" y="822.4" width="10.5" height="29.2" fill="#12b1d6"/>
<rect x="392.1" y="822.4" width="10.5" height="29.2" fill="#08b5d0"/>
<rect x="402" y="822.4" width="10.5" height="29.2" fill="#01b8ca"/>
<rect x="411.9" y="822.4" width="10.5" height="29.2" fill="#02bac3"/>
<rect x="421.8" y="822.4" width="10.5" height="29.2" fill="#0bbdbd"/>
<rect x="431.7" y="822.4" width="10.5" height="29.2" fill="#19bfb6"/>
<rect x="441.6" y="822.4" width="10.5" height="29.2" fill="#24c1ae"/>
<rect x="451.5" y="822.4" width="10.5" height="29.2" fill="#2cc4a7"/>
<rect x="461.4" y="822.4" width="10.5" height="29.2" fill="#31c69f"/>
<rect x="471.3" y="822.4" width="10.5" height="29.2" fill="#37c897"/>
<rect x="481.2" y="822.4" width="10.5" height="29.2" fill="#3fca8e"/>
<rect x="491.1" y="822.4" width="10.5" height="29.2" fill="#4acb84"/>
<rect x="501" y="822.4" width="10.5" height="29.2" fill="#57cc7a"/>
<rect x="510.9" y="822.4" width="10.5" height="29.2" fill="#64cd6f"/>
<rect x="520.9" y="822.4" width="10.5" height="29.2" fill="#72cd64"/>
<rect x="530.8" y="822.4" width="10.5" height="29.2" fill="#81cc59"/>
<rect x="540.7" y="822.4" width="10.5" height="29.2" fill="#8fcb4e"/>
<rect x="550.6" y="822.4" width="10.5" height="29.2" fill="#9dc943"/>
<rect x="560.5" y="822.4" width="10.5" height="29.2" fill="#abc739"/>
<rect x="570.4" y="822.4" width="10.5" height="29.2" fill="#b9c431"/>
<rect x="580.3" y="822.4" width="10.5" height="29.2" fill="#c5c22a"/>
<rect x="590.2" y="822.4" width="10.5" height="29.2" fill="#d1bf27"/>
<rect x="600.1" y="822.4" width="10.5" height="29.2" fill="#dcbd29"/>
<rect x="610" y="822.4" width="10.5" height="29.2" fill="#e6bb2d"/>
<rect x="619.9" y="822.4" width="10.5" height="29.2" fill="#f0ba36"/>
<rect x="629.8" y="822.4" width="10.5" height="29.2" fill="#f8ba3d"/>
<rect x="639.7" y="822.4" width="10.5" height="29.2" fill="#febe3c"/>
<rect x="649.6" y="822.4" width="10.5" height="29.2" fill="#fec338"/>
<rect x="659.5" y="822.4" width="10.5" height="29.2" fill="#fec934"/>
<rect x="669.5" y="822.4" width="10.5" height="29.2" fill="#fccf30"/>
<rect x="679.4" y="822.4" width="10.5" height="29.2" fill="#fad62d"/>
<rect x="689.3" y="822.4" width="10.5" height="29.2" fill="#f7dc2a"/>
<rect x="699.2" y="822.4" width="10.5" height="29.2" fill="#f5e327"/>
<rect x="709.1" y="822.4" width="10.5" height="29.2" fill="#f5e924"/>
<rect x="719" y="822.4" width="10.5" height="29.2" fill="#f6ef20"/>
<rect x="728.9" y="822.4" width="10.5" height="29.2" fill="#f7f51b"/>
<rect x="738.8" y="822.4" width="10.5" height="29.2" fill="#f9fb15"/>
<rect x="115" y="822.4" width="634" height="29.2" fill="none" stroke="#262626" stroke-width="1.7"/>
<text x="115" y="804.2" font-size="27.7" text-anchor="middle" fill="#262626">0</text>
<line x1="326.3" y1="822.4" x2="326.3" y2="829.2" stroke="#262626" stroke-width="1.7"/>
<text x="326.3" y="804.2" font-size="27.7" text-anchor="middle" fill="#262626">0.5</text>
<line x1="537.7" y1="822.4" x2="537.7" y2="829.2" stroke="#262626" stroke-width="1.7"/>
<text x="537.7" y="804.2" font-size="27.7" text-anchor="middle" fill="#262626">1</text>
<text x="749" y="804.2" font-size="27.7" text-anchor="middle" fill="#262626">1.5</text>
<text x="432" y="761" font-size="27.7" text-anchor="middle" fill="#000">PV(10<tspan font-size="23.27" dy="-12.5">-10</tspan><tspan dy="12.5">m</tspan><tspan font-size="23.27" dy="-12.5">-1</tspan><tspan dy="12.5">s</tspan><tspan font-size="23.27" dy="-12.5">-1</tspan><tspan dy="12.5">)</tspan></text>
<path d="M115 925.1L115 1316.2L749 1316.2L749 925.1Z" fill="none" stroke="#262626" stroke-width="1.8"/>
<line x1="115" y1="1316.2" x2="115" y2="1329.6" stroke="#262626" stroke-width="1.8"/>
<text x="115" y="1370.4" font-size="27.7" text-anchor="middle" fill="#262626">0</text>
<line x1="255.9" y1="1316.2" x2="255.9" y2="1329.6" stroke="#262626" stroke-width="1.8"/>
<text x="255.9" y="1370.4" font-size="27.7" text-anchor="middle" fill="#262626">200</text>
<line x1="396.8" y1="1316.2" x2="396.8" y2="1329.6" stroke="#262626" stroke-width="1.8"/>
<text x="396.8" y="1370.4" font-size="27.7" text-anchor="middle" fill="#262626">400</text>
<line x1="537.7" y1="1316.2" x2="537.7" y2="1329.6" stroke="#262626" stroke-width="1.8"/>
<text x="537.7" y="1370.4" font-size="27.7" text-anchor="middle" fill="#262626">600</text>
<line x1="678.6" y1="1316.2" x2="678.6" y2="1329.6" stroke="#262626" stroke-width="1.8"/>
<text x="678.6" y="1370.4" font-size="27.7" text-anchor="middle" fill="#262626">800</text>
<line x1="101.6" y1="925.1" x2="115" y2="925.1" stroke="#262626" stroke-width="1.8"/>
<text x="87.8" y="935.9" font-size="27.7" text-anchor="end" fill="#262626">0</text>
<line x1="101.6" y1="1003.3" x2="115" y2="1003.3" stroke="#262626" stroke-width="1.8"/>
<text x="87.8" y="1014.1" font-size="27.7" text-anchor="end" fill="#262626">100</text>
<line x1="101.6" y1="1081.5" x2="115" y2="1081.5" stroke="#262626" stroke-width="1.8"/>
<text x="87.8" y="1092.3" font-size="27.7" text-anchor="end" fill="#262626">200</text>
<line x1="101.6" y1="1159.8" x2="115" y2="1159.8" stroke="#262626" stroke-width="1.8"/>
<text x="87.8" y="1170.6" font-size="27.7" text-anchor="end" fill="#262626">300</text>
<line x1="101.6" y1="1238" x2="115" y2="1238" stroke="#262626" stroke-width="1.8"/>
<text x="87.8" y="1248.8" font-size="27.7" text-anchor="end" fill="#262626">400</text>
<line x1="101.6" y1="1316.2" x2="115" y2="1316.2" stroke="#262626" stroke-width="1.8"/>
<text x="87.8" y="1327" font-size="27.7" text-anchor="end" fill="#262626">500</text>
<text x="432" y="1404.5" font-size="30.4" text-anchor="middle" fill="#262626">Distance(km)</text>
<text transform="translate(25.1 1120.7) rotate(-90)" font-size="30.4" text-anchor="middle" fill="#262626">Depth(m)</text>
<line x1="115" y1="925.1" x2="749" y2="925.1" stroke="#000" stroke-width="1.8"/>
<circle cx="115" cy="925.1" r="5.6" fill="#000"/>
<text x="107.4" y="915.7" font-size="27.7" fill="#000">P1</text>
<circle cx="223" cy="925.1" r="5.6" fill="#000"/>
<text x="215.4" y="915.7" font-size="27.7" fill="#000">P2</text>
<circle cx="275.5" cy="925.1" r="5.6" fill="#000"/>
<text x="267.9" y="915.7" font-size="27.7" fill="#000">P3</text>
<circle cx="373.2" cy="925.1" r="5.6" fill="#000"/>
<text x="365.6" y="915.7" font-size="27.7" fill="#000">P4</text>
<circle cx="508.8" cy="925.1" r="5.6" fill="#000"/>
<text x="501.2" y="915.7" font-size="27.7" fill="#000">P5</text>
<circle cx="626.3" cy="925.1" r="5.6" fill="#000"/>
<text x="618.7" y="915.7" font-size="27.7" fill="#000">P6</text>
<circle cx="749" cy="925.1" r="5.6" fill="#000"/>
<text x="741.4" y="915.7" font-size="27.7" fill="#000">P7</text>
<text x="28" y="844.6" font-size="29.5" font-weight="bold" fill="#000" style="stroke:none">C</text>
</g>
<g id="panelD">
<path d="M873.5 1101.6L890 1156.8L909.5 1119L929.3 1093.5L948.8 1125.6L966 1149L982.2 1125L996.8 1162L1014 1178.5L1033.8 1218.6L1051.3 1211.6L1067.7 1199.8L1083.3 1184.2L1101.5 1179L1115.9 1133.4L1131 1093.8L1143.3 1067L1155.8 1102.1L1167 1120.4L1179.3 1102.9L1192.3 1093.5L1205.9 1113.8L1220.5 1118.5L1233.5 1119L1245 1146.4L1256.2 1164.7L1267.2 1186.6L1272.8 1183.6L1276.7 1203.4L1280.6 1214.5L1284.8 1196.9L1289.1 1214.5L1295.2 1191L1302.1 1193L1306.7 1200.8L1313.8 1206.7L1321.6 1197.6L1329.9 1190.8L1349.7 1188.8L1362 1202.8L1384.6 1198.9L1409.7 1164.3L1434.2 1152.3L1459.9 1187.3L1507.6 1146.9" fill="none" stroke="#000" stroke-width="1.5" stroke-linejoin="miter"/>
<path d="M982.2 1125L996.8 1162L1014 1178.5L1033.8 1218.6L1051.3 1211.6L1067.7 1199.8L1083.3 1184.2L1101.5 1179L1115.9 1133.4L1131 1093.8" fill="none" stroke="#00ff00" stroke-width="4.4" stroke-linejoin="round"/>
<path d="M1267.2 1186.6L1272.8 1183.6L1276.7 1203.4L1280.6 1214.5L1284.8 1196.9L1289.1 1214.5L1295.2 1191L1302.1 1193L1306.7 1200.8L1313.8 1206.7L1321.6 1197.6L1329.9 1190.8L1349.7 1188.8L1362 1202.8L1384.6 1198.9" fill="none" stroke="#ff0000" stroke-width="4.4" stroke-linejoin="round"/>
<circle cx="873.5" cy="1316.2" r="5.6" fill="#0000ff"/>
<circle cx="890" cy="1316.2" r="5.6" fill="#0000ff"/>
<circle cx="909.5" cy="1316.2" r="5.6" fill="#0000ff"/>
<circle cx="929.3" cy="1316.2" r="5.6" fill="#0000ff"/>
<circle cx="948.8" cy="1316.2" r="5.6" fill="#0000ff"/>
<circle cx="966" cy="1316.2" r="5.6" fill="#0000ff"/>
<circle cx="981.7" cy="1316.2" r="5.6" fill="#0000ff"/>
<circle cx="996.8" cy="1316.2" r="5.6" fill="#0000ff"/>
<circle cx="1014" cy="1316.2" r="5.6" fill="#0000ff"/>
<circle cx="1033.8" cy="1316.2" r="5.6" fill="#0000ff"/>
<circle cx="1051.3" cy="1316.2" r="5.6" fill="#0000ff"/>
<circle cx="1067.7" cy="1316.2" r="5.6" fill="#0000ff"/>
<circle cx="1083.3" cy="1316.2" r="5.6" fill="#0000ff"/>
<circle cx="1100.8" cy="1316.2" r="5.6" fill="#0000ff"/>
<circle cx="1115.9" cy="1316.2" r="5.6" fill="#0000ff"/>
<circle cx="1131" cy="1316.2" r="5.6" fill="#0000ff"/>
<circle cx="1143.3" cy="1316.2" r="5.6" fill="#0000ff"/>
<circle cx="1155.8" cy="1316.2" r="5.6" fill="#0000ff"/>
<circle cx="1167" cy="1316.2" r="5.6" fill="#0000ff"/>
<circle cx="1179.3" cy="1316.2" r="5.6" fill="#0000ff"/>
<circle cx="1192.3" cy="1316.2" r="5.6" fill="#0000ff"/>
<circle cx="1205.9" cy="1316.2" r="5.6" fill="#0000ff"/>
<circle cx="1220.5" cy="1316.2" r="5.6" fill="#0000ff"/>
<circle cx="1233.5" cy="1316.2" r="5.6" fill="#0000ff"/>
<circle cx="1245" cy="1316.2" r="5.6" fill="#0000ff"/>
<circle cx="1254.3" cy="1316.2" r="5.6" fill="#0000ff"/>
<circle cx="1261.4" cy="1316.2" r="5.6" fill="#0000ff"/>
<circle cx="1267.4" cy="1316.2" r="5.6" fill="#0000ff"/>
<circle cx="1271.8" cy="1316.2" r="5.6" fill="#0000ff"/>
<circle cx="1275.7" cy="1316.2" r="5.6" fill="#0000ff"/>
<circle cx="1279.6" cy="1316.2" r="5.6" fill="#0000ff"/>
<circle cx="1283.5" cy="1316.2" r="5.6" fill="#0000ff"/>
<circle cx="1288.7" cy="1316.2" r="5.6" fill="#0000ff"/>
<circle cx="1295.3" cy="1316.2" r="5.6" fill="#0000ff"/>
<circle cx="1301.8" cy="1316.2" r="5.6" fill="#0000ff"/>
<circle cx="1307" cy="1316.2" r="5.6" fill="#0000ff"/>
<circle cx="1313.5" cy="1316.2" r="5.6" fill="#0000ff"/>
<circle cx="1322.1" cy="1316.2" r="5.6" fill="#0000ff"/>
<circle cx="1330.4" cy="1316.2" r="5.6" fill="#0000ff"/>
<circle cx="1339.6" cy="1316.2" r="5.6" fill="#0000ff"/>
<circle cx="1349.2" cy="1316.2" r="5.6" fill="#0000ff"/>
<circle cx="1361.7" cy="1316.2" r="5.6" fill="#0000ff"/>
<circle cx="1384.6" cy="1316.2" r="5.6" fill="#0000ff"/>
<circle cx="1409.4" cy="1316.2" r="5.6" fill="#0000ff"/>
<circle cx="1434.2" cy="1316.2" r="5.6" fill="#0000ff"/>
<circle cx="1460" cy="1316.2" r="5.6" fill="#0000ff"/>
<circle cx="1484.7" cy="1316.2" r="5.6" fill="#0000ff"/>
<circle cx="1507.6" cy="1316.2" r="5.6" fill="#0000ff"/>
<text x="1020.5" y="1171.2" font-size="27.5" fill="#000">ITE1</text>
<text x="1298.5" y="1171.2" font-size="27.5" fill="#000">ITE2</text>
<path d="M873.5 925.1L873.5 1316.2L1507.6 1316.2L1507.6 925.1Z" fill="none" stroke="#262626" stroke-width="1.8"/>
<line x1="873.5" y1="1316.2" x2="873.5" y2="1329.6" stroke="#262626" stroke-width="1.8"/>
<text x="873.5" y="1370.4" font-size="27.7" text-anchor="middle" fill="#262626">0</text>
<line x1="1014.4" y1="1316.2" x2="1014.4" y2="1329.6" stroke="#262626" stroke-width="1.8"/>
<text x="1014.4" y="1370.4" font-size="27.7" text-anchor="middle" fill="#262626">200</text>
<line x1="1155.3" y1="1316.2" x2="1155.3" y2="1329.6" stroke="#262626" stroke-width="1.8"/>
<text x="1155.3" y="1370.4" font-size="27.7" text-anchor="middle" fill="#262626">400</text>
<line x1="1296.2" y1="1316.2" x2="1296.2" y2="1329.6" stroke="#262626" stroke-width="1.8"/>
<text x="1296.2" y="1370.4" font-size="27.7" text-anchor="middle" fill="#262626">600</text>
<line x1="1437.1" y1="1316.2" x2="1437.1" y2="1329.6" stroke="#262626" stroke-width="1.8"/>
<text x="1437.1" y="1370.4" font-size="27.7" text-anchor="middle" fill="#262626">800</text>
<line x1="860.1" y1="1316.2" x2="873.5" y2="1316.2" stroke="#262626" stroke-width="1.8"/>
<text x="846.3" y="1327" font-size="27.7" text-anchor="end" fill="#262626">0</text>
<line x1="860.1" y1="1238" x2="873.5" y2="1238" stroke="#262626" stroke-width="1.8"/>
<text x="846.3" y="1248.8" font-size="27.7" text-anchor="end" fill="#262626">1</text>
<line x1="860.1" y1="1159.8" x2="873.5" y2="1159.8" stroke="#262626" stroke-width="1.8"/>
<text x="846.3" y="1170.6" font-size="27.7" text-anchor="end" fill="#262626">2</text>
<line x1="860.1" y1="1081.5" x2="873.5" y2="1081.5" stroke="#262626" stroke-width="1.8"/>
<text x="846.3" y="1092.3" font-size="27.7" text-anchor="end" fill="#262626">3</text>
<line x1="860.1" y1="1003.3" x2="873.5" y2="1003.3" stroke="#262626" stroke-width="1.8"/>
<text x="846.3" y="1014.1" font-size="27.7" text-anchor="end" fill="#262626">4</text>
<line x1="860.1" y1="925.1" x2="873.5" y2="925.1" stroke="#262626" stroke-width="1.8"/>
<text x="846.3" y="935.9" font-size="27.7" text-anchor="end" fill="#262626">5</text>
<text x="1190.5" y="1409.7" font-size="30.4" text-anchor="middle" fill="#262626">Distance(km)</text>
<text transform="translate(814.4 1119.5) rotate(-90)" font-size="30.4" text-anchor="middle" fill="#262626">PV(10<tspan font-size="25.54" dy="-13.7">-10</tspan><tspan dy="13.7">m</tspan><tspan font-size="25.54" dy="-13.7">-1</tspan><tspan dy="13.7">s</tspan><tspan font-size="25.54" dy="-13.7">-1</tspan><tspan dy="13.7">)</tspan></text>
<line x1="873.5" y1="925.1" x2="1507.6" y2="925.1" stroke="#000" stroke-width="1.8"/>
<circle cx="873.5" cy="925.1" r="5.6" fill="#000"/>
<text x="865.9" y="915.7" font-size="27.7" fill="#000">P1</text>
<circle cx="981.5" cy="925.1" r="5.6" fill="#000"/>
<text x="973.9" y="915.7" font-size="27.7" fill="#000">P2</text>
<circle cx="1034" cy="925.1" r="5.6" fill="#000"/>
<text x="1026.4" y="915.7" font-size="27.7" fill="#000">P3</text>
<circle cx="1131.7" cy="925.1" r="5.6" fill="#000"/>
<text x="1124.1" y="915.7" font-size="27.7" fill="#000">P4</text>
<circle cx="1267.3" cy="925.1" r="5.6" fill="#000"/>
<text x="1259.7" y="915.7" font-size="27.7" fill="#000">P5</text>
<circle cx="1384.9" cy="925.1" r="5.6" fill="#000"/>
<text x="1377.3" y="915.7" font-size="27.7" fill="#000">P6</text>
<circle cx="1507.6" cy="925.1" r="5.6" fill="#000"/>
<text x="1500" y="915.7" font-size="27.7" fill="#000">P7</text>
<text x="830" y="844.6" font-size="29.5" font-weight="bold" fill="#000" style="stroke:none">D</text>
</g>
</svg>
</body></html>
